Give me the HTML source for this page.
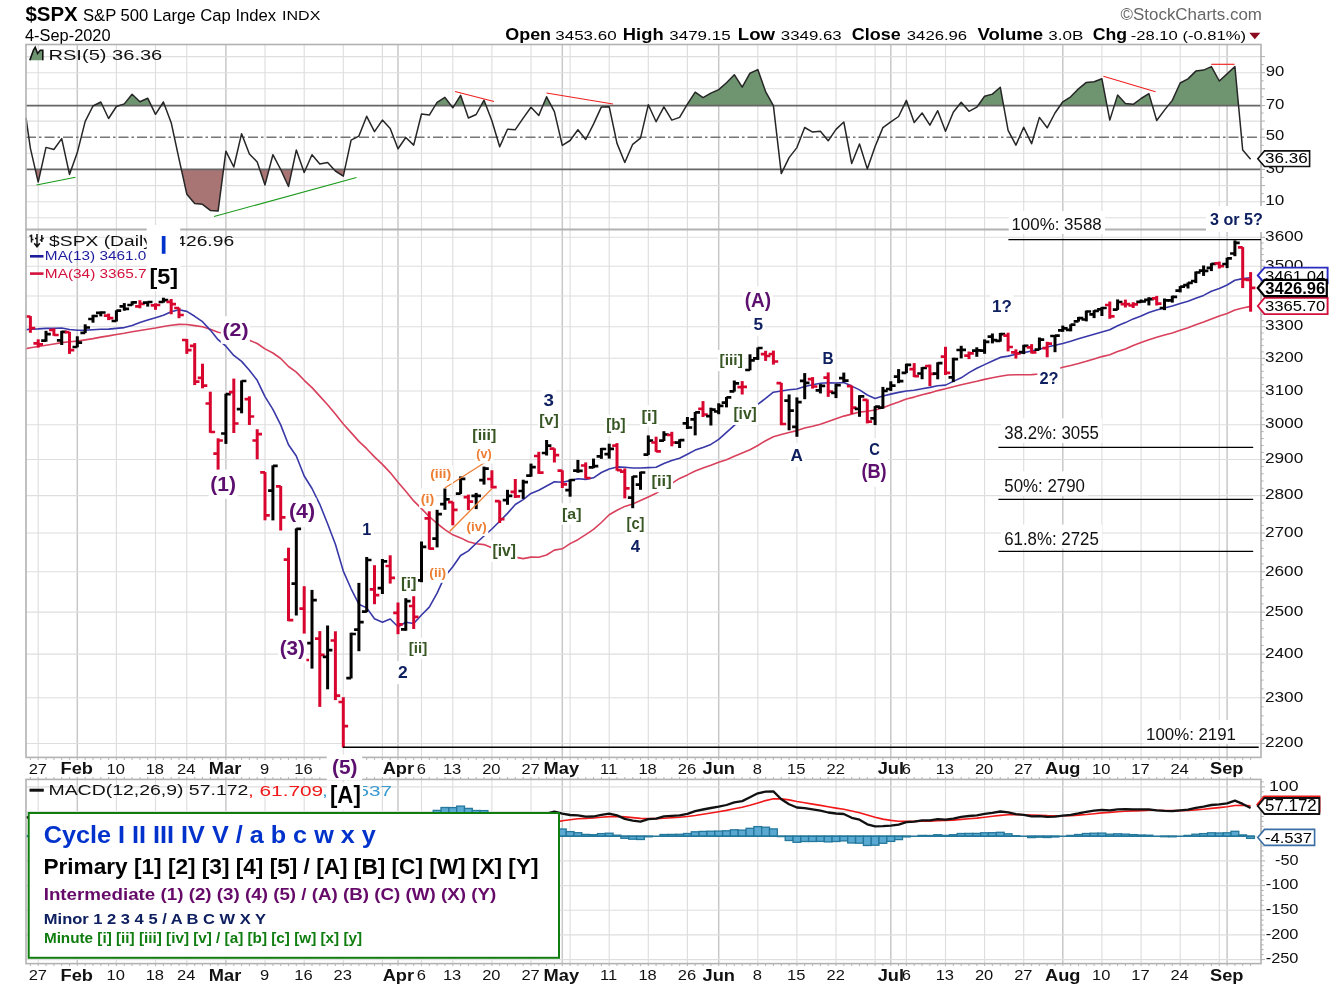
<!DOCTYPE html>
<html><head><meta charset="utf-8"><title>$SPX</title><style>html,body{margin:0;padding:0;background:#fff}svg{display:block;will-change:transform;opacity:0.999}</style></head><body>
<svg width="1329" height="990" viewBox="0 0 1329 990" font-family="Liberation Sans, sans-serif">
<rect width="1329" height="990" fill="#fff"/>
<defs><clipPath id="cR"><rect x="26.0" y="44.5" width="1235.0" height="185.0"/></clipPath><clipPath id="c70"><rect x="26.0" y="44.5" width="1235.0" height="61.099999999999994"/></clipPath><clipPath id="c30"><rect x="26.0" y="169.45" width="1235.0" height="60.05000000000001"/></clipPath><clipPath id="cP"><rect x="26.0" y="229.5" width="1235.0" height="527.9"/></clipPath><clipPath id="cM"><rect x="26.0" y="779.4" width="1235.0" height="184.20000000000005"/></clipPath></defs>
<text x="25.39" y="21.04" font-size="20.74" font-weight="bold" fill="#000" textLength="52.36" lengthAdjust="spacingAndGlyphs">$SPX</text>
<text x="82.95" y="20.67" font-size="16.79" fill="#000" textLength="193.24" lengthAdjust="spacingAndGlyphs">S&amp;P 500 Large Cap Index</text>
<text x="282.06" y="20.00" font-size="13.48" fill="#000" textLength="38.33" lengthAdjust="spacingAndGlyphs">INDX</text>
<text x="24.97" y="40.72" font-size="15.60" fill="#000" textLength="85.62" lengthAdjust="spacingAndGlyphs">4-Sep-2020</text>
<text x="1120.55" y="19.74" font-size="15.65" fill="#666" textLength="141.36" lengthAdjust="spacingAndGlyphs">©StockCharts.com</text>
<text x="505.28" y="39.80" font-size="15.70" font-weight="bold" fill="#000" textLength="45.80" lengthAdjust="spacingAndGlyphs">Open</text>
<text x="555.32" y="39.80" font-size="13.50" fill="#000" textLength="61.27" lengthAdjust="spacingAndGlyphs">3453.60</text>
<text x="622.81" y="39.80" font-size="15.70" font-weight="bold" fill="#000" textLength="40.83" lengthAdjust="spacingAndGlyphs">High</text>
<text x="669.32" y="39.80" font-size="13.50" fill="#000" textLength="61.36" lengthAdjust="spacingAndGlyphs">3479.15</text>
<text x="737.79" y="39.80" font-size="15.70" font-weight="bold" fill="#000" textLength="37.20" lengthAdjust="spacingAndGlyphs">Low</text>
<text x="780.83" y="39.80" font-size="13.50" fill="#000" textLength="60.84" lengthAdjust="spacingAndGlyphs">3349.63</text>
<text x="851.78" y="39.80" font-size="15.70" font-weight="bold" fill="#000" textLength="48.90" lengthAdjust="spacingAndGlyphs">Close</text>
<text x="906.83" y="39.80" font-size="13.50" fill="#000" textLength="60.33" lengthAdjust="spacingAndGlyphs">3426.96</text>
<text x="977.41" y="39.80" font-size="15.70" font-weight="bold" fill="#000" textLength="65.79" lengthAdjust="spacingAndGlyphs">Volume</text>
<text x="1048.32" y="39.80" font-size="13.50" fill="#000" textLength="35.07" lengthAdjust="spacingAndGlyphs">3.0B</text>
<text x="1092.79" y="39.80" font-size="15.70" font-weight="bold" fill="#000" textLength="34.34" lengthAdjust="spacingAndGlyphs">Chg</text>
<text x="1130.75" y="39.80" font-size="13.60" fill="#000" textLength="115.29" lengthAdjust="spacingAndGlyphs">-28.10 (-0.81%)</text>
<polygon points="1249.3,32.8 1260.4,32.8 1254.8,39.2" fill="#8b0a1e"/>
<line x1="38.2" y1="44.5" x2="38.2" y2="229.5" stroke="#dedede" stroke-width="1.15"/>
<line x1="116.4" y1="44.5" x2="116.4" y2="229.5" stroke="#dedede" stroke-width="1.15"/>
<line x1="155.5" y1="44.5" x2="155.5" y2="229.5" stroke="#dedede" stroke-width="1.15"/>
<line x1="186.8" y1="44.5" x2="186.8" y2="229.5" stroke="#dedede" stroke-width="1.15"/>
<line x1="265.0" y1="44.5" x2="265.0" y2="229.5" stroke="#dedede" stroke-width="1.15"/>
<line x1="304.2" y1="44.5" x2="304.2" y2="229.5" stroke="#dedede" stroke-width="1.15"/>
<line x1="343.3" y1="44.5" x2="343.3" y2="229.5" stroke="#dedede" stroke-width="1.15"/>
<line x1="382.4" y1="44.5" x2="382.4" y2="229.5" stroke="#dedede" stroke-width="1.15"/>
<line x1="421.5" y1="44.5" x2="421.5" y2="229.5" stroke="#dedede" stroke-width="1.15"/>
<line x1="452.8" y1="44.5" x2="452.8" y2="229.5" stroke="#dedede" stroke-width="1.15"/>
<line x1="491.9" y1="44.5" x2="491.9" y2="229.5" stroke="#dedede" stroke-width="1.15"/>
<line x1="531.0" y1="44.5" x2="531.0" y2="229.5" stroke="#dedede" stroke-width="1.15"/>
<line x1="570.1" y1="44.5" x2="570.1" y2="229.5" stroke="#dedede" stroke-width="1.15"/>
<line x1="609.2" y1="44.5" x2="609.2" y2="229.5" stroke="#dedede" stroke-width="1.15"/>
<line x1="648.3" y1="44.5" x2="648.3" y2="229.5" stroke="#dedede" stroke-width="1.15"/>
<line x1="687.4" y1="44.5" x2="687.4" y2="229.5" stroke="#dedede" stroke-width="1.15"/>
<line x1="757.8" y1="44.5" x2="757.8" y2="229.5" stroke="#dedede" stroke-width="1.15"/>
<line x1="796.9" y1="44.5" x2="796.9" y2="229.5" stroke="#dedede" stroke-width="1.15"/>
<line x1="836.0" y1="44.5" x2="836.0" y2="229.5" stroke="#dedede" stroke-width="1.15"/>
<line x1="875.1" y1="44.5" x2="875.1" y2="229.5" stroke="#dedede" stroke-width="1.15"/>
<line x1="906.4" y1="44.5" x2="906.4" y2="229.5" stroke="#dedede" stroke-width="1.15"/>
<line x1="945.5" y1="44.5" x2="945.5" y2="229.5" stroke="#dedede" stroke-width="1.15"/>
<line x1="984.6" y1="44.5" x2="984.6" y2="229.5" stroke="#dedede" stroke-width="1.15"/>
<line x1="1023.7" y1="44.5" x2="1023.7" y2="229.5" stroke="#dedede" stroke-width="1.15"/>
<line x1="1101.9" y1="44.5" x2="1101.9" y2="229.5" stroke="#dedede" stroke-width="1.15"/>
<line x1="1141.1" y1="44.5" x2="1141.1" y2="229.5" stroke="#dedede" stroke-width="1.15"/>
<line x1="1180.2" y1="44.5" x2="1180.2" y2="229.5" stroke="#dedede" stroke-width="1.15"/>
<line x1="1219.3" y1="44.5" x2="1219.3" y2="229.5" stroke="#dedede" stroke-width="1.15"/>
<line x1="77.3" y1="44.5" x2="77.3" y2="229.5" stroke="#c8c8c8" stroke-width="1.5"/>
<line x1="225.9" y1="44.5" x2="225.9" y2="229.5" stroke="#c8c8c8" stroke-width="1.5"/>
<line x1="398.0" y1="44.5" x2="398.0" y2="229.5" stroke="#c8c8c8" stroke-width="1.5"/>
<line x1="562.3" y1="44.5" x2="562.3" y2="229.5" stroke="#c8c8c8" stroke-width="1.5"/>
<line x1="718.7" y1="44.5" x2="718.7" y2="229.5" stroke="#c8c8c8" stroke-width="1.5"/>
<line x1="890.8" y1="44.5" x2="890.8" y2="229.5" stroke="#c8c8c8" stroke-width="1.5"/>
<line x1="1062.8" y1="44.5" x2="1062.8" y2="229.5" stroke="#c8c8c8" stroke-width="1.5"/>
<line x1="1227.1" y1="44.5" x2="1227.1" y2="229.5" stroke="#c8c8c8" stroke-width="1.5"/>
<line x1="26.0" y1="217.8" x2="1261.0" y2="217.8" stroke="#dedede" stroke-width="1.1"/>
<line x1="26.0" y1="201.7" x2="1261.0" y2="201.7" stroke="#dedede" stroke-width="1.1"/>
<line x1="26.0" y1="185.6" x2="1261.0" y2="185.6" stroke="#dedede" stroke-width="1.1"/>
<line x1="26.0" y1="153.3" x2="1261.0" y2="153.3" stroke="#dedede" stroke-width="1.1"/>
<line x1="26.0" y1="121.1" x2="1261.0" y2="121.1" stroke="#dedede" stroke-width="1.1"/>
<line x1="26.0" y1="88.8" x2="1261.0" y2="88.8" stroke="#dedede" stroke-width="1.1"/>
<line x1="26.0" y1="72.7" x2="1261.0" y2="72.7" stroke="#dedede" stroke-width="1.1"/>
<line x1="26.0" y1="56.6" x2="1261.0" y2="56.6" stroke="#dedede" stroke-width="1.1"/>
<polygon points="26.0,105.6 26.0,117.8 30.4,148.3 38.2,182.1 46.0,147.4 53.9,149.5 61.7,138.6 69.5,174.4 77.3,152.6 85.2,121.4 93.0,106.0 100.8,102.0 108.6,118.5 116.4,106.5 124.3,103.9 132.1,94.3 139.9,101.7 147.7,98.2 155.5,114.3 163.4,102.0 171.2,122.7 179.0,158.8 186.8,194.2 194.7,203.5 202.5,204.3 210.3,210.4 218.1,211.1 225.9,151.2 233.8,167.0 241.6,133.7 249.4,153.9 257.2,162.0 265.0,184.9 272.9,154.7 280.7,169.5 288.5,186.5 296.3,150.1 304.2,172.5 312.0,154.7 319.8,164.1 327.6,162.4 335.4,171.0 343.3,176.2 351.1,140.1 358.9,136.1 366.7,116.3 374.5,131.7 382.4,120.1 390.2,128.6 398.0,148.8 405.8,137.5 413.7,145.1 421.5,114.0 429.3,115.1 437.1,102.3 444.9,97.4 452.8,107.8 460.6,95.3 468.4,118.0 476.2,114.5 484.0,100.2 491.9,120.7 499.7,146.8 507.5,129.2 515.3,129.7 523.2,118.1 531.0,107.3 538.8,115.4 546.6,96.8 554.4,111.7 562.3,145.4 570.1,140.5 577.9,129.7 585.7,139.5 593.5,124.1 601.4,106.9 609.2,106.7 617.0,143.4 624.8,162.5 632.7,144.3 640.5,138.2 648.3,104.8 656.1,121.7 663.9,106.9 671.8,120.1 679.6,117.4 687.4,104.1 695.2,92.2 703.0,97.6 710.9,93.1 718.7,89.6 726.5,82.7 734.3,74.7 742.2,87.2 750.0,73.2 757.8,69.6 765.6,91.6 773.4,105.7 781.3,173.6 789.1,157.6 796.9,147.6 804.7,127.5 812.6,132.1 820.4,131.3 828.2,140.8 836.0,129.4 843.8,122.0 851.7,163.5 859.5,144.0 867.3,168.9 875.1,146.5 882.9,127.6 890.8,121.9 898.6,116.5 906.4,100.4 914.2,122.5 922.1,113.0 929.9,125.1 937.7,110.7 945.5,131.3 953.3,112.3 961.2,102.3 969.0,111.3 976.8,107.2 984.6,96.2 992.4,94.1 1000.3,87.3 1008.1,130.3 1015.9,145.1 1023.7,127.3 1031.6,143.7 1039.4,117.4 1047.2,127.8 1055.0,113.0 1062.8,101.8 1070.7,96.8 1078.5,88.8 1086.3,82.4 1094.1,81.7 1101.9,78.8 1109.8,120.1 1117.6,95.1 1125.4,103.5 1133.2,104.3 1141.1,98.5 1148.9,93.6 1156.7,120.5 1164.5,110.1 1172.3,100.4 1180.2,83.0 1188.0,78.9 1195.8,71.1 1203.6,70.1 1211.4,66.6 1219.3,81.0 1227.1,73.9 1234.9,66.5 1242.7,150.1 1250.6,159.2 1250.6,105.6" fill="#6e9470" clip-path="url(#c70)"/>
<polygon points="26.0,169.4 26.0,117.8 30.4,148.3 38.2,182.1 46.0,147.4 53.9,149.5 61.7,138.6 69.5,174.4 77.3,152.6 85.2,121.4 93.0,106.0 100.8,102.0 108.6,118.5 116.4,106.5 124.3,103.9 132.1,94.3 139.9,101.7 147.7,98.2 155.5,114.3 163.4,102.0 171.2,122.7 179.0,158.8 186.8,194.2 194.7,203.5 202.5,204.3 210.3,210.4 218.1,211.1 225.9,151.2 233.8,167.0 241.6,133.7 249.4,153.9 257.2,162.0 265.0,184.9 272.9,154.7 280.7,169.5 288.5,186.5 296.3,150.1 304.2,172.5 312.0,154.7 319.8,164.1 327.6,162.4 335.4,171.0 343.3,176.2 351.1,140.1 358.9,136.1 366.7,116.3 374.5,131.7 382.4,120.1 390.2,128.6 398.0,148.8 405.8,137.5 413.7,145.1 421.5,114.0 429.3,115.1 437.1,102.3 444.9,97.4 452.8,107.8 460.6,95.3 468.4,118.0 476.2,114.5 484.0,100.2 491.9,120.7 499.7,146.8 507.5,129.2 515.3,129.7 523.2,118.1 531.0,107.3 538.8,115.4 546.6,96.8 554.4,111.7 562.3,145.4 570.1,140.5 577.9,129.7 585.7,139.5 593.5,124.1 601.4,106.9 609.2,106.7 617.0,143.4 624.8,162.5 632.7,144.3 640.5,138.2 648.3,104.8 656.1,121.7 663.9,106.9 671.8,120.1 679.6,117.4 687.4,104.1 695.2,92.2 703.0,97.6 710.9,93.1 718.7,89.6 726.5,82.7 734.3,74.7 742.2,87.2 750.0,73.2 757.8,69.6 765.6,91.6 773.4,105.7 781.3,173.6 789.1,157.6 796.9,147.6 804.7,127.5 812.6,132.1 820.4,131.3 828.2,140.8 836.0,129.4 843.8,122.0 851.7,163.5 859.5,144.0 867.3,168.9 875.1,146.5 882.9,127.6 890.8,121.9 898.6,116.5 906.4,100.4 914.2,122.5 922.1,113.0 929.9,125.1 937.7,110.7 945.5,131.3 953.3,112.3 961.2,102.3 969.0,111.3 976.8,107.2 984.6,96.2 992.4,94.1 1000.3,87.3 1008.1,130.3 1015.9,145.1 1023.7,127.3 1031.6,143.7 1039.4,117.4 1047.2,127.8 1055.0,113.0 1062.8,101.8 1070.7,96.8 1078.5,88.8 1086.3,82.4 1094.1,81.7 1101.9,78.8 1109.8,120.1 1117.6,95.1 1125.4,103.5 1133.2,104.3 1141.1,98.5 1148.9,93.6 1156.7,120.5 1164.5,110.1 1172.3,100.4 1180.2,83.0 1188.0,78.9 1195.8,71.1 1203.6,70.1 1211.4,66.6 1219.3,81.0 1227.1,73.9 1234.9,66.5 1242.7,150.1 1250.6,159.2 1250.6,169.4" fill="#a87474" clip-path="url(#c30)"/>
<line x1="26.0" y1="105.6" x2="1261.0" y2="105.6" stroke="#666" stroke-width="1.6"/>
<line x1="26.0" y1="169.4" x2="1261.0" y2="169.4" stroke="#666" stroke-width="1.6"/>
<line x1="26.0" y1="137.2" x2="1261.0" y2="137.2" stroke="#777" stroke-width="1.4" stroke-dasharray="10 3 2.5 3"/>
<polyline points="26.0,117.8 30.4,148.3 38.2,182.1 46.0,147.4 53.9,149.5 61.7,138.6 69.5,174.4 77.3,152.6 85.2,121.4 93.0,106.0 100.8,102.0 108.6,118.5 116.4,106.5 124.3,103.9 132.1,94.3 139.9,101.7 147.7,98.2 155.5,114.3 163.4,102.0 171.2,122.7 179.0,158.8 186.8,194.2 194.7,203.5 202.5,204.3 210.3,210.4 218.1,211.1 225.9,151.2 233.8,167.0 241.6,133.7 249.4,153.9 257.2,162.0 265.0,184.9 272.9,154.7 280.7,169.5 288.5,186.5 296.3,150.1 304.2,172.5 312.0,154.7 319.8,164.1 327.6,162.4 335.4,171.0 343.3,176.2 351.1,140.1 358.9,136.1 366.7,116.3 374.5,131.7 382.4,120.1 390.2,128.6 398.0,148.8 405.8,137.5 413.7,145.1 421.5,114.0 429.3,115.1 437.1,102.3 444.9,97.4 452.8,107.8 460.6,95.3 468.4,118.0 476.2,114.5 484.0,100.2 491.9,120.7 499.7,146.8 507.5,129.2 515.3,129.7 523.2,118.1 531.0,107.3 538.8,115.4 546.6,96.8 554.4,111.7 562.3,145.4 570.1,140.5 577.9,129.7 585.7,139.5 593.5,124.1 601.4,106.9 609.2,106.7 617.0,143.4 624.8,162.5 632.7,144.3 640.5,138.2 648.3,104.8 656.1,121.7 663.9,106.9 671.8,120.1 679.6,117.4 687.4,104.1 695.2,92.2 703.0,97.6 710.9,93.1 718.7,89.6 726.5,82.7 734.3,74.7 742.2,87.2 750.0,73.2 757.8,69.6 765.6,91.6 773.4,105.7 781.3,173.6 789.1,157.6 796.9,147.6 804.7,127.5 812.6,132.1 820.4,131.3 828.2,140.8 836.0,129.4 843.8,122.0 851.7,163.5 859.5,144.0 867.3,168.9 875.1,146.5 882.9,127.6 890.8,121.9 898.6,116.5 906.4,100.4 914.2,122.5 922.1,113.0 929.9,125.1 937.7,110.7 945.5,131.3 953.3,112.3 961.2,102.3 969.0,111.3 976.8,107.2 984.6,96.2 992.4,94.1 1000.3,87.3 1008.1,130.3 1015.9,145.1 1023.7,127.3 1031.6,143.7 1039.4,117.4 1047.2,127.8 1055.0,113.0 1062.8,101.8 1070.7,96.8 1078.5,88.8 1086.3,82.4 1094.1,81.7 1101.9,78.8 1109.8,120.1 1117.6,95.1 1125.4,103.5 1133.2,104.3 1141.1,98.5 1148.9,93.6 1156.7,120.5 1164.5,110.1 1172.3,100.4 1180.2,83.0 1188.0,78.9 1195.8,71.1 1203.6,70.1 1211.4,66.6 1219.3,81.0 1227.1,73.9 1234.9,66.5 1242.7,150.1 1250.6,159.2" fill="none" stroke="#262626" stroke-width="1.5" stroke-linejoin="round"/>
<line x1="36.5" y1="185" x2="75.5" y2="177.3" stroke="#1a9a1a" stroke-width="1.15"/>
<line x1="214" y1="216.5" x2="356.5" y2="177.5" stroke="#1a9a1a" stroke-width="1.15"/>
<line x1="455" y1="91.5" x2="494" y2="101.5" stroke="#f02020" stroke-width="1.15"/>
<line x1="546.5" y1="93" x2="613" y2="104" stroke="#f02020" stroke-width="1.15"/>
<line x1="1103.4" y1="76.2" x2="1155.5" y2="91.7" stroke="#f02020" stroke-width="1.15"/>
<line x1="1211.3" y1="64.3" x2="1234.5" y2="64.3" stroke="#f02020" stroke-width="1.15"/>
<path d="M29.8,60.2 L33.5,50 L35.2,47.3 L37.6,53.5 L40.3,50.3 L42.8,50.3 L42.8,60.2 Z" fill="#6e9470"/>
<path d="M29.8,60.2 L33.5,50 L35.2,47.3 L37.6,53.5 L40.3,50.3 L42.8,50.3 L42.8,60.2" fill="none" stroke="#111" stroke-width="1.6"/>
<text x="48.49" y="59.56" font-size="14.01" fill="#111" textLength="113.80" lengthAdjust="spacingAndGlyphs">RSI(5) 36.36</text>
<line x1="38.2" y1="229.5" x2="38.2" y2="757.4" stroke="#dedede" stroke-width="1.15"/>
<line x1="116.4" y1="229.5" x2="116.4" y2="757.4" stroke="#dedede" stroke-width="1.15"/>
<line x1="155.5" y1="229.5" x2="155.5" y2="757.4" stroke="#dedede" stroke-width="1.15"/>
<line x1="186.8" y1="229.5" x2="186.8" y2="757.4" stroke="#dedede" stroke-width="1.15"/>
<line x1="265.0" y1="229.5" x2="265.0" y2="757.4" stroke="#dedede" stroke-width="1.15"/>
<line x1="304.2" y1="229.5" x2="304.2" y2="757.4" stroke="#dedede" stroke-width="1.15"/>
<line x1="343.3" y1="229.5" x2="343.3" y2="757.4" stroke="#dedede" stroke-width="1.15"/>
<line x1="382.4" y1="229.5" x2="382.4" y2="757.4" stroke="#dedede" stroke-width="1.15"/>
<line x1="421.5" y1="229.5" x2="421.5" y2="757.4" stroke="#dedede" stroke-width="1.15"/>
<line x1="452.8" y1="229.5" x2="452.8" y2="757.4" stroke="#dedede" stroke-width="1.15"/>
<line x1="491.9" y1="229.5" x2="491.9" y2="757.4" stroke="#dedede" stroke-width="1.15"/>
<line x1="531.0" y1="229.5" x2="531.0" y2="757.4" stroke="#dedede" stroke-width="1.15"/>
<line x1="570.1" y1="229.5" x2="570.1" y2="757.4" stroke="#dedede" stroke-width="1.15"/>
<line x1="609.2" y1="229.5" x2="609.2" y2="757.4" stroke="#dedede" stroke-width="1.15"/>
<line x1="648.3" y1="229.5" x2="648.3" y2="757.4" stroke="#dedede" stroke-width="1.15"/>
<line x1="687.4" y1="229.5" x2="687.4" y2="757.4" stroke="#dedede" stroke-width="1.15"/>
<line x1="757.8" y1="229.5" x2="757.8" y2="757.4" stroke="#dedede" stroke-width="1.15"/>
<line x1="796.9" y1="229.5" x2="796.9" y2="757.4" stroke="#dedede" stroke-width="1.15"/>
<line x1="836.0" y1="229.5" x2="836.0" y2="757.4" stroke="#dedede" stroke-width="1.15"/>
<line x1="875.1" y1="229.5" x2="875.1" y2="757.4" stroke="#dedede" stroke-width="1.15"/>
<line x1="906.4" y1="229.5" x2="906.4" y2="757.4" stroke="#dedede" stroke-width="1.15"/>
<line x1="945.5" y1="229.5" x2="945.5" y2="757.4" stroke="#dedede" stroke-width="1.15"/>
<line x1="984.6" y1="229.5" x2="984.6" y2="757.4" stroke="#dedede" stroke-width="1.15"/>
<line x1="1023.7" y1="229.5" x2="1023.7" y2="757.4" stroke="#dedede" stroke-width="1.15"/>
<line x1="1101.9" y1="229.5" x2="1101.9" y2="757.4" stroke="#dedede" stroke-width="1.15"/>
<line x1="1141.1" y1="229.5" x2="1141.1" y2="757.4" stroke="#dedede" stroke-width="1.15"/>
<line x1="1180.2" y1="229.5" x2="1180.2" y2="757.4" stroke="#dedede" stroke-width="1.15"/>
<line x1="1219.3" y1="229.5" x2="1219.3" y2="757.4" stroke="#dedede" stroke-width="1.15"/>
<line x1="77.3" y1="229.5" x2="77.3" y2="757.4" stroke="#c8c8c8" stroke-width="1.5"/>
<line x1="225.9" y1="229.5" x2="225.9" y2="757.4" stroke="#c8c8c8" stroke-width="1.5"/>
<line x1="398.0" y1="229.5" x2="398.0" y2="757.4" stroke="#c8c8c8" stroke-width="1.5"/>
<line x1="562.3" y1="229.5" x2="562.3" y2="757.4" stroke="#c8c8c8" stroke-width="1.5"/>
<line x1="718.7" y1="229.5" x2="718.7" y2="757.4" stroke="#c8c8c8" stroke-width="1.5"/>
<line x1="890.8" y1="229.5" x2="890.8" y2="757.4" stroke="#c8c8c8" stroke-width="1.5"/>
<line x1="1062.8" y1="229.5" x2="1062.8" y2="757.4" stroke="#c8c8c8" stroke-width="1.5"/>
<line x1="1227.1" y1="229.5" x2="1227.1" y2="757.4" stroke="#c8c8c8" stroke-width="1.5"/>
<line x1="26.0" y1="743.5" x2="1261.0" y2="743.5" stroke="#dedede" stroke-width="1.1"/>
<line x1="26.0" y1="697.8" x2="1261.0" y2="697.8" stroke="#dedede" stroke-width="1.1"/>
<line x1="26.0" y1="654.1" x2="1261.0" y2="654.1" stroke="#dedede" stroke-width="1.1"/>
<line x1="26.0" y1="612.1" x2="1261.0" y2="612.1" stroke="#dedede" stroke-width="1.1"/>
<line x1="26.0" y1="571.8" x2="1261.0" y2="571.8" stroke="#dedede" stroke-width="1.1"/>
<line x1="26.0" y1="533.0" x2="1261.0" y2="533.0" stroke="#dedede" stroke-width="1.1"/>
<line x1="26.0" y1="495.6" x2="1261.0" y2="495.6" stroke="#dedede" stroke-width="1.1"/>
<line x1="26.0" y1="459.5" x2="1261.0" y2="459.5" stroke="#dedede" stroke-width="1.1"/>
<line x1="26.0" y1="424.7" x2="1261.0" y2="424.7" stroke="#dedede" stroke-width="1.1"/>
<line x1="26.0" y1="391.0" x2="1261.0" y2="391.0" stroke="#dedede" stroke-width="1.1"/>
<line x1="26.0" y1="358.3" x2="1261.0" y2="358.3" stroke="#dedede" stroke-width="1.1"/>
<line x1="26.0" y1="326.7" x2="1261.0" y2="326.7" stroke="#dedede" stroke-width="1.1"/>
<line x1="26.0" y1="296.0" x2="1261.0" y2="296.0" stroke="#dedede" stroke-width="1.1"/>
<line x1="26.0" y1="266.2" x2="1261.0" y2="266.2" stroke="#dedede" stroke-width="1.1"/>
<line x1="26.0" y1="237.3" x2="1261.0" y2="237.3" stroke="#dedede" stroke-width="1.1"/>
<polyline points="22.6,349.4 30.4,347.7 38.2,346.5 46.0,345.3 53.9,344.0 61.7,342.6 69.5,341.8 77.3,341.1 85.2,339.9 93.0,338.6 100.8,337.1 108.6,335.9 116.4,334.5 124.3,333.3 132.1,331.8 139.9,330.5 147.7,329.2 155.5,328.0 163.4,326.5 171.2,325.2 179.0,324.4 186.8,324.5 194.7,325.6 202.5,326.7 210.3,329.2 218.1,332.2 225.9,333.8 233.8,336.4 241.6,337.8 249.4,340.3 257.2,343.5 265.0,348.9 272.9,353.0 280.7,358.5 288.5,366.5 296.3,372.1 304.2,380.3 312.0,387.6 319.8,396.1 327.6,404.7 335.4,413.9 343.3,424.0 351.1,432.6 358.9,441.4 366.7,448.7 374.5,456.9 382.4,464.4 390.2,472.6 398.0,482.2 405.8,491.3 413.7,500.9 421.5,508.6 429.3,516.6 437.1,523.5 444.9,529.6 452.8,534.8 460.6,537.9 468.4,541.7 476.2,543.7 484.0,544.6 491.9,547.7 499.7,550.7 507.5,554.5 515.3,557.1 523.2,558.6 531.0,557.1 538.8,557.3 546.6,555.0 554.4,550.1 562.3,548.8 570.1,543.6 577.9,539.7 585.7,534.7 593.5,529.4 601.4,522.5 609.2,514.8 617.0,510.2 624.8,506.4 632.7,504.0 640.5,500.5 648.3,496.9 656.1,493.3 663.9,487.9 671.8,483.4 679.6,478.4 687.4,474.9 695.2,471.0 703.0,468.0 710.9,465.3 718.7,462.3 726.5,459.8 734.3,456.3 742.2,453.0 750.0,449.7 757.8,445.5 765.6,440.7 773.4,436.7 781.3,434.6 789.1,432.5 796.9,430.6 804.7,428.0 812.6,426.2 820.4,424.2 828.2,421.5 836.0,418.7 843.8,416.1 851.7,414.1 859.5,412.1 867.3,411.3 875.1,410.0 882.9,407.8 890.8,404.8 898.6,402.1 906.4,399.0 914.2,397.1 922.1,394.7 929.9,392.9 937.7,390.6 945.5,388.7 953.3,386.7 961.2,384.8 969.0,383.0 976.8,381.3 984.6,379.4 992.4,377.7 1000.3,376.2 1008.1,375.0 1015.9,374.8 1023.7,374.7 1031.6,374.6 1039.4,374.0 1047.2,371.6 1055.0,369.4 1062.8,367.3 1070.7,365.5 1078.5,363.5 1086.3,361.3 1094.1,358.9 1101.9,356.6 1109.8,354.7 1117.6,351.6 1125.4,348.9 1133.2,345.5 1141.1,342.4 1148.9,339.7 1156.7,337.3 1164.5,335.0 1172.3,332.9 1180.2,330.3 1188.0,327.8 1195.8,324.8 1203.6,322.1 1211.4,318.9 1219.3,316.1 1227.1,313.4 1234.9,310.1 1242.7,308.0 1250.6,306.4" fill="none" stroke="#d8405c" stroke-width="1.6" stroke-linejoin="round" clip-path="url(#cP)"/>
<polyline points="22.6,330.3 30.4,329.1 38.2,328.9 46.0,328.4 53.9,328.4 61.7,328.0 69.5,329.5 77.3,330.3 85.2,330.1 93.0,329.7 100.8,329.3 108.6,329.1 116.4,328.4 124.3,327.6 132.1,325.6 139.9,322.5 147.7,320.0 155.5,317.7 163.4,315.3 171.2,311.8 179.0,309.7 186.8,311.4 194.7,316.3 202.5,321.7 210.3,330.1 218.1,339.7 225.9,346.2 233.8,355.4 241.6,361.4 249.4,370.3 257.2,380.3 265.0,396.6 272.9,409.3 280.7,424.9 288.5,444.7 296.3,456.0 304.2,476.0 312.0,488.5 319.8,504.3 327.6,523.8 335.4,544.3 343.3,571.1 351.1,588.8 358.9,604.2 366.7,607.9 374.5,618.7 382.4,622.3 390.2,619.0 398.0,626.7 405.8,622.2 413.7,623.5 421.5,615.0 429.3,607.1 437.1,593.2 444.9,576.2 452.8,566.7 460.6,555.5 468.4,550.9 476.2,543.3 484.0,536.0 491.9,529.0 499.7,521.2 507.5,513.4 515.3,504.5 523.2,499.6 531.0,493.4 538.8,490.2 546.6,486.0 554.4,481.8 562.3,482.3 570.1,480.6 577.9,478.7 585.7,479.4 593.5,477.8 601.4,472.5 609.2,468.9 617.0,466.9 624.8,467.3 632.7,468.0 640.5,468.0 648.3,467.6 656.1,467.3 663.9,463.5 671.8,460.6 679.6,458.2 687.4,454.3 695.2,450.1 703.0,447.4 710.9,444.4 718.7,439.4 726.5,432.4 734.3,425.3 742.2,418.7 750.0,412.5 757.8,404.4 765.6,398.4 773.4,392.2 781.3,391.0 789.1,389.7 796.9,389.0 804.7,386.5 812.6,384.8 820.4,383.3 828.2,382.8 836.0,383.0 843.8,382.5 851.7,386.1 859.5,389.9 867.3,395.0 875.1,398.5 882.9,396.0 890.8,394.1 898.6,392.4 906.4,391.0 914.2,390.2 922.1,388.8 929.9,387.4 937.7,385.7 945.5,385.1 953.3,381.4 961.2,377.8 969.0,372.6 976.8,368.3 984.6,364.6 992.4,361.0 1000.3,357.4 1008.1,356.1 1015.9,354.3 1023.7,352.6 1031.6,351.0 1039.4,349.2 1047.2,347.0 1055.0,345.2 1062.8,343.5 1070.7,341.3 1078.5,338.8 1086.3,336.4 1094.1,334.2 1101.9,332.1 1109.8,329.8 1117.6,325.8 1125.4,322.6 1133.2,318.9 1141.1,316.0 1148.9,312.6 1156.7,310.1 1164.5,308.0 1172.3,305.9 1180.2,303.4 1188.0,301.2 1195.8,298.3 1203.6,295.4 1211.4,291.3 1219.3,288.6 1227.1,285.0 1234.9,280.3 1242.7,278.6 1250.6,277.7" fill="none" stroke="#3838a8" stroke-width="1.6" stroke-linejoin="round" clip-path="url(#cP)"/>
<path d="M30.4,316.1V332.8" stroke="#d8062f" stroke-width="3" fill="none"/><path d="M25.6,316.5H30.4M30.4,328.1H35.2" stroke="#d8062f" stroke-width="2.7" fill="none"/>
<path d="M38.2,339.3V347.6" stroke="#d8062f" stroke-width="3" fill="none"/><path d="M33.4,343.3H38.2M38.2,344.4H43.0" stroke="#d8062f" stroke-width="2.7" fill="none"/>
<path d="M46.0,330.8V341.7" stroke="#000" stroke-width="3" fill="none"/><path d="M41.2,340.7H46.0M46.0,334.1H50.8" stroke="#000" stroke-width="2.7" fill="none"/>
<path d="M53.9,328.4V335.8" stroke="#d8062f" stroke-width="3" fill="none"/><path d="M49.1,330.0H53.9M53.9,335.0H58.7" stroke="#d8062f" stroke-width="2.7" fill="none"/>
<path d="M61.7,330.8V345.0" stroke="#000" stroke-width="3" fill="none"/><path d="M56.9,340.4H61.7M61.7,331.8H66.5" stroke="#000" stroke-width="2.7" fill="none"/>
<path d="M69.5,331.9V353.9" stroke="#d8062f" stroke-width="3" fill="none"/><path d="M64.7,332.2H69.5M69.5,350.2H74.3" stroke="#d8062f" stroke-width="2.7" fill="none"/>
<path d="M77.3,336.3V347.3" stroke="#000" stroke-width="3" fill="none"/><path d="M72.5,347.0H77.3M77.3,342.7H82.1" stroke="#000" stroke-width="2.7" fill="none"/>
<path d="M85.2,324.3V333.1" stroke="#000" stroke-width="3" fill="none"/><path d="M80.4,332.8H85.2M85.2,327.5H90.0" stroke="#000" stroke-width="2.7" fill="none"/>
<path d="M93.0,314.8V322.7" stroke="#000" stroke-width="3" fill="none"/><path d="M88.2,319.0H93.0M93.0,316.0H97.8" stroke="#000" stroke-width="2.7" fill="none"/>
<path d="M100.8,311.6V316.4" stroke="#000" stroke-width="3" fill="none"/><path d="M96.0,312.8H100.8M100.8,312.5H105.6" stroke="#000" stroke-width="2.7" fill="none"/>
<path d="M108.6,313.6V320.1" stroke="#d8062f" stroke-width="3" fill="none"/><path d="M103.8,315.7H108.6M108.6,318.1H113.4" stroke="#d8062f" stroke-width="2.7" fill="none"/>
<path d="M116.4,310.3V321.5" stroke="#000" stroke-width="3" fill="none"/><path d="M111.6,321.0H116.4M116.4,310.6H121.2" stroke="#000" stroke-width="2.7" fill="none"/>
<path d="M124.3,303.1V310.7" stroke="#000" stroke-width="3" fill="none"/><path d="M119.5,306.4H124.3M124.3,308.9H129.1" stroke="#000" stroke-width="2.7" fill="none"/>
<path d="M132.1,301.3V305.5" stroke="#000" stroke-width="3" fill="none"/><path d="M127.3,305.0H132.1M132.1,302.3H136.9" stroke="#000" stroke-width="2.7" fill="none"/>
<path d="M139.9,300.2V308.3" stroke="#d8062f" stroke-width="3" fill="none"/><path d="M135.1,306.4H139.9M139.9,303.9H144.7" stroke="#d8062f" stroke-width="2.7" fill="none"/>
<path d="M147.7,301.6V306.6" stroke="#000" stroke-width="3" fill="none"/><path d="M142.9,302.7H147.7M147.7,302.0H152.5" stroke="#000" stroke-width="2.7" fill="none"/>
<path d="M155.5,303.3V309.8" stroke="#d8062f" stroke-width="3" fill="none"/><path d="M150.7,305.4H155.5M155.5,305.0H160.3" stroke="#d8062f" stroke-width="2.7" fill="none"/>
<path d="M163.4,297.7V302.7" stroke="#000" stroke-width="3" fill="none"/><path d="M158.6,302.0H163.4M163.4,300.2H168.2" stroke="#000" stroke-width="2.7" fill="none"/>
<path d="M171.2,299.0V314.3" stroke="#d8062f" stroke-width="3" fill="none"/><path d="M166.4,301.9H171.2M171.2,304.1H176.0" stroke="#d8062f" stroke-width="2.7" fill="none"/>
<path d="M179.0,307.7V318.2" stroke="#d8062f" stroke-width="3" fill="none"/><path d="M174.2,308.0H179.0M179.0,315.0H183.8" stroke="#d8062f" stroke-width="2.7" fill="none"/>
<path d="M186.8,339.0V353.9" stroke="#d8062f" stroke-width="3" fill="none"/><path d="M182.0,340.0H186.8M186.8,350.1H191.6" stroke="#d8062f" stroke-width="2.7" fill="none"/>
<path d="M194.7,343.1V385.1" stroke="#d8062f" stroke-width="3" fill="none"/><path d="M189.9,345.9H194.7M194.7,381.7H199.5" stroke="#d8062f" stroke-width="2.7" fill="none"/>
<path d="M202.5,363.7V388.3" stroke="#d8062f" stroke-width="3" fill="none"/><path d="M197.7,377.8H202.5M202.5,385.6H207.3" stroke="#d8062f" stroke-width="2.7" fill="none"/>
<path d="M210.3,391.7V432.8" stroke="#d8062f" stroke-width="3" fill="none"/><path d="M205.5,403.5H210.3M210.3,432.0H215.1" stroke="#d8062f" stroke-width="2.7" fill="none"/>
<path d="M218.1,438.3V475.6" stroke="#d8062f" stroke-width="3" fill="none"/><path d="M213.3,453.6H218.1M218.1,440.5H222.9" stroke="#d8062f" stroke-width="2.7" fill="none"/>
<path d="M225.9,393.7V443.9" stroke="#000" stroke-width="3" fill="none"/><path d="M221.1,433.5H225.9M225.9,394.2H230.7" stroke="#000" stroke-width="2.7" fill="none"/>
<path d="M233.8,378.6V433.0" stroke="#d8062f" stroke-width="3" fill="none"/><path d="M229.0,392.2H233.8M233.8,423.5H238.6" stroke="#d8062f" stroke-width="2.7" fill="none"/>
<path d="M241.6,380.5V413.3" stroke="#000" stroke-width="3" fill="none"/><path d="M236.8,409.1H241.6M241.6,381.0H246.4" stroke="#000" stroke-width="2.7" fill="none"/>
<path d="M249.4,396.3V425.0" stroke="#d8062f" stroke-width="3" fill="none"/><path d="M244.6,399.1H249.4M249.4,416.5H254.2" stroke="#d8062f" stroke-width="2.7" fill="none"/>
<path d="M257.2,429.2V459.3" stroke="#d8062f" stroke-width="3" fill="none"/><path d="M252.4,440.5H257.2M257.2,434.2H262.0" stroke="#d8062f" stroke-width="2.7" fill="none"/>
<path d="M265.0,472.1V520.3" stroke="#d8062f" stroke-width="3" fill="none"/><path d="M260.2,472.4H265.0M265.0,515.4H269.8" stroke="#d8062f" stroke-width="2.7" fill="none"/>
<path d="M272.9,465.4V520.4" stroke="#000" stroke-width="3" fill="none"/><path d="M268.1,490.7H272.9M272.9,465.9H277.7" stroke="#000" stroke-width="2.7" fill="none"/>
<path d="M280.7,486.0V530.5" stroke="#d8062f" stroke-width="3" fill="none"/><path d="M275.9,486.3H280.7M280.7,517.4H285.5" stroke="#d8062f" stroke-width="2.7" fill="none"/>
<path d="M288.5,547.7V621.1" stroke="#d8062f" stroke-width="3" fill="none"/><path d="M283.7,559.7H288.5M288.5,620.1H293.3" stroke="#d8062f" stroke-width="2.7" fill="none"/>
<path d="M296.3,528.4V615.5" stroke="#000" stroke-width="3" fill="none"/><path d="M291.5,583.7H296.3M296.3,528.8H301.1" stroke="#000" stroke-width="2.7" fill="none"/>
<path d="M304.2,586.2V662.6" stroke="#d8062f" stroke-width="3" fill="none"/><path d="M299.4,608.6H304.2M304.2,660.0H309.0" stroke="#d8062f" stroke-width="2.7" fill="none"/>
<path d="M312.0,589.9V668.6" stroke="#000" stroke-width="3" fill="none"/><path d="M307.2,643.1H312.0M312.0,600.2H316.8" stroke="#000" stroke-width="2.7" fill="none"/>
<path d="M319.8,631.1V706.9" stroke="#d8062f" stroke-width="3" fill="none"/><path d="M315.0,638.6H319.8M319.8,654.9H324.6" stroke="#d8062f" stroke-width="2.7" fill="none"/>
<path d="M327.6,625.5V689.3" stroke="#000" stroke-width="3" fill="none"/><path d="M322.8,656.9H327.6M327.6,650.1H332.4" stroke="#000" stroke-width="2.7" fill="none"/>
<path d="M335.4,631.3V700.1" stroke="#d8062f" stroke-width="3" fill="none"/><path d="M330.6,640.5H335.4M335.4,695.6H340.2" stroke="#d8062f" stroke-width="2.7" fill="none"/>
<path d="M343.3,697.2V747.6" stroke="#d8062f" stroke-width="3" fill="none"/><path d="M338.5,702.0H343.3M343.3,726.2H348.1" stroke="#d8062f" stroke-width="2.7" fill="none"/>
<path d="M351.1,632.7V678.4" stroke="#000" stroke-width="3" fill="none"/><path d="M346.3,678.1H351.1M351.1,634.0H355.9" stroke="#000" stroke-width="2.7" fill="none"/>
<path d="M358.9,582.9V651.2" stroke="#000" stroke-width="3" fill="none"/><path d="M354.1,629.6H358.9M358.9,622.2H363.7" stroke="#000" stroke-width="2.7" fill="none"/>
<path d="M366.7,557.0V612.1" stroke="#000" stroke-width="3" fill="none"/><path d="M361.9,611.6H366.7M366.7,560.0H371.5" stroke="#000" stroke-width="2.7" fill="none"/>
<path d="M374.5,565.2V604.2" stroke="#d8062f" stroke-width="3" fill="none"/><path d="M369.7,589.4H374.5M374.5,595.2H379.3" stroke="#d8062f" stroke-width="2.7" fill="none"/>
<path d="M382.4,559.0V594.0" stroke="#000" stroke-width="3" fill="none"/><path d="M377.6,588.1H382.4M382.4,561.3H387.2" stroke="#000" stroke-width="2.7" fill="none"/>
<path d="M390.2,555.3V583.6" stroke="#d8062f" stroke-width="3" fill="none"/><path d="M385.4,566.0H390.2M390.2,577.9H395.0" stroke="#d8062f" stroke-width="2.7" fill="none"/>
<path d="M398.0,602.5V634.2" stroke="#d8062f" stroke-width="3" fill="none"/><path d="M393.2,612.9H398.0M398.0,624.3H402.8" stroke="#d8062f" stroke-width="2.7" fill="none"/>
<path d="M405.8,598.2V630.7" stroke="#000" stroke-width="3" fill="none"/><path d="M401.0,629.3H405.8M405.8,601.1H410.6" stroke="#000" stroke-width="2.7" fill="none"/>
<path d="M413.7,596.2V629.0" stroke="#d8062f" stroke-width="3" fill="none"/><path d="M408.9,606.0H413.7M413.7,616.8H418.5" stroke="#d8062f" stroke-width="2.7" fill="none"/>
<path d="M421.5,541.5V582.2" stroke="#000" stroke-width="3" fill="none"/><path d="M416.7,580.4H421.5M421.5,546.9H426.3" stroke="#000" stroke-width="2.7" fill="none"/>
<path d="M429.3,511.3V549.5" stroke="#d8062f" stroke-width="3" fill="none"/><path d="M424.5,518.4H429.3M429.3,548.6H434.1" stroke="#d8062f" stroke-width="2.7" fill="none"/>
<path d="M437.1,509.8V547.4" stroke="#000" stroke-width="3" fill="none"/><path d="M432.3,538.7H437.1M437.1,514.1H441.9" stroke="#000" stroke-width="2.7" fill="none"/>
<path d="M444.9,488.5V509.8" stroke="#000" stroke-width="3" fill="none"/><path d="M440.1,504.1H444.9M444.9,499.4H449.7" stroke="#000" stroke-width="2.7" fill="none"/>
<path d="M452.8,501.8V525.3" stroke="#d8062f" stroke-width="3" fill="none"/><path d="M448.0,502.1H452.8M452.8,509.8H457.6" stroke="#d8062f" stroke-width="2.7" fill="none"/>
<path d="M460.6,476.4V494.0" stroke="#000" stroke-width="3" fill="none"/><path d="M455.8,493.7H460.6M460.6,478.8H465.4" stroke="#000" stroke-width="2.7" fill="none"/>
<path d="M468.4,494.6V510.1" stroke="#d8062f" stroke-width="3" fill="none"/><path d="M463.6,497.2H468.4M468.4,501.7H473.2" stroke="#d8062f" stroke-width="2.7" fill="none"/>
<path d="M476.2,492.9V509.1" stroke="#000" stroke-width="3" fill="none"/><path d="M471.4,495.9H476.2M476.2,495.8H481.0" stroke="#000" stroke-width="2.7" fill="none"/>
<path d="M484.0,466.6V484.6" stroke="#000" stroke-width="3" fill="none"/><path d="M479.2,480.1H484.0M484.0,468.6H488.8" stroke="#000" stroke-width="2.7" fill="none"/>
<path d="M491.9,470.3V488.4" stroke="#d8062f" stroke-width="3" fill="none"/><path d="M487.1,479.0H491.9M491.9,487.1H496.7" stroke="#d8062f" stroke-width="2.7" fill="none"/>
<path d="M499.7,500.6V523.0" stroke="#d8062f" stroke-width="3" fill="none"/><path d="M494.9,501.2H499.7M499.7,519.2H504.5" stroke="#d8062f" stroke-width="2.7" fill="none"/>
<path d="M507.5,489.8V504.8" stroke="#000" stroke-width="3" fill="none"/><path d="M502.7,500.1H507.5M507.5,495.9H512.3" stroke="#000" stroke-width="2.7" fill="none"/>
<path d="M515.3,479.0V498.0" stroke="#d8062f" stroke-width="3" fill="none"/><path d="M510.5,491.8H515.3M515.3,496.4H520.1" stroke="#d8062f" stroke-width="2.7" fill="none"/>
<path d="M523.2,479.7V498.9" stroke="#000" stroke-width="3" fill="none"/><path d="M518.4,491.0H523.2M523.2,482.2H528.0" stroke="#000" stroke-width="2.7" fill="none"/>
<path d="M531.0,463.6V476.7" stroke="#000" stroke-width="3" fill="none"/><path d="M526.2,475.7H531.0M531.0,467.2H535.8" stroke="#000" stroke-width="2.7" fill="none"/>
<path d="M538.8,451.8V473.9" stroke="#d8062f" stroke-width="3" fill="none"/><path d="M534.0,456.0H538.8M538.8,472.6H543.6" stroke="#d8062f" stroke-width="2.7" fill="none"/>
<path d="M546.6,440.0V455.5" stroke="#000" stroke-width="3" fill="none"/><path d="M541.8,453.0H546.6M546.6,445.6H551.4" stroke="#000" stroke-width="2.7" fill="none"/>
<path d="M554.4,448.3V462.5" stroke="#d8062f" stroke-width="3" fill="none"/><path d="M549.6,448.6H554.4M554.4,455.1H559.2" stroke="#d8062f" stroke-width="2.7" fill="none"/>
<path d="M562.3,470.3V488.0" stroke="#d8062f" stroke-width="3" fill="none"/><path d="M557.5,470.6H562.3M562.3,484.4H567.1" stroke="#d8062f" stroke-width="2.7" fill="none"/>
<path d="M570.1,479.2V496.7" stroke="#000" stroke-width="3" fill="none"/><path d="M565.3,490.1H570.1M570.1,480.0H574.9" stroke="#000" stroke-width="2.7" fill="none"/>
<path d="M577.9,459.9V472.8" stroke="#000" stroke-width="3" fill="none"/><path d="M573.1,470.6H577.9M577.9,470.8H582.7" stroke="#000" stroke-width="2.7" fill="none"/>
<path d="M585.7,462.4V478.6" stroke="#d8062f" stroke-width="3" fill="none"/><path d="M580.9,465.5H585.7M585.7,478.0H590.5" stroke="#d8062f" stroke-width="2.7" fill="none"/>
<path d="M593.5,458.6V468.2" stroke="#000" stroke-width="3" fill="none"/><path d="M588.7,467.3H593.5M593.5,466.2H598.3" stroke="#000" stroke-width="2.7" fill="none"/>
<path d="M601.4,447.9V458.8" stroke="#000" stroke-width="3" fill="none"/><path d="M596.6,456.4H601.4M601.4,449.0H606.2" stroke="#000" stroke-width="2.7" fill="none"/>
<path d="M609.2,443.7V458.6" stroke="#000" stroke-width="3" fill="none"/><path d="M604.4,454.1H609.2M609.2,448.9H614.0" stroke="#000" stroke-width="2.7" fill="none"/>
<path d="M617.0,443.1V470.7" stroke="#d8062f" stroke-width="3" fill="none"/><path d="M612.2,445.6H617.0M617.0,470.2H621.8" stroke="#d8062f" stroke-width="2.7" fill="none"/>
<path d="M624.8,468.4V498.4" stroke="#d8062f" stroke-width="3" fill="none"/><path d="M620.0,471.7H624.8M624.8,488.3H629.6" stroke="#d8062f" stroke-width="2.7" fill="none"/>
<path d="M632.7,476.1V508.2" stroke="#000" stroke-width="3" fill="none"/><path d="M627.9,497.6H632.7M632.7,476.5H637.5" stroke="#000" stroke-width="2.7" fill="none"/>
<path d="M640.5,471.7V489.8" stroke="#000" stroke-width="3" fill="none"/><path d="M635.7,484.7H640.5M640.5,472.5H645.3" stroke="#000" stroke-width="2.7" fill="none"/>
<path d="M648.3,435.4V454.9" stroke="#000" stroke-width="3" fill="none"/><path d="M643.5,454.6H648.3M648.3,440.6H653.1" stroke="#000" stroke-width="2.7" fill="none"/>
<path d="M656.1,436.7V451.9" stroke="#d8062f" stroke-width="3" fill="none"/><path d="M651.3,442.5H656.1M656.1,451.4H660.9" stroke="#d8062f" stroke-width="2.7" fill="none"/>
<path d="M663.9,431.2V441.0" stroke="#000" stroke-width="3" fill="none"/><path d="M659.1,440.7H663.9M663.9,434.5H668.7" stroke="#000" stroke-width="2.7" fill="none"/>
<path d="M671.8,431.8V446.3" stroke="#d8062f" stroke-width="3" fill="none"/><path d="M667.0,435.0H671.8M671.8,442.5H676.6" stroke="#d8062f" stroke-width="2.7" fill="none"/>
<path d="M679.6,439.3V448.0" stroke="#000" stroke-width="3" fill="none"/><path d="M674.8,442.6H679.6M679.6,440.1H684.4" stroke="#000" stroke-width="2.7" fill="none"/>
<path d="M687.4,417.0V429.0" stroke="#000" stroke-width="3" fill="none"/><path d="M682.6,423.3H687.4M687.4,427.5H692.2" stroke="#000" stroke-width="2.7" fill="none"/>
<path d="M695.2,412.0V435.4" stroke="#000" stroke-width="3" fill="none"/><path d="M690.4,419.3H695.2M695.2,412.4H700.0" stroke="#000" stroke-width="2.7" fill="none"/>
<path d="M703.0,401.1V417.0" stroke="#d8062f" stroke-width="3" fill="none"/><path d="M698.2,408.8H703.0M703.0,414.5H707.8" stroke="#d8062f" stroke-width="2.7" fill="none"/>
<path d="M710.9,407.7V425.5" stroke="#000" stroke-width="3" fill="none"/><path d="M706.1,416.1H710.9M710.9,409.6H715.7" stroke="#000" stroke-width="2.7" fill="none"/>
<path d="M718.7,403.3V414.2" stroke="#000" stroke-width="3" fill="none"/><path d="M713.9,411.5H718.7M718.7,405.8H723.5" stroke="#000" stroke-width="2.7" fill="none"/>
<path d="M726.5,397.0V407.4" stroke="#000" stroke-width="3" fill="none"/><path d="M721.7,402.7H726.5M726.5,397.4H731.3" stroke="#000" stroke-width="2.7" fill="none"/>
<path d="M734.3,380.5V391.6" stroke="#000" stroke-width="3" fill="none"/><path d="M729.5,391.3H734.3M734.3,383.4H739.1" stroke="#000" stroke-width="2.7" fill="none"/>
<path d="M742.2,381.1V394.5" stroke="#d8062f" stroke-width="3" fill="none"/><path d="M737.4,387.2H742.2M742.2,386.9H747.0" stroke="#d8062f" stroke-width="2.7" fill="none"/>
<path d="M750.0,354.3V370.3" stroke="#000" stroke-width="3" fill="none"/><path d="M745.2,370.0H750.0M750.0,360.3H754.8" stroke="#000" stroke-width="2.7" fill="none"/>
<path d="M757.8,347.5V359.9" stroke="#000" stroke-width="3" fill="none"/><path d="M753.0,358.4H757.8M757.8,348.0H762.6" stroke="#000" stroke-width="2.7" fill="none"/>
<path d="M765.6,350.8V360.9" stroke="#d8062f" stroke-width="3" fill="none"/><path d="M760.8,354.1H765.6M765.6,356.0H770.4" stroke="#d8062f" stroke-width="2.7" fill="none"/>
<path d="M773.4,350.6V364.6" stroke="#d8062f" stroke-width="3" fill="none"/><path d="M768.6,354.0H773.4M773.4,361.5H778.2" stroke="#d8062f" stroke-width="2.7" fill="none"/>
<path d="M781.3,382.9V425.2" stroke="#d8062f" stroke-width="3" fill="none"/><path d="M776.5,383.2H781.3M781.3,424.0H786.1" stroke="#d8062f" stroke-width="2.7" fill="none"/>
<path d="M789.1,394.5V430.3" stroke="#000" stroke-width="3" fill="none"/><path d="M784.3,400.6H789.1M789.1,410.6H793.9" stroke="#000" stroke-width="2.7" fill="none"/>
<path d="M796.9,397.4V436.8" stroke="#000" stroke-width="3" fill="none"/><path d="M792.1,426.8H796.9M796.9,402.1H801.7" stroke="#000" stroke-width="2.7" fill="none"/>
<path d="M804.7,373.1V399.2" stroke="#000" stroke-width="3" fill="none"/><path d="M799.9,380.8H804.7M804.7,382.8H809.5" stroke="#000" stroke-width="2.7" fill="none"/>
<path d="M812.6,377.1V388.6" stroke="#d8062f" stroke-width="3" fill="none"/><path d="M807.8,379.1H812.6M812.6,386.5H817.4" stroke="#d8062f" stroke-width="2.7" fill="none"/>
<path d="M820.4,384.1V393.4" stroke="#000" stroke-width="3" fill="none"/><path d="M815.6,390.4H820.4M820.4,385.9H825.2" stroke="#000" stroke-width="2.7" fill="none"/>
<path d="M828.2,372.4V396.9" stroke="#d8062f" stroke-width="3" fill="none"/><path d="M823.4,377.7H828.2M828.2,391.7H833.0" stroke="#d8062f" stroke-width="2.7" fill="none"/>
<path d="M836.0,383.8V398.1" stroke="#000" stroke-width="3" fill="none"/><path d="M831.2,392.8H836.0M836.0,385.1H840.8" stroke="#000" stroke-width="2.7" fill="none"/>
<path d="M843.8,372.6V382.3" stroke="#000" stroke-width="3" fill="none"/><path d="M839.0,378.2H843.8M843.8,380.7H848.6" stroke="#000" stroke-width="2.7" fill="none"/>
<path d="M851.7,385.7V414.0" stroke="#d8062f" stroke-width="3" fill="none"/><path d="M846.9,386.2H851.7M851.7,407.6H856.5" stroke="#d8062f" stroke-width="2.7" fill="none"/>
<path d="M859.5,395.2V416.8" stroke="#000" stroke-width="3" fill="none"/><path d="M854.7,408.8H859.5M859.5,396.4H864.3" stroke="#000" stroke-width="2.7" fill="none"/>
<path d="M867.3,399.4V423.4" stroke="#d8062f" stroke-width="3" fill="none"/><path d="M862.5,399.9H867.3M867.3,421.6H872.1" stroke="#d8062f" stroke-width="2.7" fill="none"/>
<path d="M875.1,406.1V425.1" stroke="#000" stroke-width="3" fill="none"/><path d="M870.3,418.3H875.1M875.1,406.6H879.9" stroke="#000" stroke-width="2.7" fill="none"/>
<path d="M882.9,386.9V408.7" stroke="#000" stroke-width="3" fill="none"/><path d="M878.1,407.6H882.9M882.9,390.9H887.7" stroke="#000" stroke-width="2.7" fill="none"/>
<path d="M890.8,381.3V390.9" stroke="#000" stroke-width="3" fill="none"/><path d="M886.0,389.0H890.8M890.8,385.7H895.6" stroke="#000" stroke-width="2.7" fill="none"/>
<path d="M898.6,369.1V383.2" stroke="#000" stroke-width="3" fill="none"/><path d="M893.8,376.6H898.6M898.6,381.1H903.4" stroke="#000" stroke-width="2.7" fill="none"/>
<path d="M906.4,363.7V373.1" stroke="#000" stroke-width="3" fill="none"/><path d="M901.6,372.8H906.4M906.4,364.9H911.2" stroke="#000" stroke-width="2.7" fill="none"/>
<path d="M914.2,363.1V377.1" stroke="#d8062f" stroke-width="3" fill="none"/><path d="M909.4,369.2H914.2M914.2,376.1H919.0" stroke="#d8062f" stroke-width="2.7" fill="none"/>
<path d="M922.1,367.1V379.2" stroke="#000" stroke-width="3" fill="none"/><path d="M917.3,373.5H922.1M922.1,368.0H926.9" stroke="#000" stroke-width="2.7" fill="none"/>
<path d="M929.9,364.6V386.1" stroke="#d8062f" stroke-width="3" fill="none"/><path d="M925.1,366.0H929.9M929.9,373.9H934.7" stroke="#d8062f" stroke-width="2.7" fill="none"/>
<path d="M937.7,362.3V379.3" stroke="#000" stroke-width="3" fill="none"/><path d="M932.9,373.7H937.7M937.7,363.2H942.5" stroke="#000" stroke-width="2.7" fill="none"/>
<path d="M945.5,346.8V375.0" stroke="#d8062f" stroke-width="3" fill="none"/><path d="M940.7,356.7H945.5M945.5,372.8H950.3" stroke="#d8062f" stroke-width="2.7" fill="none"/>
<path d="M953.3,357.7V382.1" stroke="#000" stroke-width="3" fill="none"/><path d="M948.5,377.4H953.3M953.3,359.1H958.1" stroke="#000" stroke-width="2.7" fill="none"/>
<path d="M961.2,345.8V358.4" stroke="#000" stroke-width="3" fill="none"/><path d="M956.4,350.0H961.2M961.2,349.8H966.0" stroke="#000" stroke-width="2.7" fill="none"/>
<path d="M969.0,351.5V359.1" stroke="#d8062f" stroke-width="3" fill="none"/><path d="M964.2,355.7H969.0M969.0,353.4H973.8" stroke="#d8062f" stroke-width="2.7" fill="none"/>
<path d="M976.8,347.3V356.8" stroke="#000" stroke-width="3" fill="none"/><path d="M972.0,350.6H976.8M976.8,350.4H981.6" stroke="#000" stroke-width="2.7" fill="none"/>
<path d="M984.6,339.4V353.8" stroke="#000" stroke-width="3" fill="none"/><path d="M979.8,350.6H984.6M984.6,341.8H989.4" stroke="#000" stroke-width="2.7" fill="none"/>
<path d="M992.4,333.5V343.4" stroke="#000" stroke-width="3" fill="none"/><path d="M987.6,336.6H992.4M992.4,340.1H997.2" stroke="#000" stroke-width="2.7" fill="none"/>
<path d="M1000.3,332.9V341.7" stroke="#000" stroke-width="3" fill="none"/><path d="M995.5,340.9H1000.3M1000.3,334.2H1005.1" stroke="#000" stroke-width="2.7" fill="none"/>
<path d="M1008.1,332.7V351.4" stroke="#d8062f" stroke-width="3" fill="none"/><path d="M1003.3,335.6H1008.1M1008.1,347.0H1012.9" stroke="#d8062f" stroke-width="2.7" fill="none"/>
<path d="M1015.9,349.3V358.6" stroke="#d8062f" stroke-width="3" fill="none"/><path d="M1011.1,352.4H1015.9M1015.9,353.3H1020.7" stroke="#d8062f" stroke-width="2.7" fill="none"/>
<path d="M1023.7,344.8V354.1" stroke="#000" stroke-width="3" fill="none"/><path d="M1018.9,352.0H1023.7M1023.7,345.8H1028.5" stroke="#000" stroke-width="2.7" fill="none"/>
<path d="M1031.6,344.1V353.5" stroke="#d8062f" stroke-width="3" fill="none"/><path d="M1026.8,347.4H1031.6M1031.6,352.4H1036.4" stroke="#d8062f" stroke-width="2.7" fill="none"/>
<path d="M1039.4,337.5V349.9" stroke="#000" stroke-width="3" fill="none"/><path d="M1034.6,349.6H1039.4M1039.4,339.7H1044.2" stroke="#000" stroke-width="2.7" fill="none"/>
<path d="M1047.2,341.8V357.3" stroke="#d8062f" stroke-width="3" fill="none"/><path d="M1042.4,348.2H1047.2M1047.2,343.6H1052.0" stroke="#d8062f" stroke-width="2.7" fill="none"/>
<path d="M1055.0,335.1V352.2" stroke="#000" stroke-width="3" fill="none"/><path d="M1050.2,336.0H1055.0M1055.0,335.7H1059.8" stroke="#000" stroke-width="2.7" fill="none"/>
<path d="M1062.8,325.6V331.8" stroke="#000" stroke-width="3" fill="none"/><path d="M1058.0,330.4H1062.8M1062.8,328.4H1067.6" stroke="#000" stroke-width="2.7" fill="none"/>
<path d="M1070.7,324.3V331.3" stroke="#000" stroke-width="3" fill="none"/><path d="M1065.9,329.9H1070.7M1070.7,324.7H1075.5" stroke="#000" stroke-width="2.7" fill="none"/>
<path d="M1078.5,316.9V321.6" stroke="#000" stroke-width="3" fill="none"/><path d="M1073.7,321.3H1078.5M1078.5,318.1H1083.3" stroke="#000" stroke-width="2.7" fill="none"/>
<path d="M1086.3,310.6V321.4" stroke="#000" stroke-width="3" fill="none"/><path d="M1081.5,319.5H1086.3M1086.3,311.5H1091.1" stroke="#000" stroke-width="2.7" fill="none"/>
<path d="M1094.1,310.2V318.1" stroke="#000" stroke-width="3" fill="none"/><path d="M1089.3,314.3H1094.1M1094.1,310.9H1098.9" stroke="#000" stroke-width="2.7" fill="none"/>
<path d="M1101.9,306.9V316.0" stroke="#000" stroke-width="3" fill="none"/><path d="M1097.1,309.4H1101.9M1101.9,308.0H1106.7" stroke="#000" stroke-width="2.7" fill="none"/>
<path d="M1109.8,301.5V318.8" stroke="#d8062f" stroke-width="3" fill="none"/><path d="M1105.0,305.0H1109.8M1109.8,316.3H1114.6" stroke="#d8062f" stroke-width="2.7" fill="none"/>
<path d="M1117.6,299.4V309.9" stroke="#000" stroke-width="3" fill="none"/><path d="M1112.8,309.6H1117.6M1117.6,302.0H1122.4" stroke="#000" stroke-width="2.7" fill="none"/>
<path d="M1125.4,299.6V307.5" stroke="#d8062f" stroke-width="3" fill="none"/><path d="M1120.6,304.2H1125.4M1125.4,304.1H1130.2" stroke="#d8062f" stroke-width="2.7" fill="none"/>
<path d="M1133.2,302.2V308.0" stroke="#d8062f" stroke-width="3" fill="none"/><path d="M1128.4,305.5H1133.2M1133.2,304.3H1138.0" stroke="#d8062f" stroke-width="2.7" fill="none"/>
<path d="M1141.1,299.5V302.6" stroke="#000" stroke-width="3" fill="none"/><path d="M1136.3,301.8H1141.1M1141.1,301.5H1145.9" stroke="#000" stroke-width="2.7" fill="none"/>
<path d="M1148.9,297.2V305.4" stroke="#000" stroke-width="3" fill="none"/><path d="M1144.1,299.9H1148.9M1148.9,299.1H1153.7" stroke="#000" stroke-width="2.7" fill="none"/>
<path d="M1156.7,295.9V305.5" stroke="#d8062f" stroke-width="3" fill="none"/><path d="M1151.9,298.3H1156.7M1156.7,303.7H1161.5" stroke="#d8062f" stroke-width="2.7" fill="none"/>
<path d="M1164.5,298.5V310.1" stroke="#000" stroke-width="3" fill="none"/><path d="M1159.7,308.0H1164.5M1164.5,300.4H1169.3" stroke="#000" stroke-width="2.7" fill="none"/>
<path d="M1172.3,295.7V302.6" stroke="#000" stroke-width="3" fill="none"/><path d="M1167.5,300.3H1172.3M1172.3,296.9H1177.1" stroke="#000" stroke-width="2.7" fill="none"/>
<path d="M1180.2,286.1V292.4" stroke="#000" stroke-width="3" fill="none"/><path d="M1175.4,290.6H1180.2M1180.2,286.6H1185.0" stroke="#000" stroke-width="2.7" fill="none"/>
<path d="M1188.0,282.4V288.5" stroke="#000" stroke-width="3" fill="none"/><path d="M1183.2,285.2H1188.0M1188.0,282.9H1192.8" stroke="#000" stroke-width="2.7" fill="none"/>
<path d="M1195.8,271.5V283.1" stroke="#000" stroke-width="3" fill="none"/><path d="M1191.0,281.0H1195.8M1195.8,272.5H1200.6" stroke="#000" stroke-width="2.7" fill="none"/>
<path d="M1203.6,265.5V275.9" stroke="#000" stroke-width="3" fill="none"/><path d="M1198.8,270.6H1203.6M1203.6,270.8H1208.4" stroke="#000" stroke-width="2.7" fill="none"/>
<path d="M1211.4,263.2V271.1" stroke="#000" stroke-width="3" fill="none"/><path d="M1206.6,267.8H1211.4M1211.4,263.9H1216.2" stroke="#000" stroke-width="2.7" fill="none"/>
<path d="M1219.3,261.6V268.5" stroke="#d8062f" stroke-width="3" fill="none"/><path d="M1214.5,263.4H1219.3M1219.3,266.1H1224.1" stroke="#d8062f" stroke-width="2.7" fill="none"/>
<path d="M1227.1,257.7V268.1" stroke="#000" stroke-width="3" fill="none"/><path d="M1222.3,264.0H1227.1M1227.1,258.4H1231.9" stroke="#000" stroke-width="2.7" fill="none"/>
<path d="M1234.9,240.4V256.2" stroke="#000" stroke-width="3" fill="none"/><path d="M1230.1,253.5H1234.9M1234.9,242.8H1239.7" stroke="#000" stroke-width="2.7" fill="none"/>
<path d="M1242.7,247.1V288.1" stroke="#d8062f" stroke-width="3" fill="none"/><path d="M1237.9,247.4H1242.7M1242.7,279.5H1247.5" stroke="#d8062f" stroke-width="2.7" fill="none"/>
<path d="M1250.6,272.1V311.7" stroke="#d8062f" stroke-width="3" fill="none"/><path d="M1245.8,279.9H1250.6M1250.6,287.9H1255.4" stroke="#d8062f" stroke-width="2.7" fill="none"/>
<line x1="38.2" y1="779.4" x2="38.2" y2="963.6" stroke="#dedede" stroke-width="1.15"/>
<line x1="116.4" y1="779.4" x2="116.4" y2="963.6" stroke="#dedede" stroke-width="1.15"/>
<line x1="155.5" y1="779.4" x2="155.5" y2="963.6" stroke="#dedede" stroke-width="1.15"/>
<line x1="186.8" y1="779.4" x2="186.8" y2="963.6" stroke="#dedede" stroke-width="1.15"/>
<line x1="265.0" y1="779.4" x2="265.0" y2="963.6" stroke="#dedede" stroke-width="1.15"/>
<line x1="304.2" y1="779.4" x2="304.2" y2="963.6" stroke="#dedede" stroke-width="1.15"/>
<line x1="343.3" y1="779.4" x2="343.3" y2="963.6" stroke="#dedede" stroke-width="1.15"/>
<line x1="382.4" y1="779.4" x2="382.4" y2="963.6" stroke="#dedede" stroke-width="1.15"/>
<line x1="421.5" y1="779.4" x2="421.5" y2="963.6" stroke="#dedede" stroke-width="1.15"/>
<line x1="452.8" y1="779.4" x2="452.8" y2="963.6" stroke="#dedede" stroke-width="1.15"/>
<line x1="491.9" y1="779.4" x2="491.9" y2="963.6" stroke="#dedede" stroke-width="1.15"/>
<line x1="531.0" y1="779.4" x2="531.0" y2="963.6" stroke="#dedede" stroke-width="1.15"/>
<line x1="570.1" y1="779.4" x2="570.1" y2="963.6" stroke="#dedede" stroke-width="1.15"/>
<line x1="609.2" y1="779.4" x2="609.2" y2="963.6" stroke="#dedede" stroke-width="1.15"/>
<line x1="648.3" y1="779.4" x2="648.3" y2="963.6" stroke="#dedede" stroke-width="1.15"/>
<line x1="687.4" y1="779.4" x2="687.4" y2="963.6" stroke="#dedede" stroke-width="1.15"/>
<line x1="757.8" y1="779.4" x2="757.8" y2="963.6" stroke="#dedede" stroke-width="1.15"/>
<line x1="796.9" y1="779.4" x2="796.9" y2="963.6" stroke="#dedede" stroke-width="1.15"/>
<line x1="836.0" y1="779.4" x2="836.0" y2="963.6" stroke="#dedede" stroke-width="1.15"/>
<line x1="875.1" y1="779.4" x2="875.1" y2="963.6" stroke="#dedede" stroke-width="1.15"/>
<line x1="906.4" y1="779.4" x2="906.4" y2="963.6" stroke="#dedede" stroke-width="1.15"/>
<line x1="945.5" y1="779.4" x2="945.5" y2="963.6" stroke="#dedede" stroke-width="1.15"/>
<line x1="984.6" y1="779.4" x2="984.6" y2="963.6" stroke="#dedede" stroke-width="1.15"/>
<line x1="1023.7" y1="779.4" x2="1023.7" y2="963.6" stroke="#dedede" stroke-width="1.15"/>
<line x1="1101.9" y1="779.4" x2="1101.9" y2="963.6" stroke="#dedede" stroke-width="1.15"/>
<line x1="1141.1" y1="779.4" x2="1141.1" y2="963.6" stroke="#dedede" stroke-width="1.15"/>
<line x1="1180.2" y1="779.4" x2="1180.2" y2="963.6" stroke="#dedede" stroke-width="1.15"/>
<line x1="1219.3" y1="779.4" x2="1219.3" y2="963.6" stroke="#dedede" stroke-width="1.15"/>
<line x1="77.3" y1="779.4" x2="77.3" y2="963.6" stroke="#c8c8c8" stroke-width="1.5"/>
<line x1="225.9" y1="779.4" x2="225.9" y2="963.6" stroke="#c8c8c8" stroke-width="1.5"/>
<line x1="398.0" y1="779.4" x2="398.0" y2="963.6" stroke="#c8c8c8" stroke-width="1.5"/>
<line x1="562.3" y1="779.4" x2="562.3" y2="963.6" stroke="#c8c8c8" stroke-width="1.5"/>
<line x1="718.7" y1="779.4" x2="718.7" y2="963.6" stroke="#c8c8c8" stroke-width="1.5"/>
<line x1="890.8" y1="779.4" x2="890.8" y2="963.6" stroke="#c8c8c8" stroke-width="1.5"/>
<line x1="1062.8" y1="779.4" x2="1062.8" y2="963.6" stroke="#c8c8c8" stroke-width="1.5"/>
<line x1="1227.1" y1="779.4" x2="1227.1" y2="963.6" stroke="#c8c8c8" stroke-width="1.5"/>
<line x1="26.0" y1="959.6" x2="1261.0" y2="959.6" stroke="#dedede" stroke-width="1.1"/>
<line x1="26.0" y1="934.9" x2="1261.0" y2="934.9" stroke="#dedede" stroke-width="1.1"/>
<line x1="26.0" y1="910.2" x2="1261.0" y2="910.2" stroke="#dedede" stroke-width="1.1"/>
<line x1="26.0" y1="885.6" x2="1261.0" y2="885.6" stroke="#dedede" stroke-width="1.1"/>
<line x1="26.0" y1="860.9" x2="1261.0" y2="860.9" stroke="#dedede" stroke-width="1.1"/>
<line x1="26.0" y1="836.2" x2="1261.0" y2="836.2" stroke="#dedede" stroke-width="1.1"/>
<line x1="26.0" y1="811.5" x2="1261.0" y2="811.5" stroke="#dedede" stroke-width="1.1"/>
<line x1="26.0" y1="786.9" x2="1261.0" y2="786.9" stroke="#dedede" stroke-width="1.1"/>
<rect x="18.7" y="835.2" width="7.8" height="1.0" fill="#5aa9d2" stroke="#24789c" stroke-width="1.3" clip-path="url(#cM)"/>
<rect x="26.5" y="836.2" width="7.8" height="0.4" fill="#5aa9d2" stroke="#24789c" stroke-width="1.3" clip-path="url(#cM)"/>
<rect x="34.3" y="836.2" width="7.8" height="3.0" fill="#5aa9d2" stroke="#24789c" stroke-width="1.3" clip-path="url(#cM)"/>
<rect x="42.1" y="836.2" width="7.8" height="3.7" fill="#5aa9d2" stroke="#24789c" stroke-width="1.3" clip-path="url(#cM)"/>
<rect x="50.0" y="836.2" width="7.8" height="4.1" fill="#5aa9d2" stroke="#24789c" stroke-width="1.3" clip-path="url(#cM)"/>
<rect x="57.8" y="836.2" width="7.8" height="4.0" fill="#5aa9d2" stroke="#24789c" stroke-width="1.3" clip-path="url(#cM)"/>
<rect x="65.6" y="836.2" width="7.8" height="5.7" fill="#5aa9d2" stroke="#24789c" stroke-width="1.3" clip-path="url(#cM)"/>
<rect x="73.4" y="836.2" width="7.8" height="5.8" fill="#5aa9d2" stroke="#24789c" stroke-width="1.3" clip-path="url(#cM)"/>
<rect x="81.2" y="836.2" width="7.8" height="4.2" fill="#5aa9d2" stroke="#24789c" stroke-width="1.3" clip-path="url(#cM)"/>
<rect x="89.1" y="836.2" width="7.8" height="1.9" fill="#5aa9d2" stroke="#24789c" stroke-width="1.3" clip-path="url(#cM)"/>
<rect x="104.7" y="835.8" width="7.8" height="0.4" fill="#5aa9d2" stroke="#24789c" stroke-width="1.3" clip-path="url(#cM)"/>
<rect x="112.5" y="834.9" width="7.8" height="1.3" fill="#5aa9d2" stroke="#24789c" stroke-width="1.3" clip-path="url(#cM)"/>
<rect x="120.3" y="834.3" width="7.8" height="1.9" fill="#5aa9d2" stroke="#24789c" stroke-width="1.3" clip-path="url(#cM)"/>
<rect x="128.2" y="833.4" width="7.8" height="2.8" fill="#5aa9d2" stroke="#24789c" stroke-width="1.3" clip-path="url(#cM)"/>
<rect x="136.0" y="833.3" width="7.8" height="2.9" fill="#5aa9d2" stroke="#24789c" stroke-width="1.3" clip-path="url(#cM)"/>
<rect x="143.8" y="833.3" width="7.8" height="2.9" fill="#5aa9d2" stroke="#24789c" stroke-width="1.3" clip-path="url(#cM)"/>
<rect x="151.6" y="833.9" width="7.8" height="2.3" fill="#5aa9d2" stroke="#24789c" stroke-width="1.3" clip-path="url(#cM)"/>
<rect x="159.5" y="834.0" width="7.8" height="2.2" fill="#5aa9d2" stroke="#24789c" stroke-width="1.3" clip-path="url(#cM)"/>
<rect x="167.3" y="834.8" width="7.8" height="1.4" fill="#5aa9d2" stroke="#24789c" stroke-width="1.3" clip-path="url(#cM)"/>
<rect x="175.1" y="836.2" width="7.8" height="0.3" fill="#5aa9d2" stroke="#24789c" stroke-width="1.3" clip-path="url(#cM)"/>
<rect x="182.9" y="836.2" width="7.8" height="5.1" fill="#5aa9d2" stroke="#24789c" stroke-width="1.3" clip-path="url(#cM)"/>
<rect x="190.7" y="836.2" width="7.8" height="11.0" fill="#5aa9d2" stroke="#24789c" stroke-width="1.3" clip-path="url(#cM)"/>
<rect x="198.6" y="836.2" width="7.8" height="14.6" fill="#5aa9d2" stroke="#24789c" stroke-width="1.3" clip-path="url(#cM)"/>
<rect x="206.4" y="836.2" width="7.8" height="20.5" fill="#5aa9d2" stroke="#24789c" stroke-width="1.3" clip-path="url(#cM)"/>
<rect x="214.2" y="836.2" width="7.8" height="23.9" fill="#5aa9d2" stroke="#24789c" stroke-width="1.3" clip-path="url(#cM)"/>
<rect x="222.0" y="836.2" width="7.8" height="20.5" fill="#5aa9d2" stroke="#24789c" stroke-width="1.3" clip-path="url(#cM)"/>
<rect x="229.9" y="836.2" width="7.8" height="19.9" fill="#5aa9d2" stroke="#24789c" stroke-width="1.3" clip-path="url(#cM)"/>
<rect x="237.7" y="836.2" width="7.8" height="14.4" fill="#5aa9d2" stroke="#24789c" stroke-width="1.3" clip-path="url(#cM)"/>
<rect x="245.5" y="836.2" width="7.8" height="13.4" fill="#5aa9d2" stroke="#24789c" stroke-width="1.3" clip-path="url(#cM)"/>
<rect x="253.3" y="836.2" width="7.8" height="13.5" fill="#5aa9d2" stroke="#24789c" stroke-width="1.3" clip-path="url(#cM)"/>
<rect x="261.1" y="836.2" width="7.8" height="19.7" fill="#5aa9d2" stroke="#24789c" stroke-width="1.3" clip-path="url(#cM)"/>
<rect x="269.0" y="836.2" width="7.8" height="18.0" fill="#5aa9d2" stroke="#24789c" stroke-width="1.3" clip-path="url(#cM)"/>
<rect x="276.8" y="836.2" width="7.8" height="20.2" fill="#5aa9d2" stroke="#24789c" stroke-width="1.3" clip-path="url(#cM)"/>
<rect x="284.6" y="836.2" width="7.8" height="28.3" fill="#5aa9d2" stroke="#24789c" stroke-width="1.3" clip-path="url(#cM)"/>
<rect x="292.4" y="836.2" width="7.8" height="24.3" fill="#5aa9d2" stroke="#24789c" stroke-width="1.3" clip-path="url(#cM)"/>
<rect x="300.2" y="836.2" width="7.8" height="30.2" fill="#5aa9d2" stroke="#24789c" stroke-width="1.3" clip-path="url(#cM)"/>
<rect x="308.1" y="836.2" width="7.8" height="27.3" fill="#5aa9d2" stroke="#24789c" stroke-width="1.3" clip-path="url(#cM)"/>
<rect x="315.9" y="836.2" width="7.8" height="27.6" fill="#5aa9d2" stroke="#24789c" stroke-width="1.3" clip-path="url(#cM)"/>
<rect x="323.7" y="836.2" width="7.8" height="25.3" fill="#5aa9d2" stroke="#24789c" stroke-width="1.3" clip-path="url(#cM)"/>
<rect x="331.5" y="836.2" width="7.8" height="25.1" fill="#5aa9d2" stroke="#24789c" stroke-width="1.3" clip-path="url(#cM)"/>
<rect x="339.4" y="836.2" width="7.8" height="25.0" fill="#5aa9d2" stroke="#24789c" stroke-width="1.3" clip-path="url(#cM)"/>
<rect x="347.2" y="836.2" width="7.8" height="16.2" fill="#5aa9d2" stroke="#24789c" stroke-width="1.3" clip-path="url(#cM)"/>
<rect x="355.0" y="836.2" width="7.8" height="8.0" fill="#5aa9d2" stroke="#24789c" stroke-width="1.3" clip-path="url(#cM)"/>
<rect x="362.8" y="832.9" width="7.8" height="3.3" fill="#5aa9d2" stroke="#24789c" stroke-width="1.3" clip-path="url(#cM)"/>
<rect x="370.6" y="828.0" width="7.8" height="8.2" fill="#5aa9d2" stroke="#24789c" stroke-width="1.3" clip-path="url(#cM)"/>
<rect x="378.5" y="821.7" width="7.8" height="14.5" fill="#5aa9d2" stroke="#24789c" stroke-width="1.3" clip-path="url(#cM)"/>
<rect x="386.3" y="819.0" width="7.8" height="17.2" fill="#5aa9d2" stroke="#24789c" stroke-width="1.3" clip-path="url(#cM)"/>
<rect x="394.1" y="821.1" width="7.8" height="15.1" fill="#5aa9d2" stroke="#24789c" stroke-width="1.3" clip-path="url(#cM)"/>
<rect x="401.9" y="820.6" width="7.8" height="15.6" fill="#5aa9d2" stroke="#24789c" stroke-width="1.3" clip-path="url(#cM)"/>
<rect x="409.7" y="821.6" width="7.8" height="14.6" fill="#5aa9d2" stroke="#24789c" stroke-width="1.3" clip-path="url(#cM)"/>
<rect x="417.6" y="816.8" width="7.8" height="19.4" fill="#5aa9d2" stroke="#24789c" stroke-width="1.3" clip-path="url(#cM)"/>
<rect x="425.4" y="814.3" width="7.8" height="21.9" fill="#5aa9d2" stroke="#24789c" stroke-width="1.3" clip-path="url(#cM)"/>
<rect x="433.2" y="810.4" width="7.8" height="25.8" fill="#5aa9d2" stroke="#24789c" stroke-width="1.3" clip-path="url(#cM)"/>
<rect x="441.0" y="807.5" width="7.8" height="28.7" fill="#5aa9d2" stroke="#24789c" stroke-width="1.3" clip-path="url(#cM)"/>
<rect x="448.9" y="807.6" width="7.8" height="28.6" fill="#5aa9d2" stroke="#24789c" stroke-width="1.3" clip-path="url(#cM)"/>
<rect x="456.7" y="806.1" width="7.8" height="30.1" fill="#5aa9d2" stroke="#24789c" stroke-width="1.3" clip-path="url(#cM)"/>
<rect x="464.5" y="808.4" width="7.8" height="27.8" fill="#5aa9d2" stroke="#24789c" stroke-width="1.3" clip-path="url(#cM)"/>
<rect x="472.3" y="810.5" width="7.8" height="25.7" fill="#5aa9d2" stroke="#24789c" stroke-width="1.3" clip-path="url(#cM)"/>
<rect x="480.1" y="810.6" width="7.8" height="25.6" fill="#5aa9d2" stroke="#24789c" stroke-width="1.3" clip-path="url(#cM)"/>
<rect x="488.0" y="813.4" width="7.8" height="22.8" fill="#5aa9d2" stroke="#24789c" stroke-width="1.3" clip-path="url(#cM)"/>
<rect x="495.8" y="819.0" width="7.8" height="17.2" fill="#5aa9d2" stroke="#24789c" stroke-width="1.3" clip-path="url(#cM)"/>
<rect x="503.6" y="821.4" width="7.8" height="14.8" fill="#5aa9d2" stroke="#24789c" stroke-width="1.3" clip-path="url(#cM)"/>
<rect x="511.4" y="823.7" width="7.8" height="12.5" fill="#5aa9d2" stroke="#24789c" stroke-width="1.3" clip-path="url(#cM)"/>
<rect x="519.2" y="824.5" width="7.8" height="11.7" fill="#5aa9d2" stroke="#24789c" stroke-width="1.3" clip-path="url(#cM)"/>
<rect x="527.1" y="824.4" width="7.8" height="11.8" fill="#5aa9d2" stroke="#24789c" stroke-width="1.3" clip-path="url(#cM)"/>
<rect x="534.9" y="825.4" width="7.8" height="10.8" fill="#5aa9d2" stroke="#24789c" stroke-width="1.3" clip-path="url(#cM)"/>
<rect x="542.7" y="824.3" width="7.8" height="11.9" fill="#5aa9d2" stroke="#24789c" stroke-width="1.3" clip-path="url(#cM)"/>
<rect x="550.5" y="825.2" width="7.8" height="11.0" fill="#5aa9d2" stroke="#24789c" stroke-width="1.3" clip-path="url(#cM)"/>
<rect x="558.4" y="829.0" width="7.8" height="7.2" fill="#5aa9d2" stroke="#24789c" stroke-width="1.3" clip-path="url(#cM)"/>
<rect x="566.2" y="831.6" width="7.8" height="4.6" fill="#5aa9d2" stroke="#24789c" stroke-width="1.3" clip-path="url(#cM)"/>
<rect x="574.0" y="832.7" width="7.8" height="3.5" fill="#5aa9d2" stroke="#24789c" stroke-width="1.3" clip-path="url(#cM)"/>
<rect x="581.8" y="834.4" width="7.8" height="1.8" fill="#5aa9d2" stroke="#24789c" stroke-width="1.3" clip-path="url(#cM)"/>
<rect x="589.6" y="834.7" width="7.8" height="1.5" fill="#5aa9d2" stroke="#24789c" stroke-width="1.3" clip-path="url(#cM)"/>
<rect x="597.5" y="833.6" width="7.8" height="2.6" fill="#5aa9d2" stroke="#24789c" stroke-width="1.3" clip-path="url(#cM)"/>
<rect x="605.3" y="833.2" width="7.8" height="3.0" fill="#5aa9d2" stroke="#24789c" stroke-width="1.3" clip-path="url(#cM)"/>
<rect x="613.1" y="835.2" width="7.8" height="1.0" fill="#5aa9d2" stroke="#24789c" stroke-width="1.3" clip-path="url(#cM)"/>
<rect x="620.9" y="836.2" width="7.8" height="2.1" fill="#5aa9d2" stroke="#24789c" stroke-width="1.3" clip-path="url(#cM)"/>
<rect x="628.7" y="836.2" width="7.8" height="3.0" fill="#5aa9d2" stroke="#24789c" stroke-width="1.3" clip-path="url(#cM)"/>
<rect x="636.6" y="836.2" width="7.8" height="3.3" fill="#5aa9d2" stroke="#24789c" stroke-width="1.3" clip-path="url(#cM)"/>
<rect x="644.4" y="836.2" width="7.8" height="0.6" fill="#5aa9d2" stroke="#24789c" stroke-width="1.3" clip-path="url(#cM)"/>
<rect x="660.0" y="834.5" width="7.8" height="1.7" fill="#5aa9d2" stroke="#24789c" stroke-width="1.3" clip-path="url(#cM)"/>
<rect x="667.9" y="834.4" width="7.8" height="1.8" fill="#5aa9d2" stroke="#24789c" stroke-width="1.3" clip-path="url(#cM)"/>
<rect x="675.7" y="834.3" width="7.8" height="1.9" fill="#5aa9d2" stroke="#24789c" stroke-width="1.3" clip-path="url(#cM)"/>
<rect x="683.5" y="833.5" width="7.8" height="2.7" fill="#5aa9d2" stroke="#24789c" stroke-width="1.3" clip-path="url(#cM)"/>
<rect x="691.3" y="831.8" width="7.8" height="4.4" fill="#5aa9d2" stroke="#24789c" stroke-width="1.3" clip-path="url(#cM)"/>
<rect x="699.1" y="831.4" width="7.8" height="4.8" fill="#5aa9d2" stroke="#24789c" stroke-width="1.3" clip-path="url(#cM)"/>
<rect x="707.0" y="831.2" width="7.8" height="5.0" fill="#5aa9d2" stroke="#24789c" stroke-width="1.3" clip-path="url(#cM)"/>
<rect x="714.8" y="831.1" width="7.8" height="5.1" fill="#5aa9d2" stroke="#24789c" stroke-width="1.3" clip-path="url(#cM)"/>
<rect x="722.6" y="830.8" width="7.8" height="5.4" fill="#5aa9d2" stroke="#24789c" stroke-width="1.3" clip-path="url(#cM)"/>
<rect x="730.4" y="829.8" width="7.8" height="6.4" fill="#5aa9d2" stroke="#24789c" stroke-width="1.3" clip-path="url(#cM)"/>
<rect x="738.2" y="830.1" width="7.8" height="6.1" fill="#5aa9d2" stroke="#24789c" stroke-width="1.3" clip-path="url(#cM)"/>
<rect x="746.1" y="828.3" width="7.8" height="7.9" fill="#5aa9d2" stroke="#24789c" stroke-width="1.3" clip-path="url(#cM)"/>
<rect x="753.9" y="826.6" width="7.8" height="9.6" fill="#5aa9d2" stroke="#24789c" stroke-width="1.3" clip-path="url(#cM)"/>
<rect x="761.7" y="827.2" width="7.8" height="9.0" fill="#5aa9d2" stroke="#24789c" stroke-width="1.3" clip-path="url(#cM)"/>
<rect x="769.5" y="828.9" width="7.8" height="7.3" fill="#5aa9d2" stroke="#24789c" stroke-width="1.3" clip-path="url(#cM)"/>
<rect x="777.4" y="836.2" width="7.8" height="0.4" fill="#5aa9d2" stroke="#24789c" stroke-width="1.3" clip-path="url(#cM)"/>
<rect x="785.2" y="836.2" width="7.8" height="4.3" fill="#5aa9d2" stroke="#24789c" stroke-width="1.3" clip-path="url(#cM)"/>
<rect x="793.0" y="836.2" width="7.8" height="6.1" fill="#5aa9d2" stroke="#24789c" stroke-width="1.3" clip-path="url(#cM)"/>
<rect x="800.8" y="836.2" width="7.8" height="5.3" fill="#5aa9d2" stroke="#24789c" stroke-width="1.3" clip-path="url(#cM)"/>
<rect x="808.6" y="836.2" width="7.8" height="5.3" fill="#5aa9d2" stroke="#24789c" stroke-width="1.3" clip-path="url(#cM)"/>
<rect x="816.5" y="836.2" width="7.8" height="5.2" fill="#5aa9d2" stroke="#24789c" stroke-width="1.3" clip-path="url(#cM)"/>
<rect x="824.3" y="836.2" width="7.8" height="5.7" fill="#5aa9d2" stroke="#24789c" stroke-width="1.3" clip-path="url(#cM)"/>
<rect x="832.1" y="836.2" width="7.8" height="5.3" fill="#5aa9d2" stroke="#24789c" stroke-width="1.3" clip-path="url(#cM)"/>
<rect x="839.9" y="836.2" width="7.8" height="4.7" fill="#5aa9d2" stroke="#24789c" stroke-width="1.3" clip-path="url(#cM)"/>
<rect x="847.7" y="836.2" width="7.8" height="6.8" fill="#5aa9d2" stroke="#24789c" stroke-width="1.3" clip-path="url(#cM)"/>
<rect x="855.6" y="836.2" width="7.8" height="7.0" fill="#5aa9d2" stroke="#24789c" stroke-width="1.3" clip-path="url(#cM)"/>
<rect x="863.4" y="836.2" width="7.8" height="9.3" fill="#5aa9d2" stroke="#24789c" stroke-width="1.3" clip-path="url(#cM)"/>
<rect x="871.2" y="836.2" width="7.8" height="9.0" fill="#5aa9d2" stroke="#24789c" stroke-width="1.3" clip-path="url(#cM)"/>
<rect x="879.0" y="836.2" width="7.8" height="7.1" fill="#5aa9d2" stroke="#24789c" stroke-width="1.3" clip-path="url(#cM)"/>
<rect x="886.9" y="836.2" width="7.8" height="5.2" fill="#5aa9d2" stroke="#24789c" stroke-width="1.3" clip-path="url(#cM)"/>
<rect x="894.7" y="836.2" width="7.8" height="3.4" fill="#5aa9d2" stroke="#24789c" stroke-width="1.3" clip-path="url(#cM)"/>
<rect x="902.5" y="836.2" width="7.8" height="0.7" fill="#5aa9d2" stroke="#24789c" stroke-width="1.3" clip-path="url(#cM)"/>
<rect x="918.1" y="835.4" width="7.8" height="0.8" fill="#5aa9d2" stroke="#24789c" stroke-width="1.3" clip-path="url(#cM)"/>
<rect x="926.0" y="835.5" width="7.8" height="0.7" fill="#5aa9d2" stroke="#24789c" stroke-width="1.3" clip-path="url(#cM)"/>
<rect x="933.8" y="834.7" width="7.8" height="1.5" fill="#5aa9d2" stroke="#24789c" stroke-width="1.3" clip-path="url(#cM)"/>
<rect x="941.6" y="835.4" width="7.8" height="0.8" fill="#5aa9d2" stroke="#24789c" stroke-width="1.3" clip-path="url(#cM)"/>
<rect x="949.4" y="834.7" width="7.8" height="1.5" fill="#5aa9d2" stroke="#24789c" stroke-width="1.3" clip-path="url(#cM)"/>
<rect x="957.2" y="833.5" width="7.8" height="2.7" fill="#5aa9d2" stroke="#24789c" stroke-width="1.3" clip-path="url(#cM)"/>
<rect x="965.1" y="833.4" width="7.8" height="2.8" fill="#5aa9d2" stroke="#24789c" stroke-width="1.3" clip-path="url(#cM)"/>
<rect x="972.9" y="833.4" width="7.8" height="2.8" fill="#5aa9d2" stroke="#24789c" stroke-width="1.3" clip-path="url(#cM)"/>
<rect x="980.7" y="832.8" width="7.8" height="3.4" fill="#5aa9d2" stroke="#24789c" stroke-width="1.3" clip-path="url(#cM)"/>
<rect x="988.5" y="832.7" width="7.8" height="3.5" fill="#5aa9d2" stroke="#24789c" stroke-width="1.3" clip-path="url(#cM)"/>
<rect x="996.4" y="832.3" width="7.8" height="3.9" fill="#5aa9d2" stroke="#24789c" stroke-width="1.3" clip-path="url(#cM)"/>
<rect x="1004.2" y="833.8" width="7.8" height="2.4" fill="#5aa9d2" stroke="#24789c" stroke-width="1.3" clip-path="url(#cM)"/>
<rect x="1012.0" y="835.7" width="7.8" height="0.5" fill="#5aa9d2" stroke="#24789c" stroke-width="1.3" clip-path="url(#cM)"/>
<rect x="1027.6" y="836.2" width="7.8" height="1.4" fill="#5aa9d2" stroke="#24789c" stroke-width="1.3" clip-path="url(#cM)"/>
<rect x="1035.5" y="836.2" width="7.8" height="1.0" fill="#5aa9d2" stroke="#24789c" stroke-width="1.3" clip-path="url(#cM)"/>
<rect x="1043.3" y="836.2" width="7.8" height="1.3" fill="#5aa9d2" stroke="#24789c" stroke-width="1.3" clip-path="url(#cM)"/>
<rect x="1051.1" y="836.2" width="7.8" height="0.8" fill="#5aa9d2" stroke="#24789c" stroke-width="1.3" clip-path="url(#cM)"/>
<rect x="1066.8" y="835.4" width="7.8" height="0.8" fill="#5aa9d2" stroke="#24789c" stroke-width="1.3" clip-path="url(#cM)"/>
<rect x="1074.6" y="834.5" width="7.8" height="1.7" fill="#5aa9d2" stroke="#24789c" stroke-width="1.3" clip-path="url(#cM)"/>
<rect x="1082.4" y="833.5" width="7.8" height="2.7" fill="#5aa9d2" stroke="#24789c" stroke-width="1.3" clip-path="url(#cM)"/>
<rect x="1090.2" y="833.2" width="7.8" height="3.0" fill="#5aa9d2" stroke="#24789c" stroke-width="1.3" clip-path="url(#cM)"/>
<rect x="1098.0" y="833.1" width="7.8" height="3.1" fill="#5aa9d2" stroke="#24789c" stroke-width="1.3" clip-path="url(#cM)"/>
<rect x="1105.9" y="834.2" width="7.8" height="2.0" fill="#5aa9d2" stroke="#24789c" stroke-width="1.3" clip-path="url(#cM)"/>
<rect x="1113.7" y="833.8" width="7.8" height="2.4" fill="#5aa9d2" stroke="#24789c" stroke-width="1.3" clip-path="url(#cM)"/>
<rect x="1121.5" y="834.1" width="7.8" height="2.1" fill="#5aa9d2" stroke="#24789c" stroke-width="1.3" clip-path="url(#cM)"/>
<rect x="1129.3" y="834.6" width="7.8" height="1.6" fill="#5aa9d2" stroke="#24789c" stroke-width="1.3" clip-path="url(#cM)"/>
<rect x="1137.1" y="835.0" width="7.8" height="1.2" fill="#5aa9d2" stroke="#24789c" stroke-width="1.3" clip-path="url(#cM)"/>
<rect x="1145.0" y="835.2" width="7.8" height="1.0" fill="#5aa9d2" stroke="#24789c" stroke-width="1.3" clip-path="url(#cM)"/>
<rect x="1160.6" y="836.2" width="7.8" height="0.5" fill="#5aa9d2" stroke="#24789c" stroke-width="1.3" clip-path="url(#cM)"/>
<rect x="1168.4" y="836.2" width="7.8" height="0.6" fill="#5aa9d2" stroke="#24789c" stroke-width="1.3" clip-path="url(#cM)"/>
<rect x="1184.1" y="835.4" width="7.8" height="0.8" fill="#5aa9d2" stroke="#24789c" stroke-width="1.3" clip-path="url(#cM)"/>
<rect x="1191.9" y="834.2" width="7.8" height="2.0" fill="#5aa9d2" stroke="#24789c" stroke-width="1.3" clip-path="url(#cM)"/>
<rect x="1199.7" y="833.6" width="7.8" height="2.6" fill="#5aa9d2" stroke="#24789c" stroke-width="1.3" clip-path="url(#cM)"/>
<rect x="1207.5" y="832.8" width="7.8" height="3.4" fill="#5aa9d2" stroke="#24789c" stroke-width="1.3" clip-path="url(#cM)"/>
<rect x="1215.4" y="833.0" width="7.8" height="3.2" fill="#5aa9d2" stroke="#24789c" stroke-width="1.3" clip-path="url(#cM)"/>
<rect x="1223.2" y="832.8" width="7.8" height="3.4" fill="#5aa9d2" stroke="#24789c" stroke-width="1.3" clip-path="url(#cM)"/>
<rect x="1231.0" y="831.3" width="7.8" height="4.9" fill="#5aa9d2" stroke="#24789c" stroke-width="1.3" clip-path="url(#cM)"/>
<rect x="1238.8" y="834.9" width="7.8" height="1.3" fill="#5aa9d2" stroke="#24789c" stroke-width="1.3" clip-path="url(#cM)"/>
<rect x="1246.6" y="836.2" width="7.8" height="2.2" fill="#5aa9d2" stroke="#24789c" stroke-width="1.3" clip-path="url(#cM)"/>
<line x1="26.0" y1="836.2" x2="1254.5" y2="836.2" stroke="#24789c" stroke-width="1.6"/>
<polyline points="22.6,817.5 30.4,817.6 38.2,818.4 46.0,819.3 53.9,820.3 61.7,821.3 69.5,822.7 77.3,824.2 85.2,825.2 93.0,825.7 100.8,825.7 108.6,825.6 116.4,825.3 124.3,824.8 132.1,824.1 139.9,823.3 147.7,822.6 155.5,822.1 163.4,821.5 171.2,821.1 179.0,821.2 186.8,822.5 194.7,825.3 202.5,828.9 210.3,834.0 218.1,840.0 225.9,845.2 233.8,850.1 241.6,853.7 249.4,857.1 257.2,860.4 265.0,865.4 272.9,869.9 280.7,874.9 288.5,882.0 296.3,888.1 304.2,895.6 312.0,902.4 319.8,909.3 327.6,915.7 335.4,921.9 343.3,928.2 351.1,932.2 358.9,934.2 366.7,933.4 374.5,931.4 382.4,927.7 390.2,923.4 398.0,919.7 405.8,915.7 413.7,912.1 421.5,907.2 429.3,901.8 437.1,895.3 444.9,888.1 452.8,881.0 460.6,873.5 468.4,866.5 476.2,860.1 484.0,853.7 491.9,848.0 499.7,843.7 507.5,840.0 515.3,836.9 523.2,834.0 531.0,831.0 538.8,828.3 546.6,825.4 554.4,822.6 562.3,820.8 570.1,819.7 577.9,818.8 585.7,818.4 593.5,818.0 601.4,817.3 609.2,816.6 617.0,816.4 624.8,816.9 632.7,817.6 640.5,818.4 648.3,818.6 656.1,818.6 663.9,818.2 671.8,817.7 679.6,817.2 687.4,816.5 695.2,815.5 703.0,814.3 710.9,813.0 718.7,811.7 726.5,810.4 734.3,808.8 742.2,807.2 750.0,805.3 757.8,802.9 765.6,800.6 773.4,798.8 781.3,798.9 789.1,799.9 796.9,801.5 804.7,802.8 812.6,804.1 820.4,805.4 828.2,806.8 836.0,808.1 843.8,809.3 851.7,811.0 859.5,812.8 867.3,815.1 875.1,817.3 882.9,819.1 890.8,820.4 898.6,821.2 906.4,821.4 914.2,821.4 922.1,821.2 929.9,821.1 937.7,820.7 945.5,820.5 953.3,820.1 961.2,819.4 969.0,818.7 976.8,818.1 984.6,817.2 992.4,816.3 1000.3,815.4 1008.1,814.8 1015.9,814.6 1023.7,814.7 1031.6,815.0 1039.4,815.2 1047.2,815.6 1055.0,815.8 1062.8,815.8 1070.7,815.6 1078.5,815.1 1086.3,814.5 1094.1,813.7 1101.9,812.9 1109.8,812.4 1117.6,811.8 1125.4,811.3 1133.2,810.9 1141.1,810.6 1148.9,810.3 1156.7,810.3 1164.5,810.5 1172.3,810.6 1180.2,810.6 1188.0,810.4 1195.8,809.9 1203.6,809.2 1211.4,808.4 1219.3,807.6 1227.1,806.7 1234.9,805.5 1242.7,805.2 1250.6,805.7" fill="none" stroke="#f01818" stroke-width="1.6" stroke-linejoin="round" clip-path="url(#cM)"/>
<polyline points="22.6,816.5 30.4,818.0 38.2,821.4 46.0,822.9 53.9,824.4 61.7,825.3 69.5,828.4 77.3,830.0 85.2,829.4 93.0,827.5 100.8,825.8 108.6,825.2 116.4,823.9 124.3,822.8 132.1,821.3 139.9,820.5 147.7,819.7 155.5,819.8 163.4,819.3 171.2,819.7 179.0,821.6 186.8,827.6 194.7,836.3 202.5,843.5 210.3,854.6 218.1,864.0 225.9,865.6 233.8,870.1 241.6,868.1 249.4,870.4 257.2,873.9 265.0,885.1 272.9,887.9 280.7,895.1 288.5,910.3 296.3,912.3 304.2,925.8 312.0,929.7 319.8,936.9 327.6,940.9 335.4,947.0 343.3,953.2 351.1,948.4 358.9,942.3 366.7,930.2 374.5,923.1 382.4,913.2 390.2,906.3 398.0,904.5 405.8,900.1 413.7,897.5 421.5,887.8 429.3,879.8 437.1,869.5 444.9,859.5 452.8,852.4 460.6,843.4 468.4,838.8 476.2,834.4 484.0,828.1 491.9,825.3 499.7,826.6 507.5,825.2 515.3,824.4 523.2,822.3 531.0,819.2 538.8,817.6 546.6,813.5 554.4,811.6 562.3,813.6 570.1,815.0 577.9,815.3 585.7,816.6 593.5,816.5 601.4,814.8 609.2,813.6 617.0,815.4 624.8,818.9 632.7,820.6 640.5,821.7 648.3,819.2 656.1,818.6 663.9,816.4 671.8,815.9 679.6,815.4 687.4,813.8 695.2,811.1 703.0,809.5 710.9,808.0 718.7,806.7 726.5,805.0 734.3,802.3 742.2,801.1 750.0,797.3 757.8,793.3 765.6,791.6 773.4,791.4 781.3,799.2 789.1,804.2 796.9,807.5 804.7,808.1 812.6,809.4 820.4,810.6 828.2,812.5 836.0,813.5 843.8,814.0 851.7,817.8 859.5,819.7 867.3,824.3 875.1,826.3 882.9,826.2 890.8,825.6 898.6,824.6 906.4,822.1 914.2,821.6 922.1,820.4 929.9,820.4 937.7,819.2 945.5,819.7 953.3,818.6 961.2,816.8 969.0,816.0 976.8,815.3 984.6,813.9 992.4,812.8 1000.3,811.5 1008.1,812.4 1015.9,814.1 1023.7,814.8 1031.6,816.3 1039.4,816.2 1047.2,816.9 1055.0,816.6 1062.8,815.7 1070.7,814.8 1078.5,813.4 1086.3,811.8 1094.1,810.7 1101.9,809.8 1109.8,810.4 1117.6,809.4 1125.4,809.1 1133.2,809.3 1141.1,809.3 1148.9,809.4 1156.7,810.3 1164.5,810.9 1172.3,811.2 1180.2,810.4 1188.0,809.6 1195.8,807.8 1203.6,806.6 1211.4,805.0 1219.3,804.4 1227.1,803.3 1234.9,800.6 1242.7,803.9 1250.6,808.0" fill="none" stroke="#111" stroke-width="2.3" stroke-linejoin="round" clip-path="url(#cM)"/>
<rect x="26.0" y="44.5" width="1235.0" height="185.0" fill="none" stroke="#b2b2b2" stroke-width="1.6"/>
<rect x="26.0" y="229.5" width="1235.0" height="527.9" fill="none" stroke="#b2b2b2" stroke-width="1.6"/>
<rect x="26.0" y="779.4" width="1235.0" height="184.20000000000005" fill="none" stroke="#b2b2b2" stroke-width="1.6"/>
<text x="1265.75" y="75.95" font-size="14.93" fill="#111" textLength="18.58" lengthAdjust="spacingAndGlyphs">90</text>
<text x="1265.66" y="108.85" font-size="14.93" fill="#111" textLength="18.67" lengthAdjust="spacingAndGlyphs">70</text>
<text x="1265.84" y="140.45" font-size="14.93" fill="#111" textLength="18.49" lengthAdjust="spacingAndGlyphs">50</text>
<text x="1265.84" y="172.70" font-size="14.93" fill="#111" textLength="18.49" lengthAdjust="spacingAndGlyphs">30</text>
<text x="1265.21" y="204.95" font-size="14.93" fill="#111" textLength="19.13" lengthAdjust="spacingAndGlyphs">10</text>
<text x="1264.94" y="747.27" font-size="14.93" fill="#111" textLength="38.26" lengthAdjust="spacingAndGlyphs">2200</text>
<text x="1264.94" y="701.57" font-size="14.93" fill="#111" textLength="38.26" lengthAdjust="spacingAndGlyphs">2300</text>
<text x="1264.94" y="657.82" font-size="14.93" fill="#111" textLength="38.26" lengthAdjust="spacingAndGlyphs">2400</text>
<text x="1264.94" y="615.86" font-size="14.93" fill="#111" textLength="38.26" lengthAdjust="spacingAndGlyphs">2500</text>
<text x="1264.94" y="575.54" font-size="14.93" fill="#111" textLength="38.26" lengthAdjust="spacingAndGlyphs">2600</text>
<text x="1264.94" y="536.74" font-size="14.93" fill="#111" textLength="38.26" lengthAdjust="spacingAndGlyphs">2700</text>
<text x="1264.94" y="499.36" font-size="14.93" fill="#111" textLength="38.26" lengthAdjust="spacingAndGlyphs">2800</text>
<text x="1264.94" y="463.29" font-size="14.93" fill="#111" textLength="38.26" lengthAdjust="spacingAndGlyphs">2900</text>
<text x="1265.12" y="428.44" font-size="14.93" fill="#111" textLength="38.08" lengthAdjust="spacingAndGlyphs">3000</text>
<text x="1265.12" y="394.73" font-size="14.93" fill="#111" textLength="38.08" lengthAdjust="spacingAndGlyphs">3100</text>
<text x="1265.12" y="362.09" font-size="14.93" fill="#111" textLength="38.08" lengthAdjust="spacingAndGlyphs">3200</text>
<text x="1265.12" y="330.46" font-size="14.93" fill="#111" textLength="38.08" lengthAdjust="spacingAndGlyphs">3300</text>
<text x="1265.12" y="299.77" font-size="14.93" fill="#111" textLength="38.08" lengthAdjust="spacingAndGlyphs">3400</text>
<text x="1265.12" y="269.97" font-size="14.93" fill="#111" textLength="38.08" lengthAdjust="spacingAndGlyphs">3500</text>
<text x="1265.12" y="241.02" font-size="14.93" fill="#111" textLength="38.08" lengthAdjust="spacingAndGlyphs">3600</text>
<text x="1269.02" y="790.60" font-size="14.93" fill="#111" textLength="29.56" lengthAdjust="spacingAndGlyphs">100</text>
<text x="1274.97" y="864.63" font-size="14.93" fill="#111" textLength="23.51" lengthAdjust="spacingAndGlyphs">-50</text>
<text x="1265.71" y="889.30" font-size="14.93" fill="#111" textLength="32.79" lengthAdjust="spacingAndGlyphs">-100</text>
<text x="1265.71" y="913.98" font-size="14.93" fill="#111" textLength="32.79" lengthAdjust="spacingAndGlyphs">-150</text>
<text x="1265.71" y="938.65" font-size="14.93" fill="#111" textLength="32.79" lengthAdjust="spacingAndGlyphs">-200</text>
<text x="1265.71" y="963.33" font-size="14.93" fill="#111" textLength="32.79" lengthAdjust="spacingAndGlyphs">-250</text>
<line x1="1261.0" y1="743.5" x2="1265.0" y2="743.5" stroke="#b0b0b0" stroke-width="1"/>
<line x1="1261.0" y1="734.2" x2="1263.6" y2="734.2" stroke="#b0b0b0" stroke-width="1"/>
<line x1="1261.0" y1="725.0" x2="1263.6" y2="725.0" stroke="#b0b0b0" stroke-width="1"/>
<line x1="1261.0" y1="715.9" x2="1263.6" y2="715.9" stroke="#b0b0b0" stroke-width="1"/>
<line x1="1261.0" y1="706.8" x2="1263.6" y2="706.8" stroke="#b0b0b0" stroke-width="1"/>
<line x1="1261.0" y1="697.8" x2="1265.0" y2="697.8" stroke="#b0b0b0" stroke-width="1"/>
<line x1="1261.0" y1="688.9" x2="1263.6" y2="688.9" stroke="#b0b0b0" stroke-width="1"/>
<line x1="1261.0" y1="680.1" x2="1263.6" y2="680.1" stroke="#b0b0b0" stroke-width="1"/>
<line x1="1261.0" y1="671.3" x2="1263.6" y2="671.3" stroke="#b0b0b0" stroke-width="1"/>
<line x1="1261.0" y1="662.7" x2="1263.6" y2="662.7" stroke="#b0b0b0" stroke-width="1"/>
<line x1="1261.0" y1="654.1" x2="1265.0" y2="654.1" stroke="#b0b0b0" stroke-width="1"/>
<line x1="1261.0" y1="645.5" x2="1263.6" y2="645.5" stroke="#b0b0b0" stroke-width="1"/>
<line x1="1261.0" y1="637.1" x2="1263.6" y2="637.1" stroke="#b0b0b0" stroke-width="1"/>
<line x1="1261.0" y1="628.7" x2="1263.6" y2="628.7" stroke="#b0b0b0" stroke-width="1"/>
<line x1="1261.0" y1="620.4" x2="1263.6" y2="620.4" stroke="#b0b0b0" stroke-width="1"/>
<line x1="1261.0" y1="612.1" x2="1265.0" y2="612.1" stroke="#b0b0b0" stroke-width="1"/>
<line x1="1261.0" y1="603.9" x2="1263.6" y2="603.9" stroke="#b0b0b0" stroke-width="1"/>
<line x1="1261.0" y1="595.8" x2="1263.6" y2="595.8" stroke="#b0b0b0" stroke-width="1"/>
<line x1="1261.0" y1="587.7" x2="1263.6" y2="587.7" stroke="#b0b0b0" stroke-width="1"/>
<line x1="1261.0" y1="579.7" x2="1263.6" y2="579.7" stroke="#b0b0b0" stroke-width="1"/>
<line x1="1261.0" y1="571.8" x2="1265.0" y2="571.8" stroke="#b0b0b0" stroke-width="1"/>
<line x1="1261.0" y1="563.9" x2="1263.6" y2="563.9" stroke="#b0b0b0" stroke-width="1"/>
<line x1="1261.0" y1="556.1" x2="1263.6" y2="556.1" stroke="#b0b0b0" stroke-width="1"/>
<line x1="1261.0" y1="548.3" x2="1263.6" y2="548.3" stroke="#b0b0b0" stroke-width="1"/>
<line x1="1261.0" y1="540.6" x2="1263.6" y2="540.6" stroke="#b0b0b0" stroke-width="1"/>
<line x1="1261.0" y1="533.0" x2="1265.0" y2="533.0" stroke="#b0b0b0" stroke-width="1"/>
<line x1="1261.0" y1="525.4" x2="1263.6" y2="525.4" stroke="#b0b0b0" stroke-width="1"/>
<line x1="1261.0" y1="517.9" x2="1263.6" y2="517.9" stroke="#b0b0b0" stroke-width="1"/>
<line x1="1261.0" y1="510.4" x2="1263.6" y2="510.4" stroke="#b0b0b0" stroke-width="1"/>
<line x1="1261.0" y1="503.0" x2="1263.6" y2="503.0" stroke="#b0b0b0" stroke-width="1"/>
<line x1="1261.0" y1="495.6" x2="1265.0" y2="495.6" stroke="#b0b0b0" stroke-width="1"/>
<line x1="1261.0" y1="488.3" x2="1263.6" y2="488.3" stroke="#b0b0b0" stroke-width="1"/>
<line x1="1261.0" y1="481.0" x2="1263.6" y2="481.0" stroke="#b0b0b0" stroke-width="1"/>
<line x1="1261.0" y1="473.8" x2="1263.6" y2="473.8" stroke="#b0b0b0" stroke-width="1"/>
<line x1="1261.0" y1="466.6" x2="1263.6" y2="466.6" stroke="#b0b0b0" stroke-width="1"/>
<line x1="1261.0" y1="459.5" x2="1265.0" y2="459.5" stroke="#b0b0b0" stroke-width="1"/>
<line x1="1261.0" y1="452.5" x2="1263.6" y2="452.5" stroke="#b0b0b0" stroke-width="1"/>
<line x1="1261.0" y1="445.5" x2="1263.6" y2="445.5" stroke="#b0b0b0" stroke-width="1"/>
<line x1="1261.0" y1="438.5" x2="1263.6" y2="438.5" stroke="#b0b0b0" stroke-width="1"/>
<line x1="1261.0" y1="431.6" x2="1263.6" y2="431.6" stroke="#b0b0b0" stroke-width="1"/>
<line x1="1261.0" y1="424.7" x2="1265.0" y2="424.7" stroke="#b0b0b0" stroke-width="1"/>
<line x1="1261.0" y1="417.9" x2="1263.6" y2="417.9" stroke="#b0b0b0" stroke-width="1"/>
<line x1="1261.0" y1="411.1" x2="1263.6" y2="411.1" stroke="#b0b0b0" stroke-width="1"/>
<line x1="1261.0" y1="404.3" x2="1263.6" y2="404.3" stroke="#b0b0b0" stroke-width="1"/>
<line x1="1261.0" y1="397.6" x2="1263.6" y2="397.6" stroke="#b0b0b0" stroke-width="1"/>
<line x1="1261.0" y1="391.0" x2="1265.0" y2="391.0" stroke="#b0b0b0" stroke-width="1"/>
<line x1="1261.0" y1="384.4" x2="1263.6" y2="384.4" stroke="#b0b0b0" stroke-width="1"/>
<line x1="1261.0" y1="377.8" x2="1263.6" y2="377.8" stroke="#b0b0b0" stroke-width="1"/>
<line x1="1261.0" y1="371.3" x2="1263.6" y2="371.3" stroke="#b0b0b0" stroke-width="1"/>
<line x1="1261.0" y1="364.8" x2="1263.6" y2="364.8" stroke="#b0b0b0" stroke-width="1"/>
<line x1="1261.0" y1="358.3" x2="1265.0" y2="358.3" stroke="#b0b0b0" stroke-width="1"/>
<line x1="1261.0" y1="351.9" x2="1263.6" y2="351.9" stroke="#b0b0b0" stroke-width="1"/>
<line x1="1261.0" y1="345.6" x2="1263.6" y2="345.6" stroke="#b0b0b0" stroke-width="1"/>
<line x1="1261.0" y1="339.2" x2="1263.6" y2="339.2" stroke="#b0b0b0" stroke-width="1"/>
<line x1="1261.0" y1="333.0" x2="1263.6" y2="333.0" stroke="#b0b0b0" stroke-width="1"/>
<line x1="1261.0" y1="326.7" x2="1265.0" y2="326.7" stroke="#b0b0b0" stroke-width="1"/>
<line x1="1261.0" y1="320.5" x2="1263.6" y2="320.5" stroke="#b0b0b0" stroke-width="1"/>
<line x1="1261.0" y1="314.3" x2="1263.6" y2="314.3" stroke="#b0b0b0" stroke-width="1"/>
<line x1="1261.0" y1="308.2" x2="1263.6" y2="308.2" stroke="#b0b0b0" stroke-width="1"/>
<line x1="1261.0" y1="302.1" x2="1263.6" y2="302.1" stroke="#b0b0b0" stroke-width="1"/>
<line x1="1261.0" y1="296.0" x2="1265.0" y2="296.0" stroke="#b0b0b0" stroke-width="1"/>
<line x1="1261.0" y1="290.0" x2="1263.6" y2="290.0" stroke="#b0b0b0" stroke-width="1"/>
<line x1="1261.0" y1="284.0" x2="1263.6" y2="284.0" stroke="#b0b0b0" stroke-width="1"/>
<line x1="1261.0" y1="278.0" x2="1263.6" y2="278.0" stroke="#b0b0b0" stroke-width="1"/>
<line x1="1261.0" y1="272.1" x2="1263.6" y2="272.1" stroke="#b0b0b0" stroke-width="1"/>
<line x1="1261.0" y1="266.2" x2="1265.0" y2="266.2" stroke="#b0b0b0" stroke-width="1"/>
<line x1="1261.0" y1="260.4" x2="1263.6" y2="260.4" stroke="#b0b0b0" stroke-width="1"/>
<line x1="1261.0" y1="254.5" x2="1263.6" y2="254.5" stroke="#b0b0b0" stroke-width="1"/>
<line x1="1261.0" y1="248.8" x2="1263.6" y2="248.8" stroke="#b0b0b0" stroke-width="1"/>
<line x1="1261.0" y1="243.0" x2="1263.6" y2="243.0" stroke="#b0b0b0" stroke-width="1"/>
<line x1="1261.0" y1="237.3" x2="1265.0" y2="237.3" stroke="#b0b0b0" stroke-width="1"/>
<line x1="1261.0" y1="217.8" x2="1265.0" y2="217.8" stroke="#b0b0b0" stroke-width="1"/>
<line x1="1261.0" y1="209.8" x2="1263.6" y2="209.8" stroke="#b0b0b0" stroke-width="1"/>
<line x1="1261.0" y1="201.7" x2="1265.0" y2="201.7" stroke="#b0b0b0" stroke-width="1"/>
<line x1="1261.0" y1="193.6" x2="1263.6" y2="193.6" stroke="#b0b0b0" stroke-width="1"/>
<line x1="1261.0" y1="185.6" x2="1265.0" y2="185.6" stroke="#b0b0b0" stroke-width="1"/>
<line x1="1261.0" y1="177.5" x2="1263.6" y2="177.5" stroke="#b0b0b0" stroke-width="1"/>
<line x1="1261.0" y1="169.4" x2="1265.0" y2="169.4" stroke="#b0b0b0" stroke-width="1"/>
<line x1="1261.0" y1="161.4" x2="1263.6" y2="161.4" stroke="#b0b0b0" stroke-width="1"/>
<line x1="1261.0" y1="153.3" x2="1265.0" y2="153.3" stroke="#b0b0b0" stroke-width="1"/>
<line x1="1261.0" y1="145.3" x2="1263.6" y2="145.3" stroke="#b0b0b0" stroke-width="1"/>
<line x1="1261.0" y1="137.2" x2="1265.0" y2="137.2" stroke="#b0b0b0" stroke-width="1"/>
<line x1="1261.0" y1="129.1" x2="1263.6" y2="129.1" stroke="#b0b0b0" stroke-width="1"/>
<line x1="1261.0" y1="121.1" x2="1265.0" y2="121.1" stroke="#b0b0b0" stroke-width="1"/>
<line x1="1261.0" y1="113.0" x2="1263.6" y2="113.0" stroke="#b0b0b0" stroke-width="1"/>
<line x1="1261.0" y1="105.6" x2="1265.0" y2="105.6" stroke="#b0b0b0" stroke-width="1"/>
<line x1="1261.0" y1="96.9" x2="1263.6" y2="96.9" stroke="#b0b0b0" stroke-width="1"/>
<line x1="1261.0" y1="88.8" x2="1265.0" y2="88.8" stroke="#b0b0b0" stroke-width="1"/>
<line x1="1261.0" y1="80.8" x2="1263.6" y2="80.8" stroke="#b0b0b0" stroke-width="1"/>
<line x1="1261.0" y1="72.7" x2="1265.0" y2="72.7" stroke="#b0b0b0" stroke-width="1"/>
<line x1="1261.0" y1="64.6" x2="1263.6" y2="64.6" stroke="#b0b0b0" stroke-width="1"/>
<line x1="1261.0" y1="56.6" x2="1265.0" y2="56.6" stroke="#b0b0b0" stroke-width="1"/>
<line x1="1261.0" y1="959.6" x2="1265.0" y2="959.6" stroke="#b0b0b0" stroke-width="1"/>
<line x1="1261.0" y1="954.6" x2="1263.6" y2="954.6" stroke="#b0b0b0" stroke-width="1"/>
<line x1="1261.0" y1="949.7" x2="1263.6" y2="949.7" stroke="#b0b0b0" stroke-width="1"/>
<line x1="1261.0" y1="944.8" x2="1263.6" y2="944.8" stroke="#b0b0b0" stroke-width="1"/>
<line x1="1261.0" y1="939.8" x2="1263.6" y2="939.8" stroke="#b0b0b0" stroke-width="1"/>
<line x1="1261.0" y1="934.9" x2="1265.0" y2="934.9" stroke="#b0b0b0" stroke-width="1"/>
<line x1="1261.0" y1="930.0" x2="1263.6" y2="930.0" stroke="#b0b0b0" stroke-width="1"/>
<line x1="1261.0" y1="925.0" x2="1263.6" y2="925.0" stroke="#b0b0b0" stroke-width="1"/>
<line x1="1261.0" y1="920.1" x2="1263.6" y2="920.1" stroke="#b0b0b0" stroke-width="1"/>
<line x1="1261.0" y1="915.2" x2="1263.6" y2="915.2" stroke="#b0b0b0" stroke-width="1"/>
<line x1="1261.0" y1="910.2" x2="1265.0" y2="910.2" stroke="#b0b0b0" stroke-width="1"/>
<line x1="1261.0" y1="905.3" x2="1263.6" y2="905.3" stroke="#b0b0b0" stroke-width="1"/>
<line x1="1261.0" y1="900.4" x2="1263.6" y2="900.4" stroke="#b0b0b0" stroke-width="1"/>
<line x1="1261.0" y1="895.4" x2="1263.6" y2="895.4" stroke="#b0b0b0" stroke-width="1"/>
<line x1="1261.0" y1="890.5" x2="1263.6" y2="890.5" stroke="#b0b0b0" stroke-width="1"/>
<line x1="1261.0" y1="885.6" x2="1265.0" y2="885.6" stroke="#b0b0b0" stroke-width="1"/>
<line x1="1261.0" y1="880.6" x2="1263.6" y2="880.6" stroke="#b0b0b0" stroke-width="1"/>
<line x1="1261.0" y1="875.7" x2="1263.6" y2="875.7" stroke="#b0b0b0" stroke-width="1"/>
<line x1="1261.0" y1="870.7" x2="1263.6" y2="870.7" stroke="#b0b0b0" stroke-width="1"/>
<line x1="1261.0" y1="865.8" x2="1263.6" y2="865.8" stroke="#b0b0b0" stroke-width="1"/>
<line x1="1261.0" y1="860.9" x2="1265.0" y2="860.9" stroke="#b0b0b0" stroke-width="1"/>
<line x1="1261.0" y1="855.9" x2="1263.6" y2="855.9" stroke="#b0b0b0" stroke-width="1"/>
<line x1="1261.0" y1="851.0" x2="1263.6" y2="851.0" stroke="#b0b0b0" stroke-width="1"/>
<line x1="1261.0" y1="846.1" x2="1263.6" y2="846.1" stroke="#b0b0b0" stroke-width="1"/>
<line x1="1261.0" y1="841.1" x2="1263.6" y2="841.1" stroke="#b0b0b0" stroke-width="1"/>
<line x1="1261.0" y1="836.2" x2="1265.0" y2="836.2" stroke="#b0b0b0" stroke-width="1"/>
<line x1="1261.0" y1="831.3" x2="1263.6" y2="831.3" stroke="#b0b0b0" stroke-width="1"/>
<line x1="1261.0" y1="826.3" x2="1263.6" y2="826.3" stroke="#b0b0b0" stroke-width="1"/>
<line x1="1261.0" y1="821.4" x2="1263.6" y2="821.4" stroke="#b0b0b0" stroke-width="1"/>
<line x1="1261.0" y1="816.5" x2="1263.6" y2="816.5" stroke="#b0b0b0" stroke-width="1"/>
<line x1="1261.0" y1="811.5" x2="1265.0" y2="811.5" stroke="#b0b0b0" stroke-width="1"/>
<line x1="1261.0" y1="806.6" x2="1263.6" y2="806.6" stroke="#b0b0b0" stroke-width="1"/>
<line x1="1261.0" y1="801.7" x2="1263.6" y2="801.7" stroke="#b0b0b0" stroke-width="1"/>
<line x1="1261.0" y1="796.7" x2="1263.6" y2="796.7" stroke="#b0b0b0" stroke-width="1"/>
<line x1="1261.0" y1="791.8" x2="1263.6" y2="791.8" stroke="#b0b0b0" stroke-width="1"/>
<line x1="1261.0" y1="786.9" x2="1265.0" y2="786.9" stroke="#b0b0b0" stroke-width="1"/>
<line x1="1261.0" y1="781.9" x2="1263.6" y2="781.9" stroke="#b0b0b0" stroke-width="1"/>
<text x="28.66" y="773.90" font-size="15" fill="#111" textLength="18.35" lengthAdjust="spacingAndGlyphs">27</text>
<text x="60.51" y="774.00" font-size="16" font-weight="bold" fill="#111" textLength="32.43" lengthAdjust="spacingAndGlyphs">Feb</text>
<text x="106.55" y="773.90" font-size="15" fill="#111" textLength="18.35" lengthAdjust="spacingAndGlyphs">10</text>
<text x="145.70" y="773.90" font-size="15" fill="#111" textLength="18.35" lengthAdjust="spacingAndGlyphs">18</text>
<text x="177.11" y="773.90" font-size="15" fill="#111" textLength="18.35" lengthAdjust="spacingAndGlyphs">24</text>
<text x="208.85" y="774.00" font-size="16" font-weight="bold" fill="#111" textLength="32.44" lengthAdjust="spacingAndGlyphs">Mar</text>
<text x="260.07" y="773.90" font-size="15" fill="#111" textLength="9.18" lengthAdjust="spacingAndGlyphs">9</text>
<text x="294.31" y="773.90" font-size="15" fill="#111" textLength="18.35" lengthAdjust="spacingAndGlyphs">16</text>
<text x="333.62" y="773.90" font-size="15" fill="#111" textLength="18.35" lengthAdjust="spacingAndGlyphs">23</text>
<text x="382.69" y="774.00" font-size="16" font-weight="bold" fill="#111" textLength="31.41" lengthAdjust="spacingAndGlyphs">Apr</text>
<text x="416.81" y="773.90" font-size="15" fill="#111" textLength="9.18" lengthAdjust="spacingAndGlyphs">6</text>
<text x="442.91" y="773.90" font-size="15" fill="#111" textLength="18.35" lengthAdjust="spacingAndGlyphs">13</text>
<text x="482.19" y="773.90" font-size="15" fill="#111" textLength="18.35" lengthAdjust="spacingAndGlyphs">20</text>
<text x="521.42" y="773.90" font-size="15" fill="#111" textLength="18.35" lengthAdjust="spacingAndGlyphs">27</text>
<text x="543.58" y="774.00" font-size="16" font-weight="bold" fill="#111" textLength="35.48" lengthAdjust="spacingAndGlyphs">May</text>
<text x="600.00" y="773.90" font-size="15" fill="#111" textLength="17.13" lengthAdjust="spacingAndGlyphs">11</text>
<text x="638.45" y="773.90" font-size="15" fill="#111" textLength="18.35" lengthAdjust="spacingAndGlyphs">18</text>
<text x="677.77" y="773.90" font-size="15" fill="#111" textLength="18.35" lengthAdjust="spacingAndGlyphs">26</text>
<text x="702.51" y="774.00" font-size="16" font-weight="bold" fill="#111" textLength="32.43" lengthAdjust="spacingAndGlyphs">Jun</text>
<text x="752.78" y="773.90" font-size="15" fill="#111" textLength="9.18" lengthAdjust="spacingAndGlyphs">8</text>
<text x="787.06" y="773.90" font-size="15" fill="#111" textLength="18.35" lengthAdjust="spacingAndGlyphs">15</text>
<text x="826.46" y="773.90" font-size="15" fill="#111" textLength="18.35" lengthAdjust="spacingAndGlyphs">22</text>
<text x="877.69" y="774.00" font-size="16" font-weight="bold" fill="#111" textLength="26.35" lengthAdjust="spacingAndGlyphs">Jul</text>
<text x="901.85" y="773.90" font-size="15" fill="#111" textLength="9.18" lengthAdjust="spacingAndGlyphs">6</text>
<text x="935.67" y="773.90" font-size="15" fill="#111" textLength="18.35" lengthAdjust="spacingAndGlyphs">13</text>
<text x="974.94" y="773.90" font-size="15" fill="#111" textLength="18.35" lengthAdjust="spacingAndGlyphs">20</text>
<text x="1014.17" y="773.90" font-size="15" fill="#111" textLength="18.35" lengthAdjust="spacingAndGlyphs">27</text>
<text x="1045.06" y="774.00" font-size="16" font-weight="bold" fill="#111" textLength="35.46" lengthAdjust="spacingAndGlyphs">Aug</text>
<text x="1092.06" y="773.90" font-size="15" fill="#111" textLength="18.35" lengthAdjust="spacingAndGlyphs">10</text>
<text x="1131.29" y="773.90" font-size="15" fill="#111" textLength="18.35" lengthAdjust="spacingAndGlyphs">17</text>
<text x="1170.44" y="773.90" font-size="15" fill="#111" textLength="18.35" lengthAdjust="spacingAndGlyphs">24</text>
<text x="1210.05" y="774.00" font-size="16" font-weight="bold" fill="#111" textLength="33.45" lengthAdjust="spacingAndGlyphs">Sep</text>
<text x="28.66" y="980.40" font-size="15" fill="#111" textLength="18.35" lengthAdjust="spacingAndGlyphs">27</text>
<text x="60.51" y="980.50" font-size="16" font-weight="bold" fill="#111" textLength="32.43" lengthAdjust="spacingAndGlyphs">Feb</text>
<text x="106.55" y="980.40" font-size="15" fill="#111" textLength="18.35" lengthAdjust="spacingAndGlyphs">10</text>
<text x="145.70" y="980.40" font-size="15" fill="#111" textLength="18.35" lengthAdjust="spacingAndGlyphs">18</text>
<text x="177.11" y="980.40" font-size="15" fill="#111" textLength="18.35" lengthAdjust="spacingAndGlyphs">24</text>
<text x="208.85" y="980.50" font-size="16" font-weight="bold" fill="#111" textLength="32.44" lengthAdjust="spacingAndGlyphs">Mar</text>
<text x="260.07" y="980.40" font-size="15" fill="#111" textLength="9.18" lengthAdjust="spacingAndGlyphs">9</text>
<text x="294.31" y="980.40" font-size="15" fill="#111" textLength="18.35" lengthAdjust="spacingAndGlyphs">16</text>
<text x="333.62" y="980.40" font-size="15" fill="#111" textLength="18.35" lengthAdjust="spacingAndGlyphs">23</text>
<text x="382.69" y="980.50" font-size="16" font-weight="bold" fill="#111" textLength="31.41" lengthAdjust="spacingAndGlyphs">Apr</text>
<text x="416.81" y="980.40" font-size="15" fill="#111" textLength="9.18" lengthAdjust="spacingAndGlyphs">6</text>
<text x="442.91" y="980.40" font-size="15" fill="#111" textLength="18.35" lengthAdjust="spacingAndGlyphs">13</text>
<text x="482.19" y="980.40" font-size="15" fill="#111" textLength="18.35" lengthAdjust="spacingAndGlyphs">20</text>
<text x="521.42" y="980.40" font-size="15" fill="#111" textLength="18.35" lengthAdjust="spacingAndGlyphs">27</text>
<text x="543.58" y="980.50" font-size="16" font-weight="bold" fill="#111" textLength="35.48" lengthAdjust="spacingAndGlyphs">May</text>
<text x="600.00" y="980.40" font-size="15" fill="#111" textLength="17.13" lengthAdjust="spacingAndGlyphs">11</text>
<text x="638.45" y="980.40" font-size="15" fill="#111" textLength="18.35" lengthAdjust="spacingAndGlyphs">18</text>
<text x="677.77" y="980.40" font-size="15" fill="#111" textLength="18.35" lengthAdjust="spacingAndGlyphs">26</text>
<text x="702.51" y="980.50" font-size="16" font-weight="bold" fill="#111" textLength="32.43" lengthAdjust="spacingAndGlyphs">Jun</text>
<text x="752.78" y="980.40" font-size="15" fill="#111" textLength="9.18" lengthAdjust="spacingAndGlyphs">8</text>
<text x="787.06" y="980.40" font-size="15" fill="#111" textLength="18.35" lengthAdjust="spacingAndGlyphs">15</text>
<text x="826.46" y="980.40" font-size="15" fill="#111" textLength="18.35" lengthAdjust="spacingAndGlyphs">22</text>
<text x="877.69" y="980.50" font-size="16" font-weight="bold" fill="#111" textLength="26.35" lengthAdjust="spacingAndGlyphs">Jul</text>
<text x="901.85" y="980.40" font-size="15" fill="#111" textLength="9.18" lengthAdjust="spacingAndGlyphs">6</text>
<text x="935.67" y="980.40" font-size="15" fill="#111" textLength="18.35" lengthAdjust="spacingAndGlyphs">13</text>
<text x="974.94" y="980.40" font-size="15" fill="#111" textLength="18.35" lengthAdjust="spacingAndGlyphs">20</text>
<text x="1014.17" y="980.40" font-size="15" fill="#111" textLength="18.35" lengthAdjust="spacingAndGlyphs">27</text>
<text x="1045.06" y="980.50" font-size="16" font-weight="bold" fill="#111" textLength="35.46" lengthAdjust="spacingAndGlyphs">Aug</text>
<text x="1092.06" y="980.40" font-size="15" fill="#111" textLength="18.35" lengthAdjust="spacingAndGlyphs">10</text>
<text x="1131.29" y="980.40" font-size="15" fill="#111" textLength="18.35" lengthAdjust="spacingAndGlyphs">17</text>
<text x="1170.44" y="980.40" font-size="15" fill="#111" textLength="18.35" lengthAdjust="spacingAndGlyphs">24</text>
<text x="1210.05" y="980.50" font-size="16" font-weight="bold" fill="#111" textLength="33.45" lengthAdjust="spacingAndGlyphs">Sep</text>
<line x1="30.4" y1="757.4" x2="30.4" y2="759.9" stroke="#b8b8b8" stroke-width="1.1"/>
<line x1="30.4" y1="963.6" x2="30.4" y2="966.1" stroke="#b8b8b8" stroke-width="1.1"/>
<line x1="30.4" y1="776.9" x2="30.4" y2="779.4" stroke="#b8b8b8" stroke-width="1.1"/>
<line x1="38.2" y1="757.4" x2="38.2" y2="759.9" stroke="#b8b8b8" stroke-width="1.1"/>
<line x1="38.2" y1="963.6" x2="38.2" y2="966.1" stroke="#b8b8b8" stroke-width="1.1"/>
<line x1="38.2" y1="776.9" x2="38.2" y2="779.4" stroke="#b8b8b8" stroke-width="1.1"/>
<line x1="46.0" y1="757.4" x2="46.0" y2="759.9" stroke="#b8b8b8" stroke-width="1.1"/>
<line x1="46.0" y1="963.6" x2="46.0" y2="966.1" stroke="#b8b8b8" stroke-width="1.1"/>
<line x1="46.0" y1="776.9" x2="46.0" y2="779.4" stroke="#b8b8b8" stroke-width="1.1"/>
<line x1="53.9" y1="757.4" x2="53.9" y2="759.9" stroke="#b8b8b8" stroke-width="1.1"/>
<line x1="53.9" y1="963.6" x2="53.9" y2="966.1" stroke="#b8b8b8" stroke-width="1.1"/>
<line x1="53.9" y1="776.9" x2="53.9" y2="779.4" stroke="#b8b8b8" stroke-width="1.1"/>
<line x1="61.7" y1="757.4" x2="61.7" y2="759.9" stroke="#b8b8b8" stroke-width="1.1"/>
<line x1="61.7" y1="963.6" x2="61.7" y2="966.1" stroke="#b8b8b8" stroke-width="1.1"/>
<line x1="61.7" y1="776.9" x2="61.7" y2="779.4" stroke="#b8b8b8" stroke-width="1.1"/>
<line x1="69.5" y1="757.4" x2="69.5" y2="759.9" stroke="#b8b8b8" stroke-width="1.1"/>
<line x1="69.5" y1="963.6" x2="69.5" y2="966.1" stroke="#b8b8b8" stroke-width="1.1"/>
<line x1="69.5" y1="776.9" x2="69.5" y2="779.4" stroke="#b8b8b8" stroke-width="1.1"/>
<line x1="77.3" y1="757.4" x2="77.3" y2="759.9" stroke="#b8b8b8" stroke-width="1.1"/>
<line x1="77.3" y1="963.6" x2="77.3" y2="966.1" stroke="#b8b8b8" stroke-width="1.1"/>
<line x1="77.3" y1="776.9" x2="77.3" y2="779.4" stroke="#b8b8b8" stroke-width="1.1"/>
<line x1="85.2" y1="757.4" x2="85.2" y2="759.9" stroke="#b8b8b8" stroke-width="1.1"/>
<line x1="85.2" y1="963.6" x2="85.2" y2="966.1" stroke="#b8b8b8" stroke-width="1.1"/>
<line x1="85.2" y1="776.9" x2="85.2" y2="779.4" stroke="#b8b8b8" stroke-width="1.1"/>
<line x1="93.0" y1="757.4" x2="93.0" y2="759.9" stroke="#b8b8b8" stroke-width="1.1"/>
<line x1="93.0" y1="963.6" x2="93.0" y2="966.1" stroke="#b8b8b8" stroke-width="1.1"/>
<line x1="93.0" y1="776.9" x2="93.0" y2="779.4" stroke="#b8b8b8" stroke-width="1.1"/>
<line x1="100.8" y1="757.4" x2="100.8" y2="759.9" stroke="#b8b8b8" stroke-width="1.1"/>
<line x1="100.8" y1="963.6" x2="100.8" y2="966.1" stroke="#b8b8b8" stroke-width="1.1"/>
<line x1="100.8" y1="776.9" x2="100.8" y2="779.4" stroke="#b8b8b8" stroke-width="1.1"/>
<line x1="108.6" y1="757.4" x2="108.6" y2="759.9" stroke="#b8b8b8" stroke-width="1.1"/>
<line x1="108.6" y1="963.6" x2="108.6" y2="966.1" stroke="#b8b8b8" stroke-width="1.1"/>
<line x1="108.6" y1="776.9" x2="108.6" y2="779.4" stroke="#b8b8b8" stroke-width="1.1"/>
<line x1="116.4" y1="757.4" x2="116.4" y2="759.9" stroke="#b8b8b8" stroke-width="1.1"/>
<line x1="116.4" y1="963.6" x2="116.4" y2="966.1" stroke="#b8b8b8" stroke-width="1.1"/>
<line x1="116.4" y1="776.9" x2="116.4" y2="779.4" stroke="#b8b8b8" stroke-width="1.1"/>
<line x1="124.3" y1="757.4" x2="124.3" y2="759.9" stroke="#b8b8b8" stroke-width="1.1"/>
<line x1="124.3" y1="963.6" x2="124.3" y2="966.1" stroke="#b8b8b8" stroke-width="1.1"/>
<line x1="124.3" y1="776.9" x2="124.3" y2="779.4" stroke="#b8b8b8" stroke-width="1.1"/>
<line x1="132.1" y1="757.4" x2="132.1" y2="759.9" stroke="#b8b8b8" stroke-width="1.1"/>
<line x1="132.1" y1="963.6" x2="132.1" y2="966.1" stroke="#b8b8b8" stroke-width="1.1"/>
<line x1="132.1" y1="776.9" x2="132.1" y2="779.4" stroke="#b8b8b8" stroke-width="1.1"/>
<line x1="139.9" y1="757.4" x2="139.9" y2="759.9" stroke="#b8b8b8" stroke-width="1.1"/>
<line x1="139.9" y1="963.6" x2="139.9" y2="966.1" stroke="#b8b8b8" stroke-width="1.1"/>
<line x1="139.9" y1="776.9" x2="139.9" y2="779.4" stroke="#b8b8b8" stroke-width="1.1"/>
<line x1="147.7" y1="757.4" x2="147.7" y2="759.9" stroke="#b8b8b8" stroke-width="1.1"/>
<line x1="147.7" y1="963.6" x2="147.7" y2="966.1" stroke="#b8b8b8" stroke-width="1.1"/>
<line x1="147.7" y1="776.9" x2="147.7" y2="779.4" stroke="#b8b8b8" stroke-width="1.1"/>
<line x1="155.5" y1="757.4" x2="155.5" y2="759.9" stroke="#b8b8b8" stroke-width="1.1"/>
<line x1="155.5" y1="963.6" x2="155.5" y2="966.1" stroke="#b8b8b8" stroke-width="1.1"/>
<line x1="155.5" y1="776.9" x2="155.5" y2="779.4" stroke="#b8b8b8" stroke-width="1.1"/>
<line x1="163.4" y1="757.4" x2="163.4" y2="759.9" stroke="#b8b8b8" stroke-width="1.1"/>
<line x1="163.4" y1="963.6" x2="163.4" y2="966.1" stroke="#b8b8b8" stroke-width="1.1"/>
<line x1="163.4" y1="776.9" x2="163.4" y2="779.4" stroke="#b8b8b8" stroke-width="1.1"/>
<line x1="171.2" y1="757.4" x2="171.2" y2="759.9" stroke="#b8b8b8" stroke-width="1.1"/>
<line x1="171.2" y1="963.6" x2="171.2" y2="966.1" stroke="#b8b8b8" stroke-width="1.1"/>
<line x1="171.2" y1="776.9" x2="171.2" y2="779.4" stroke="#b8b8b8" stroke-width="1.1"/>
<line x1="179.0" y1="757.4" x2="179.0" y2="759.9" stroke="#b8b8b8" stroke-width="1.1"/>
<line x1="179.0" y1="963.6" x2="179.0" y2="966.1" stroke="#b8b8b8" stroke-width="1.1"/>
<line x1="179.0" y1="776.9" x2="179.0" y2="779.4" stroke="#b8b8b8" stroke-width="1.1"/>
<line x1="186.8" y1="757.4" x2="186.8" y2="759.9" stroke="#b8b8b8" stroke-width="1.1"/>
<line x1="186.8" y1="963.6" x2="186.8" y2="966.1" stroke="#b8b8b8" stroke-width="1.1"/>
<line x1="186.8" y1="776.9" x2="186.8" y2="779.4" stroke="#b8b8b8" stroke-width="1.1"/>
<line x1="194.7" y1="757.4" x2="194.7" y2="759.9" stroke="#b8b8b8" stroke-width="1.1"/>
<line x1="194.7" y1="963.6" x2="194.7" y2="966.1" stroke="#b8b8b8" stroke-width="1.1"/>
<line x1="194.7" y1="776.9" x2="194.7" y2="779.4" stroke="#b8b8b8" stroke-width="1.1"/>
<line x1="202.5" y1="757.4" x2="202.5" y2="759.9" stroke="#b8b8b8" stroke-width="1.1"/>
<line x1="202.5" y1="963.6" x2="202.5" y2="966.1" stroke="#b8b8b8" stroke-width="1.1"/>
<line x1="202.5" y1="776.9" x2="202.5" y2="779.4" stroke="#b8b8b8" stroke-width="1.1"/>
<line x1="210.3" y1="757.4" x2="210.3" y2="759.9" stroke="#b8b8b8" stroke-width="1.1"/>
<line x1="210.3" y1="963.6" x2="210.3" y2="966.1" stroke="#b8b8b8" stroke-width="1.1"/>
<line x1="210.3" y1="776.9" x2="210.3" y2="779.4" stroke="#b8b8b8" stroke-width="1.1"/>
<line x1="218.1" y1="757.4" x2="218.1" y2="759.9" stroke="#b8b8b8" stroke-width="1.1"/>
<line x1="218.1" y1="963.6" x2="218.1" y2="966.1" stroke="#b8b8b8" stroke-width="1.1"/>
<line x1="218.1" y1="776.9" x2="218.1" y2="779.4" stroke="#b8b8b8" stroke-width="1.1"/>
<line x1="225.9" y1="757.4" x2="225.9" y2="759.9" stroke="#b8b8b8" stroke-width="1.1"/>
<line x1="225.9" y1="963.6" x2="225.9" y2="966.1" stroke="#b8b8b8" stroke-width="1.1"/>
<line x1="225.9" y1="776.9" x2="225.9" y2="779.4" stroke="#b8b8b8" stroke-width="1.1"/>
<line x1="233.8" y1="757.4" x2="233.8" y2="759.9" stroke="#b8b8b8" stroke-width="1.1"/>
<line x1="233.8" y1="963.6" x2="233.8" y2="966.1" stroke="#b8b8b8" stroke-width="1.1"/>
<line x1="233.8" y1="776.9" x2="233.8" y2="779.4" stroke="#b8b8b8" stroke-width="1.1"/>
<line x1="241.6" y1="757.4" x2="241.6" y2="759.9" stroke="#b8b8b8" stroke-width="1.1"/>
<line x1="241.6" y1="963.6" x2="241.6" y2="966.1" stroke="#b8b8b8" stroke-width="1.1"/>
<line x1="241.6" y1="776.9" x2="241.6" y2="779.4" stroke="#b8b8b8" stroke-width="1.1"/>
<line x1="249.4" y1="757.4" x2="249.4" y2="759.9" stroke="#b8b8b8" stroke-width="1.1"/>
<line x1="249.4" y1="963.6" x2="249.4" y2="966.1" stroke="#b8b8b8" stroke-width="1.1"/>
<line x1="249.4" y1="776.9" x2="249.4" y2="779.4" stroke="#b8b8b8" stroke-width="1.1"/>
<line x1="257.2" y1="757.4" x2="257.2" y2="759.9" stroke="#b8b8b8" stroke-width="1.1"/>
<line x1="257.2" y1="963.6" x2="257.2" y2="966.1" stroke="#b8b8b8" stroke-width="1.1"/>
<line x1="257.2" y1="776.9" x2="257.2" y2="779.4" stroke="#b8b8b8" stroke-width="1.1"/>
<line x1="265.0" y1="757.4" x2="265.0" y2="759.9" stroke="#b8b8b8" stroke-width="1.1"/>
<line x1="265.0" y1="963.6" x2="265.0" y2="966.1" stroke="#b8b8b8" stroke-width="1.1"/>
<line x1="265.0" y1="776.9" x2="265.0" y2="779.4" stroke="#b8b8b8" stroke-width="1.1"/>
<line x1="272.9" y1="757.4" x2="272.9" y2="759.9" stroke="#b8b8b8" stroke-width="1.1"/>
<line x1="272.9" y1="963.6" x2="272.9" y2="966.1" stroke="#b8b8b8" stroke-width="1.1"/>
<line x1="272.9" y1="776.9" x2="272.9" y2="779.4" stroke="#b8b8b8" stroke-width="1.1"/>
<line x1="280.7" y1="757.4" x2="280.7" y2="759.9" stroke="#b8b8b8" stroke-width="1.1"/>
<line x1="280.7" y1="963.6" x2="280.7" y2="966.1" stroke="#b8b8b8" stroke-width="1.1"/>
<line x1="280.7" y1="776.9" x2="280.7" y2="779.4" stroke="#b8b8b8" stroke-width="1.1"/>
<line x1="288.5" y1="757.4" x2="288.5" y2="759.9" stroke="#b8b8b8" stroke-width="1.1"/>
<line x1="288.5" y1="963.6" x2="288.5" y2="966.1" stroke="#b8b8b8" stroke-width="1.1"/>
<line x1="288.5" y1="776.9" x2="288.5" y2="779.4" stroke="#b8b8b8" stroke-width="1.1"/>
<line x1="296.3" y1="757.4" x2="296.3" y2="759.9" stroke="#b8b8b8" stroke-width="1.1"/>
<line x1="296.3" y1="963.6" x2="296.3" y2="966.1" stroke="#b8b8b8" stroke-width="1.1"/>
<line x1="296.3" y1="776.9" x2="296.3" y2="779.4" stroke="#b8b8b8" stroke-width="1.1"/>
<line x1="304.2" y1="757.4" x2="304.2" y2="759.9" stroke="#b8b8b8" stroke-width="1.1"/>
<line x1="304.2" y1="963.6" x2="304.2" y2="966.1" stroke="#b8b8b8" stroke-width="1.1"/>
<line x1="304.2" y1="776.9" x2="304.2" y2="779.4" stroke="#b8b8b8" stroke-width="1.1"/>
<line x1="312.0" y1="757.4" x2="312.0" y2="759.9" stroke="#b8b8b8" stroke-width="1.1"/>
<line x1="312.0" y1="963.6" x2="312.0" y2="966.1" stroke="#b8b8b8" stroke-width="1.1"/>
<line x1="312.0" y1="776.9" x2="312.0" y2="779.4" stroke="#b8b8b8" stroke-width="1.1"/>
<line x1="319.8" y1="757.4" x2="319.8" y2="759.9" stroke="#b8b8b8" stroke-width="1.1"/>
<line x1="319.8" y1="963.6" x2="319.8" y2="966.1" stroke="#b8b8b8" stroke-width="1.1"/>
<line x1="319.8" y1="776.9" x2="319.8" y2="779.4" stroke="#b8b8b8" stroke-width="1.1"/>
<line x1="327.6" y1="757.4" x2="327.6" y2="759.9" stroke="#b8b8b8" stroke-width="1.1"/>
<line x1="327.6" y1="963.6" x2="327.6" y2="966.1" stroke="#b8b8b8" stroke-width="1.1"/>
<line x1="327.6" y1="776.9" x2="327.6" y2="779.4" stroke="#b8b8b8" stroke-width="1.1"/>
<line x1="335.4" y1="757.4" x2="335.4" y2="759.9" stroke="#b8b8b8" stroke-width="1.1"/>
<line x1="335.4" y1="963.6" x2="335.4" y2="966.1" stroke="#b8b8b8" stroke-width="1.1"/>
<line x1="335.4" y1="776.9" x2="335.4" y2="779.4" stroke="#b8b8b8" stroke-width="1.1"/>
<line x1="343.3" y1="757.4" x2="343.3" y2="759.9" stroke="#b8b8b8" stroke-width="1.1"/>
<line x1="343.3" y1="963.6" x2="343.3" y2="966.1" stroke="#b8b8b8" stroke-width="1.1"/>
<line x1="343.3" y1="776.9" x2="343.3" y2="779.4" stroke="#b8b8b8" stroke-width="1.1"/>
<line x1="351.1" y1="757.4" x2="351.1" y2="759.9" stroke="#b8b8b8" stroke-width="1.1"/>
<line x1="351.1" y1="963.6" x2="351.1" y2="966.1" stroke="#b8b8b8" stroke-width="1.1"/>
<line x1="351.1" y1="776.9" x2="351.1" y2="779.4" stroke="#b8b8b8" stroke-width="1.1"/>
<line x1="358.9" y1="757.4" x2="358.9" y2="759.9" stroke="#b8b8b8" stroke-width="1.1"/>
<line x1="358.9" y1="963.6" x2="358.9" y2="966.1" stroke="#b8b8b8" stroke-width="1.1"/>
<line x1="358.9" y1="776.9" x2="358.9" y2="779.4" stroke="#b8b8b8" stroke-width="1.1"/>
<line x1="366.7" y1="757.4" x2="366.7" y2="759.9" stroke="#b8b8b8" stroke-width="1.1"/>
<line x1="366.7" y1="963.6" x2="366.7" y2="966.1" stroke="#b8b8b8" stroke-width="1.1"/>
<line x1="366.7" y1="776.9" x2="366.7" y2="779.4" stroke="#b8b8b8" stroke-width="1.1"/>
<line x1="374.5" y1="757.4" x2="374.5" y2="759.9" stroke="#b8b8b8" stroke-width="1.1"/>
<line x1="374.5" y1="963.6" x2="374.5" y2="966.1" stroke="#b8b8b8" stroke-width="1.1"/>
<line x1="374.5" y1="776.9" x2="374.5" y2="779.4" stroke="#b8b8b8" stroke-width="1.1"/>
<line x1="382.4" y1="757.4" x2="382.4" y2="759.9" stroke="#b8b8b8" stroke-width="1.1"/>
<line x1="382.4" y1="963.6" x2="382.4" y2="966.1" stroke="#b8b8b8" stroke-width="1.1"/>
<line x1="382.4" y1="776.9" x2="382.4" y2="779.4" stroke="#b8b8b8" stroke-width="1.1"/>
<line x1="390.2" y1="757.4" x2="390.2" y2="759.9" stroke="#b8b8b8" stroke-width="1.1"/>
<line x1="390.2" y1="963.6" x2="390.2" y2="966.1" stroke="#b8b8b8" stroke-width="1.1"/>
<line x1="390.2" y1="776.9" x2="390.2" y2="779.4" stroke="#b8b8b8" stroke-width="1.1"/>
<line x1="398.0" y1="757.4" x2="398.0" y2="759.9" stroke="#b8b8b8" stroke-width="1.1"/>
<line x1="398.0" y1="963.6" x2="398.0" y2="966.1" stroke="#b8b8b8" stroke-width="1.1"/>
<line x1="398.0" y1="776.9" x2="398.0" y2="779.4" stroke="#b8b8b8" stroke-width="1.1"/>
<line x1="405.8" y1="757.4" x2="405.8" y2="759.9" stroke="#b8b8b8" stroke-width="1.1"/>
<line x1="405.8" y1="963.6" x2="405.8" y2="966.1" stroke="#b8b8b8" stroke-width="1.1"/>
<line x1="405.8" y1="776.9" x2="405.8" y2="779.4" stroke="#b8b8b8" stroke-width="1.1"/>
<line x1="413.7" y1="757.4" x2="413.7" y2="759.9" stroke="#b8b8b8" stroke-width="1.1"/>
<line x1="413.7" y1="963.6" x2="413.7" y2="966.1" stroke="#b8b8b8" stroke-width="1.1"/>
<line x1="413.7" y1="776.9" x2="413.7" y2="779.4" stroke="#b8b8b8" stroke-width="1.1"/>
<line x1="421.5" y1="757.4" x2="421.5" y2="759.9" stroke="#b8b8b8" stroke-width="1.1"/>
<line x1="421.5" y1="963.6" x2="421.5" y2="966.1" stroke="#b8b8b8" stroke-width="1.1"/>
<line x1="421.5" y1="776.9" x2="421.5" y2="779.4" stroke="#b8b8b8" stroke-width="1.1"/>
<line x1="429.3" y1="757.4" x2="429.3" y2="759.9" stroke="#b8b8b8" stroke-width="1.1"/>
<line x1="429.3" y1="963.6" x2="429.3" y2="966.1" stroke="#b8b8b8" stroke-width="1.1"/>
<line x1="429.3" y1="776.9" x2="429.3" y2="779.4" stroke="#b8b8b8" stroke-width="1.1"/>
<line x1="437.1" y1="757.4" x2="437.1" y2="759.9" stroke="#b8b8b8" stroke-width="1.1"/>
<line x1="437.1" y1="963.6" x2="437.1" y2="966.1" stroke="#b8b8b8" stroke-width="1.1"/>
<line x1="437.1" y1="776.9" x2="437.1" y2="779.4" stroke="#b8b8b8" stroke-width="1.1"/>
<line x1="444.9" y1="757.4" x2="444.9" y2="759.9" stroke="#b8b8b8" stroke-width="1.1"/>
<line x1="444.9" y1="963.6" x2="444.9" y2="966.1" stroke="#b8b8b8" stroke-width="1.1"/>
<line x1="444.9" y1="776.9" x2="444.9" y2="779.4" stroke="#b8b8b8" stroke-width="1.1"/>
<line x1="452.8" y1="757.4" x2="452.8" y2="759.9" stroke="#b8b8b8" stroke-width="1.1"/>
<line x1="452.8" y1="963.6" x2="452.8" y2="966.1" stroke="#b8b8b8" stroke-width="1.1"/>
<line x1="452.8" y1="776.9" x2="452.8" y2="779.4" stroke="#b8b8b8" stroke-width="1.1"/>
<line x1="460.6" y1="757.4" x2="460.6" y2="759.9" stroke="#b8b8b8" stroke-width="1.1"/>
<line x1="460.6" y1="963.6" x2="460.6" y2="966.1" stroke="#b8b8b8" stroke-width="1.1"/>
<line x1="460.6" y1="776.9" x2="460.6" y2="779.4" stroke="#b8b8b8" stroke-width="1.1"/>
<line x1="468.4" y1="757.4" x2="468.4" y2="759.9" stroke="#b8b8b8" stroke-width="1.1"/>
<line x1="468.4" y1="963.6" x2="468.4" y2="966.1" stroke="#b8b8b8" stroke-width="1.1"/>
<line x1="468.4" y1="776.9" x2="468.4" y2="779.4" stroke="#b8b8b8" stroke-width="1.1"/>
<line x1="476.2" y1="757.4" x2="476.2" y2="759.9" stroke="#b8b8b8" stroke-width="1.1"/>
<line x1="476.2" y1="963.6" x2="476.2" y2="966.1" stroke="#b8b8b8" stroke-width="1.1"/>
<line x1="476.2" y1="776.9" x2="476.2" y2="779.4" stroke="#b8b8b8" stroke-width="1.1"/>
<line x1="484.0" y1="757.4" x2="484.0" y2="759.9" stroke="#b8b8b8" stroke-width="1.1"/>
<line x1="484.0" y1="963.6" x2="484.0" y2="966.1" stroke="#b8b8b8" stroke-width="1.1"/>
<line x1="484.0" y1="776.9" x2="484.0" y2="779.4" stroke="#b8b8b8" stroke-width="1.1"/>
<line x1="491.9" y1="757.4" x2="491.9" y2="759.9" stroke="#b8b8b8" stroke-width="1.1"/>
<line x1="491.9" y1="963.6" x2="491.9" y2="966.1" stroke="#b8b8b8" stroke-width="1.1"/>
<line x1="491.9" y1="776.9" x2="491.9" y2="779.4" stroke="#b8b8b8" stroke-width="1.1"/>
<line x1="499.7" y1="757.4" x2="499.7" y2="759.9" stroke="#b8b8b8" stroke-width="1.1"/>
<line x1="499.7" y1="963.6" x2="499.7" y2="966.1" stroke="#b8b8b8" stroke-width="1.1"/>
<line x1="499.7" y1="776.9" x2="499.7" y2="779.4" stroke="#b8b8b8" stroke-width="1.1"/>
<line x1="507.5" y1="757.4" x2="507.5" y2="759.9" stroke="#b8b8b8" stroke-width="1.1"/>
<line x1="507.5" y1="963.6" x2="507.5" y2="966.1" stroke="#b8b8b8" stroke-width="1.1"/>
<line x1="507.5" y1="776.9" x2="507.5" y2="779.4" stroke="#b8b8b8" stroke-width="1.1"/>
<line x1="515.3" y1="757.4" x2="515.3" y2="759.9" stroke="#b8b8b8" stroke-width="1.1"/>
<line x1="515.3" y1="963.6" x2="515.3" y2="966.1" stroke="#b8b8b8" stroke-width="1.1"/>
<line x1="515.3" y1="776.9" x2="515.3" y2="779.4" stroke="#b8b8b8" stroke-width="1.1"/>
<line x1="523.2" y1="757.4" x2="523.2" y2="759.9" stroke="#b8b8b8" stroke-width="1.1"/>
<line x1="523.2" y1="963.6" x2="523.2" y2="966.1" stroke="#b8b8b8" stroke-width="1.1"/>
<line x1="523.2" y1="776.9" x2="523.2" y2="779.4" stroke="#b8b8b8" stroke-width="1.1"/>
<line x1="531.0" y1="757.4" x2="531.0" y2="759.9" stroke="#b8b8b8" stroke-width="1.1"/>
<line x1="531.0" y1="963.6" x2="531.0" y2="966.1" stroke="#b8b8b8" stroke-width="1.1"/>
<line x1="531.0" y1="776.9" x2="531.0" y2="779.4" stroke="#b8b8b8" stroke-width="1.1"/>
<line x1="538.8" y1="757.4" x2="538.8" y2="759.9" stroke="#b8b8b8" stroke-width="1.1"/>
<line x1="538.8" y1="963.6" x2="538.8" y2="966.1" stroke="#b8b8b8" stroke-width="1.1"/>
<line x1="538.8" y1="776.9" x2="538.8" y2="779.4" stroke="#b8b8b8" stroke-width="1.1"/>
<line x1="546.6" y1="757.4" x2="546.6" y2="759.9" stroke="#b8b8b8" stroke-width="1.1"/>
<line x1="546.6" y1="963.6" x2="546.6" y2="966.1" stroke="#b8b8b8" stroke-width="1.1"/>
<line x1="546.6" y1="776.9" x2="546.6" y2="779.4" stroke="#b8b8b8" stroke-width="1.1"/>
<line x1="554.4" y1="757.4" x2="554.4" y2="759.9" stroke="#b8b8b8" stroke-width="1.1"/>
<line x1="554.4" y1="963.6" x2="554.4" y2="966.1" stroke="#b8b8b8" stroke-width="1.1"/>
<line x1="554.4" y1="776.9" x2="554.4" y2="779.4" stroke="#b8b8b8" stroke-width="1.1"/>
<line x1="562.3" y1="757.4" x2="562.3" y2="759.9" stroke="#b8b8b8" stroke-width="1.1"/>
<line x1="562.3" y1="963.6" x2="562.3" y2="966.1" stroke="#b8b8b8" stroke-width="1.1"/>
<line x1="562.3" y1="776.9" x2="562.3" y2="779.4" stroke="#b8b8b8" stroke-width="1.1"/>
<line x1="570.1" y1="757.4" x2="570.1" y2="759.9" stroke="#b8b8b8" stroke-width="1.1"/>
<line x1="570.1" y1="963.6" x2="570.1" y2="966.1" stroke="#b8b8b8" stroke-width="1.1"/>
<line x1="570.1" y1="776.9" x2="570.1" y2="779.4" stroke="#b8b8b8" stroke-width="1.1"/>
<line x1="577.9" y1="757.4" x2="577.9" y2="759.9" stroke="#b8b8b8" stroke-width="1.1"/>
<line x1="577.9" y1="963.6" x2="577.9" y2="966.1" stroke="#b8b8b8" stroke-width="1.1"/>
<line x1="577.9" y1="776.9" x2="577.9" y2="779.4" stroke="#b8b8b8" stroke-width="1.1"/>
<line x1="585.7" y1="757.4" x2="585.7" y2="759.9" stroke="#b8b8b8" stroke-width="1.1"/>
<line x1="585.7" y1="963.6" x2="585.7" y2="966.1" stroke="#b8b8b8" stroke-width="1.1"/>
<line x1="585.7" y1="776.9" x2="585.7" y2="779.4" stroke="#b8b8b8" stroke-width="1.1"/>
<line x1="593.5" y1="757.4" x2="593.5" y2="759.9" stroke="#b8b8b8" stroke-width="1.1"/>
<line x1="593.5" y1="963.6" x2="593.5" y2="966.1" stroke="#b8b8b8" stroke-width="1.1"/>
<line x1="593.5" y1="776.9" x2="593.5" y2="779.4" stroke="#b8b8b8" stroke-width="1.1"/>
<line x1="601.4" y1="757.4" x2="601.4" y2="759.9" stroke="#b8b8b8" stroke-width="1.1"/>
<line x1="601.4" y1="963.6" x2="601.4" y2="966.1" stroke="#b8b8b8" stroke-width="1.1"/>
<line x1="601.4" y1="776.9" x2="601.4" y2="779.4" stroke="#b8b8b8" stroke-width="1.1"/>
<line x1="609.2" y1="757.4" x2="609.2" y2="759.9" stroke="#b8b8b8" stroke-width="1.1"/>
<line x1="609.2" y1="963.6" x2="609.2" y2="966.1" stroke="#b8b8b8" stroke-width="1.1"/>
<line x1="609.2" y1="776.9" x2="609.2" y2="779.4" stroke="#b8b8b8" stroke-width="1.1"/>
<line x1="617.0" y1="757.4" x2="617.0" y2="759.9" stroke="#b8b8b8" stroke-width="1.1"/>
<line x1="617.0" y1="963.6" x2="617.0" y2="966.1" stroke="#b8b8b8" stroke-width="1.1"/>
<line x1="617.0" y1="776.9" x2="617.0" y2="779.4" stroke="#b8b8b8" stroke-width="1.1"/>
<line x1="624.8" y1="757.4" x2="624.8" y2="759.9" stroke="#b8b8b8" stroke-width="1.1"/>
<line x1="624.8" y1="963.6" x2="624.8" y2="966.1" stroke="#b8b8b8" stroke-width="1.1"/>
<line x1="624.8" y1="776.9" x2="624.8" y2="779.4" stroke="#b8b8b8" stroke-width="1.1"/>
<line x1="632.7" y1="757.4" x2="632.7" y2="759.9" stroke="#b8b8b8" stroke-width="1.1"/>
<line x1="632.7" y1="963.6" x2="632.7" y2="966.1" stroke="#b8b8b8" stroke-width="1.1"/>
<line x1="632.7" y1="776.9" x2="632.7" y2="779.4" stroke="#b8b8b8" stroke-width="1.1"/>
<line x1="640.5" y1="757.4" x2="640.5" y2="759.9" stroke="#b8b8b8" stroke-width="1.1"/>
<line x1="640.5" y1="963.6" x2="640.5" y2="966.1" stroke="#b8b8b8" stroke-width="1.1"/>
<line x1="640.5" y1="776.9" x2="640.5" y2="779.4" stroke="#b8b8b8" stroke-width="1.1"/>
<line x1="648.3" y1="757.4" x2="648.3" y2="759.9" stroke="#b8b8b8" stroke-width="1.1"/>
<line x1="648.3" y1="963.6" x2="648.3" y2="966.1" stroke="#b8b8b8" stroke-width="1.1"/>
<line x1="648.3" y1="776.9" x2="648.3" y2="779.4" stroke="#b8b8b8" stroke-width="1.1"/>
<line x1="656.1" y1="757.4" x2="656.1" y2="759.9" stroke="#b8b8b8" stroke-width="1.1"/>
<line x1="656.1" y1="963.6" x2="656.1" y2="966.1" stroke="#b8b8b8" stroke-width="1.1"/>
<line x1="656.1" y1="776.9" x2="656.1" y2="779.4" stroke="#b8b8b8" stroke-width="1.1"/>
<line x1="663.9" y1="757.4" x2="663.9" y2="759.9" stroke="#b8b8b8" stroke-width="1.1"/>
<line x1="663.9" y1="963.6" x2="663.9" y2="966.1" stroke="#b8b8b8" stroke-width="1.1"/>
<line x1="663.9" y1="776.9" x2="663.9" y2="779.4" stroke="#b8b8b8" stroke-width="1.1"/>
<line x1="671.8" y1="757.4" x2="671.8" y2="759.9" stroke="#b8b8b8" stroke-width="1.1"/>
<line x1="671.8" y1="963.6" x2="671.8" y2="966.1" stroke="#b8b8b8" stroke-width="1.1"/>
<line x1="671.8" y1="776.9" x2="671.8" y2="779.4" stroke="#b8b8b8" stroke-width="1.1"/>
<line x1="679.6" y1="757.4" x2="679.6" y2="759.9" stroke="#b8b8b8" stroke-width="1.1"/>
<line x1="679.6" y1="963.6" x2="679.6" y2="966.1" stroke="#b8b8b8" stroke-width="1.1"/>
<line x1="679.6" y1="776.9" x2="679.6" y2="779.4" stroke="#b8b8b8" stroke-width="1.1"/>
<line x1="687.4" y1="757.4" x2="687.4" y2="759.9" stroke="#b8b8b8" stroke-width="1.1"/>
<line x1="687.4" y1="963.6" x2="687.4" y2="966.1" stroke="#b8b8b8" stroke-width="1.1"/>
<line x1="687.4" y1="776.9" x2="687.4" y2="779.4" stroke="#b8b8b8" stroke-width="1.1"/>
<line x1="695.2" y1="757.4" x2="695.2" y2="759.9" stroke="#b8b8b8" stroke-width="1.1"/>
<line x1="695.2" y1="963.6" x2="695.2" y2="966.1" stroke="#b8b8b8" stroke-width="1.1"/>
<line x1="695.2" y1="776.9" x2="695.2" y2="779.4" stroke="#b8b8b8" stroke-width="1.1"/>
<line x1="703.0" y1="757.4" x2="703.0" y2="759.9" stroke="#b8b8b8" stroke-width="1.1"/>
<line x1="703.0" y1="963.6" x2="703.0" y2="966.1" stroke="#b8b8b8" stroke-width="1.1"/>
<line x1="703.0" y1="776.9" x2="703.0" y2="779.4" stroke="#b8b8b8" stroke-width="1.1"/>
<line x1="710.9" y1="757.4" x2="710.9" y2="759.9" stroke="#b8b8b8" stroke-width="1.1"/>
<line x1="710.9" y1="963.6" x2="710.9" y2="966.1" stroke="#b8b8b8" stroke-width="1.1"/>
<line x1="710.9" y1="776.9" x2="710.9" y2="779.4" stroke="#b8b8b8" stroke-width="1.1"/>
<line x1="718.7" y1="757.4" x2="718.7" y2="759.9" stroke="#b8b8b8" stroke-width="1.1"/>
<line x1="718.7" y1="963.6" x2="718.7" y2="966.1" stroke="#b8b8b8" stroke-width="1.1"/>
<line x1="718.7" y1="776.9" x2="718.7" y2="779.4" stroke="#b8b8b8" stroke-width="1.1"/>
<line x1="726.5" y1="757.4" x2="726.5" y2="759.9" stroke="#b8b8b8" stroke-width="1.1"/>
<line x1="726.5" y1="963.6" x2="726.5" y2="966.1" stroke="#b8b8b8" stroke-width="1.1"/>
<line x1="726.5" y1="776.9" x2="726.5" y2="779.4" stroke="#b8b8b8" stroke-width="1.1"/>
<line x1="734.3" y1="757.4" x2="734.3" y2="759.9" stroke="#b8b8b8" stroke-width="1.1"/>
<line x1="734.3" y1="963.6" x2="734.3" y2="966.1" stroke="#b8b8b8" stroke-width="1.1"/>
<line x1="734.3" y1="776.9" x2="734.3" y2="779.4" stroke="#b8b8b8" stroke-width="1.1"/>
<line x1="742.2" y1="757.4" x2="742.2" y2="759.9" stroke="#b8b8b8" stroke-width="1.1"/>
<line x1="742.2" y1="963.6" x2="742.2" y2="966.1" stroke="#b8b8b8" stroke-width="1.1"/>
<line x1="742.2" y1="776.9" x2="742.2" y2="779.4" stroke="#b8b8b8" stroke-width="1.1"/>
<line x1="750.0" y1="757.4" x2="750.0" y2="759.9" stroke="#b8b8b8" stroke-width="1.1"/>
<line x1="750.0" y1="963.6" x2="750.0" y2="966.1" stroke="#b8b8b8" stroke-width="1.1"/>
<line x1="750.0" y1="776.9" x2="750.0" y2="779.4" stroke="#b8b8b8" stroke-width="1.1"/>
<line x1="757.8" y1="757.4" x2="757.8" y2="759.9" stroke="#b8b8b8" stroke-width="1.1"/>
<line x1="757.8" y1="963.6" x2="757.8" y2="966.1" stroke="#b8b8b8" stroke-width="1.1"/>
<line x1="757.8" y1="776.9" x2="757.8" y2="779.4" stroke="#b8b8b8" stroke-width="1.1"/>
<line x1="765.6" y1="757.4" x2="765.6" y2="759.9" stroke="#b8b8b8" stroke-width="1.1"/>
<line x1="765.6" y1="963.6" x2="765.6" y2="966.1" stroke="#b8b8b8" stroke-width="1.1"/>
<line x1="765.6" y1="776.9" x2="765.6" y2="779.4" stroke="#b8b8b8" stroke-width="1.1"/>
<line x1="773.4" y1="757.4" x2="773.4" y2="759.9" stroke="#b8b8b8" stroke-width="1.1"/>
<line x1="773.4" y1="963.6" x2="773.4" y2="966.1" stroke="#b8b8b8" stroke-width="1.1"/>
<line x1="773.4" y1="776.9" x2="773.4" y2="779.4" stroke="#b8b8b8" stroke-width="1.1"/>
<line x1="781.3" y1="757.4" x2="781.3" y2="759.9" stroke="#b8b8b8" stroke-width="1.1"/>
<line x1="781.3" y1="963.6" x2="781.3" y2="966.1" stroke="#b8b8b8" stroke-width="1.1"/>
<line x1="781.3" y1="776.9" x2="781.3" y2="779.4" stroke="#b8b8b8" stroke-width="1.1"/>
<line x1="789.1" y1="757.4" x2="789.1" y2="759.9" stroke="#b8b8b8" stroke-width="1.1"/>
<line x1="789.1" y1="963.6" x2="789.1" y2="966.1" stroke="#b8b8b8" stroke-width="1.1"/>
<line x1="789.1" y1="776.9" x2="789.1" y2="779.4" stroke="#b8b8b8" stroke-width="1.1"/>
<line x1="796.9" y1="757.4" x2="796.9" y2="759.9" stroke="#b8b8b8" stroke-width="1.1"/>
<line x1="796.9" y1="963.6" x2="796.9" y2="966.1" stroke="#b8b8b8" stroke-width="1.1"/>
<line x1="796.9" y1="776.9" x2="796.9" y2="779.4" stroke="#b8b8b8" stroke-width="1.1"/>
<line x1="804.7" y1="757.4" x2="804.7" y2="759.9" stroke="#b8b8b8" stroke-width="1.1"/>
<line x1="804.7" y1="963.6" x2="804.7" y2="966.1" stroke="#b8b8b8" stroke-width="1.1"/>
<line x1="804.7" y1="776.9" x2="804.7" y2="779.4" stroke="#b8b8b8" stroke-width="1.1"/>
<line x1="812.6" y1="757.4" x2="812.6" y2="759.9" stroke="#b8b8b8" stroke-width="1.1"/>
<line x1="812.6" y1="963.6" x2="812.6" y2="966.1" stroke="#b8b8b8" stroke-width="1.1"/>
<line x1="812.6" y1="776.9" x2="812.6" y2="779.4" stroke="#b8b8b8" stroke-width="1.1"/>
<line x1="820.4" y1="757.4" x2="820.4" y2="759.9" stroke="#b8b8b8" stroke-width="1.1"/>
<line x1="820.4" y1="963.6" x2="820.4" y2="966.1" stroke="#b8b8b8" stroke-width="1.1"/>
<line x1="820.4" y1="776.9" x2="820.4" y2="779.4" stroke="#b8b8b8" stroke-width="1.1"/>
<line x1="828.2" y1="757.4" x2="828.2" y2="759.9" stroke="#b8b8b8" stroke-width="1.1"/>
<line x1="828.2" y1="963.6" x2="828.2" y2="966.1" stroke="#b8b8b8" stroke-width="1.1"/>
<line x1="828.2" y1="776.9" x2="828.2" y2="779.4" stroke="#b8b8b8" stroke-width="1.1"/>
<line x1="836.0" y1="757.4" x2="836.0" y2="759.9" stroke="#b8b8b8" stroke-width="1.1"/>
<line x1="836.0" y1="963.6" x2="836.0" y2="966.1" stroke="#b8b8b8" stroke-width="1.1"/>
<line x1="836.0" y1="776.9" x2="836.0" y2="779.4" stroke="#b8b8b8" stroke-width="1.1"/>
<line x1="843.8" y1="757.4" x2="843.8" y2="759.9" stroke="#b8b8b8" stroke-width="1.1"/>
<line x1="843.8" y1="963.6" x2="843.8" y2="966.1" stroke="#b8b8b8" stroke-width="1.1"/>
<line x1="843.8" y1="776.9" x2="843.8" y2="779.4" stroke="#b8b8b8" stroke-width="1.1"/>
<line x1="851.7" y1="757.4" x2="851.7" y2="759.9" stroke="#b8b8b8" stroke-width="1.1"/>
<line x1="851.7" y1="963.6" x2="851.7" y2="966.1" stroke="#b8b8b8" stroke-width="1.1"/>
<line x1="851.7" y1="776.9" x2="851.7" y2="779.4" stroke="#b8b8b8" stroke-width="1.1"/>
<line x1="859.5" y1="757.4" x2="859.5" y2="759.9" stroke="#b8b8b8" stroke-width="1.1"/>
<line x1="859.5" y1="963.6" x2="859.5" y2="966.1" stroke="#b8b8b8" stroke-width="1.1"/>
<line x1="859.5" y1="776.9" x2="859.5" y2="779.4" stroke="#b8b8b8" stroke-width="1.1"/>
<line x1="867.3" y1="757.4" x2="867.3" y2="759.9" stroke="#b8b8b8" stroke-width="1.1"/>
<line x1="867.3" y1="963.6" x2="867.3" y2="966.1" stroke="#b8b8b8" stroke-width="1.1"/>
<line x1="867.3" y1="776.9" x2="867.3" y2="779.4" stroke="#b8b8b8" stroke-width="1.1"/>
<line x1="875.1" y1="757.4" x2="875.1" y2="759.9" stroke="#b8b8b8" stroke-width="1.1"/>
<line x1="875.1" y1="963.6" x2="875.1" y2="966.1" stroke="#b8b8b8" stroke-width="1.1"/>
<line x1="875.1" y1="776.9" x2="875.1" y2="779.4" stroke="#b8b8b8" stroke-width="1.1"/>
<line x1="882.9" y1="757.4" x2="882.9" y2="759.9" stroke="#b8b8b8" stroke-width="1.1"/>
<line x1="882.9" y1="963.6" x2="882.9" y2="966.1" stroke="#b8b8b8" stroke-width="1.1"/>
<line x1="882.9" y1="776.9" x2="882.9" y2="779.4" stroke="#b8b8b8" stroke-width="1.1"/>
<line x1="890.8" y1="757.4" x2="890.8" y2="759.9" stroke="#b8b8b8" stroke-width="1.1"/>
<line x1="890.8" y1="963.6" x2="890.8" y2="966.1" stroke="#b8b8b8" stroke-width="1.1"/>
<line x1="890.8" y1="776.9" x2="890.8" y2="779.4" stroke="#b8b8b8" stroke-width="1.1"/>
<line x1="898.6" y1="757.4" x2="898.6" y2="759.9" stroke="#b8b8b8" stroke-width="1.1"/>
<line x1="898.6" y1="963.6" x2="898.6" y2="966.1" stroke="#b8b8b8" stroke-width="1.1"/>
<line x1="898.6" y1="776.9" x2="898.6" y2="779.4" stroke="#b8b8b8" stroke-width="1.1"/>
<line x1="906.4" y1="757.4" x2="906.4" y2="759.9" stroke="#b8b8b8" stroke-width="1.1"/>
<line x1="906.4" y1="963.6" x2="906.4" y2="966.1" stroke="#b8b8b8" stroke-width="1.1"/>
<line x1="906.4" y1="776.9" x2="906.4" y2="779.4" stroke="#b8b8b8" stroke-width="1.1"/>
<line x1="914.2" y1="757.4" x2="914.2" y2="759.9" stroke="#b8b8b8" stroke-width="1.1"/>
<line x1="914.2" y1="963.6" x2="914.2" y2="966.1" stroke="#b8b8b8" stroke-width="1.1"/>
<line x1="914.2" y1="776.9" x2="914.2" y2="779.4" stroke="#b8b8b8" stroke-width="1.1"/>
<line x1="922.1" y1="757.4" x2="922.1" y2="759.9" stroke="#b8b8b8" stroke-width="1.1"/>
<line x1="922.1" y1="963.6" x2="922.1" y2="966.1" stroke="#b8b8b8" stroke-width="1.1"/>
<line x1="922.1" y1="776.9" x2="922.1" y2="779.4" stroke="#b8b8b8" stroke-width="1.1"/>
<line x1="929.9" y1="757.4" x2="929.9" y2="759.9" stroke="#b8b8b8" stroke-width="1.1"/>
<line x1="929.9" y1="963.6" x2="929.9" y2="966.1" stroke="#b8b8b8" stroke-width="1.1"/>
<line x1="929.9" y1="776.9" x2="929.9" y2="779.4" stroke="#b8b8b8" stroke-width="1.1"/>
<line x1="937.7" y1="757.4" x2="937.7" y2="759.9" stroke="#b8b8b8" stroke-width="1.1"/>
<line x1="937.7" y1="963.6" x2="937.7" y2="966.1" stroke="#b8b8b8" stroke-width="1.1"/>
<line x1="937.7" y1="776.9" x2="937.7" y2="779.4" stroke="#b8b8b8" stroke-width="1.1"/>
<line x1="945.5" y1="757.4" x2="945.5" y2="759.9" stroke="#b8b8b8" stroke-width="1.1"/>
<line x1="945.5" y1="963.6" x2="945.5" y2="966.1" stroke="#b8b8b8" stroke-width="1.1"/>
<line x1="945.5" y1="776.9" x2="945.5" y2="779.4" stroke="#b8b8b8" stroke-width="1.1"/>
<line x1="953.3" y1="757.4" x2="953.3" y2="759.9" stroke="#b8b8b8" stroke-width="1.1"/>
<line x1="953.3" y1="963.6" x2="953.3" y2="966.1" stroke="#b8b8b8" stroke-width="1.1"/>
<line x1="953.3" y1="776.9" x2="953.3" y2="779.4" stroke="#b8b8b8" stroke-width="1.1"/>
<line x1="961.2" y1="757.4" x2="961.2" y2="759.9" stroke="#b8b8b8" stroke-width="1.1"/>
<line x1="961.2" y1="963.6" x2="961.2" y2="966.1" stroke="#b8b8b8" stroke-width="1.1"/>
<line x1="961.2" y1="776.9" x2="961.2" y2="779.4" stroke="#b8b8b8" stroke-width="1.1"/>
<line x1="969.0" y1="757.4" x2="969.0" y2="759.9" stroke="#b8b8b8" stroke-width="1.1"/>
<line x1="969.0" y1="963.6" x2="969.0" y2="966.1" stroke="#b8b8b8" stroke-width="1.1"/>
<line x1="969.0" y1="776.9" x2="969.0" y2="779.4" stroke="#b8b8b8" stroke-width="1.1"/>
<line x1="976.8" y1="757.4" x2="976.8" y2="759.9" stroke="#b8b8b8" stroke-width="1.1"/>
<line x1="976.8" y1="963.6" x2="976.8" y2="966.1" stroke="#b8b8b8" stroke-width="1.1"/>
<line x1="976.8" y1="776.9" x2="976.8" y2="779.4" stroke="#b8b8b8" stroke-width="1.1"/>
<line x1="984.6" y1="757.4" x2="984.6" y2="759.9" stroke="#b8b8b8" stroke-width="1.1"/>
<line x1="984.6" y1="963.6" x2="984.6" y2="966.1" stroke="#b8b8b8" stroke-width="1.1"/>
<line x1="984.6" y1="776.9" x2="984.6" y2="779.4" stroke="#b8b8b8" stroke-width="1.1"/>
<line x1="992.4" y1="757.4" x2="992.4" y2="759.9" stroke="#b8b8b8" stroke-width="1.1"/>
<line x1="992.4" y1="963.6" x2="992.4" y2="966.1" stroke="#b8b8b8" stroke-width="1.1"/>
<line x1="992.4" y1="776.9" x2="992.4" y2="779.4" stroke="#b8b8b8" stroke-width="1.1"/>
<line x1="1000.3" y1="757.4" x2="1000.3" y2="759.9" stroke="#b8b8b8" stroke-width="1.1"/>
<line x1="1000.3" y1="963.6" x2="1000.3" y2="966.1" stroke="#b8b8b8" stroke-width="1.1"/>
<line x1="1000.3" y1="776.9" x2="1000.3" y2="779.4" stroke="#b8b8b8" stroke-width="1.1"/>
<line x1="1008.1" y1="757.4" x2="1008.1" y2="759.9" stroke="#b8b8b8" stroke-width="1.1"/>
<line x1="1008.1" y1="963.6" x2="1008.1" y2="966.1" stroke="#b8b8b8" stroke-width="1.1"/>
<line x1="1008.1" y1="776.9" x2="1008.1" y2="779.4" stroke="#b8b8b8" stroke-width="1.1"/>
<line x1="1015.9" y1="757.4" x2="1015.9" y2="759.9" stroke="#b8b8b8" stroke-width="1.1"/>
<line x1="1015.9" y1="963.6" x2="1015.9" y2="966.1" stroke="#b8b8b8" stroke-width="1.1"/>
<line x1="1015.9" y1="776.9" x2="1015.9" y2="779.4" stroke="#b8b8b8" stroke-width="1.1"/>
<line x1="1023.7" y1="757.4" x2="1023.7" y2="759.9" stroke="#b8b8b8" stroke-width="1.1"/>
<line x1="1023.7" y1="963.6" x2="1023.7" y2="966.1" stroke="#b8b8b8" stroke-width="1.1"/>
<line x1="1023.7" y1="776.9" x2="1023.7" y2="779.4" stroke="#b8b8b8" stroke-width="1.1"/>
<line x1="1031.6" y1="757.4" x2="1031.6" y2="759.9" stroke="#b8b8b8" stroke-width="1.1"/>
<line x1="1031.6" y1="963.6" x2="1031.6" y2="966.1" stroke="#b8b8b8" stroke-width="1.1"/>
<line x1="1031.6" y1="776.9" x2="1031.6" y2="779.4" stroke="#b8b8b8" stroke-width="1.1"/>
<line x1="1039.4" y1="757.4" x2="1039.4" y2="759.9" stroke="#b8b8b8" stroke-width="1.1"/>
<line x1="1039.4" y1="963.6" x2="1039.4" y2="966.1" stroke="#b8b8b8" stroke-width="1.1"/>
<line x1="1039.4" y1="776.9" x2="1039.4" y2="779.4" stroke="#b8b8b8" stroke-width="1.1"/>
<line x1="1047.2" y1="757.4" x2="1047.2" y2="759.9" stroke="#b8b8b8" stroke-width="1.1"/>
<line x1="1047.2" y1="963.6" x2="1047.2" y2="966.1" stroke="#b8b8b8" stroke-width="1.1"/>
<line x1="1047.2" y1="776.9" x2="1047.2" y2="779.4" stroke="#b8b8b8" stroke-width="1.1"/>
<line x1="1055.0" y1="757.4" x2="1055.0" y2="759.9" stroke="#b8b8b8" stroke-width="1.1"/>
<line x1="1055.0" y1="963.6" x2="1055.0" y2="966.1" stroke="#b8b8b8" stroke-width="1.1"/>
<line x1="1055.0" y1="776.9" x2="1055.0" y2="779.4" stroke="#b8b8b8" stroke-width="1.1"/>
<line x1="1062.8" y1="757.4" x2="1062.8" y2="759.9" stroke="#b8b8b8" stroke-width="1.1"/>
<line x1="1062.8" y1="963.6" x2="1062.8" y2="966.1" stroke="#b8b8b8" stroke-width="1.1"/>
<line x1="1062.8" y1="776.9" x2="1062.8" y2="779.4" stroke="#b8b8b8" stroke-width="1.1"/>
<line x1="1070.7" y1="757.4" x2="1070.7" y2="759.9" stroke="#b8b8b8" stroke-width="1.1"/>
<line x1="1070.7" y1="963.6" x2="1070.7" y2="966.1" stroke="#b8b8b8" stroke-width="1.1"/>
<line x1="1070.7" y1="776.9" x2="1070.7" y2="779.4" stroke="#b8b8b8" stroke-width="1.1"/>
<line x1="1078.5" y1="757.4" x2="1078.5" y2="759.9" stroke="#b8b8b8" stroke-width="1.1"/>
<line x1="1078.5" y1="963.6" x2="1078.5" y2="966.1" stroke="#b8b8b8" stroke-width="1.1"/>
<line x1="1078.5" y1="776.9" x2="1078.5" y2="779.4" stroke="#b8b8b8" stroke-width="1.1"/>
<line x1="1086.3" y1="757.4" x2="1086.3" y2="759.9" stroke="#b8b8b8" stroke-width="1.1"/>
<line x1="1086.3" y1="963.6" x2="1086.3" y2="966.1" stroke="#b8b8b8" stroke-width="1.1"/>
<line x1="1086.3" y1="776.9" x2="1086.3" y2="779.4" stroke="#b8b8b8" stroke-width="1.1"/>
<line x1="1094.1" y1="757.4" x2="1094.1" y2="759.9" stroke="#b8b8b8" stroke-width="1.1"/>
<line x1="1094.1" y1="963.6" x2="1094.1" y2="966.1" stroke="#b8b8b8" stroke-width="1.1"/>
<line x1="1094.1" y1="776.9" x2="1094.1" y2="779.4" stroke="#b8b8b8" stroke-width="1.1"/>
<line x1="1101.9" y1="757.4" x2="1101.9" y2="759.9" stroke="#b8b8b8" stroke-width="1.1"/>
<line x1="1101.9" y1="963.6" x2="1101.9" y2="966.1" stroke="#b8b8b8" stroke-width="1.1"/>
<line x1="1101.9" y1="776.9" x2="1101.9" y2="779.4" stroke="#b8b8b8" stroke-width="1.1"/>
<line x1="1109.8" y1="757.4" x2="1109.8" y2="759.9" stroke="#b8b8b8" stroke-width="1.1"/>
<line x1="1109.8" y1="963.6" x2="1109.8" y2="966.1" stroke="#b8b8b8" stroke-width="1.1"/>
<line x1="1109.8" y1="776.9" x2="1109.8" y2="779.4" stroke="#b8b8b8" stroke-width="1.1"/>
<line x1="1117.6" y1="757.4" x2="1117.6" y2="759.9" stroke="#b8b8b8" stroke-width="1.1"/>
<line x1="1117.6" y1="963.6" x2="1117.6" y2="966.1" stroke="#b8b8b8" stroke-width="1.1"/>
<line x1="1117.6" y1="776.9" x2="1117.6" y2="779.4" stroke="#b8b8b8" stroke-width="1.1"/>
<line x1="1125.4" y1="757.4" x2="1125.4" y2="759.9" stroke="#b8b8b8" stroke-width="1.1"/>
<line x1="1125.4" y1="963.6" x2="1125.4" y2="966.1" stroke="#b8b8b8" stroke-width="1.1"/>
<line x1="1125.4" y1="776.9" x2="1125.4" y2="779.4" stroke="#b8b8b8" stroke-width="1.1"/>
<line x1="1133.2" y1="757.4" x2="1133.2" y2="759.9" stroke="#b8b8b8" stroke-width="1.1"/>
<line x1="1133.2" y1="963.6" x2="1133.2" y2="966.1" stroke="#b8b8b8" stroke-width="1.1"/>
<line x1="1133.2" y1="776.9" x2="1133.2" y2="779.4" stroke="#b8b8b8" stroke-width="1.1"/>
<line x1="1141.1" y1="757.4" x2="1141.1" y2="759.9" stroke="#b8b8b8" stroke-width="1.1"/>
<line x1="1141.1" y1="963.6" x2="1141.1" y2="966.1" stroke="#b8b8b8" stroke-width="1.1"/>
<line x1="1141.1" y1="776.9" x2="1141.1" y2="779.4" stroke="#b8b8b8" stroke-width="1.1"/>
<line x1="1148.9" y1="757.4" x2="1148.9" y2="759.9" stroke="#b8b8b8" stroke-width="1.1"/>
<line x1="1148.9" y1="963.6" x2="1148.9" y2="966.1" stroke="#b8b8b8" stroke-width="1.1"/>
<line x1="1148.9" y1="776.9" x2="1148.9" y2="779.4" stroke="#b8b8b8" stroke-width="1.1"/>
<line x1="1156.7" y1="757.4" x2="1156.7" y2="759.9" stroke="#b8b8b8" stroke-width="1.1"/>
<line x1="1156.7" y1="963.6" x2="1156.7" y2="966.1" stroke="#b8b8b8" stroke-width="1.1"/>
<line x1="1156.7" y1="776.9" x2="1156.7" y2="779.4" stroke="#b8b8b8" stroke-width="1.1"/>
<line x1="1164.5" y1="757.4" x2="1164.5" y2="759.9" stroke="#b8b8b8" stroke-width="1.1"/>
<line x1="1164.5" y1="963.6" x2="1164.5" y2="966.1" stroke="#b8b8b8" stroke-width="1.1"/>
<line x1="1164.5" y1="776.9" x2="1164.5" y2="779.4" stroke="#b8b8b8" stroke-width="1.1"/>
<line x1="1172.3" y1="757.4" x2="1172.3" y2="759.9" stroke="#b8b8b8" stroke-width="1.1"/>
<line x1="1172.3" y1="963.6" x2="1172.3" y2="966.1" stroke="#b8b8b8" stroke-width="1.1"/>
<line x1="1172.3" y1="776.9" x2="1172.3" y2="779.4" stroke="#b8b8b8" stroke-width="1.1"/>
<line x1="1180.2" y1="757.4" x2="1180.2" y2="759.9" stroke="#b8b8b8" stroke-width="1.1"/>
<line x1="1180.2" y1="963.6" x2="1180.2" y2="966.1" stroke="#b8b8b8" stroke-width="1.1"/>
<line x1="1180.2" y1="776.9" x2="1180.2" y2="779.4" stroke="#b8b8b8" stroke-width="1.1"/>
<line x1="1188.0" y1="757.4" x2="1188.0" y2="759.9" stroke="#b8b8b8" stroke-width="1.1"/>
<line x1="1188.0" y1="963.6" x2="1188.0" y2="966.1" stroke="#b8b8b8" stroke-width="1.1"/>
<line x1="1188.0" y1="776.9" x2="1188.0" y2="779.4" stroke="#b8b8b8" stroke-width="1.1"/>
<line x1="1195.8" y1="757.4" x2="1195.8" y2="759.9" stroke="#b8b8b8" stroke-width="1.1"/>
<line x1="1195.8" y1="963.6" x2="1195.8" y2="966.1" stroke="#b8b8b8" stroke-width="1.1"/>
<line x1="1195.8" y1="776.9" x2="1195.8" y2="779.4" stroke="#b8b8b8" stroke-width="1.1"/>
<line x1="1203.6" y1="757.4" x2="1203.6" y2="759.9" stroke="#b8b8b8" stroke-width="1.1"/>
<line x1="1203.6" y1="963.6" x2="1203.6" y2="966.1" stroke="#b8b8b8" stroke-width="1.1"/>
<line x1="1203.6" y1="776.9" x2="1203.6" y2="779.4" stroke="#b8b8b8" stroke-width="1.1"/>
<line x1="1211.4" y1="757.4" x2="1211.4" y2="759.9" stroke="#b8b8b8" stroke-width="1.1"/>
<line x1="1211.4" y1="963.6" x2="1211.4" y2="966.1" stroke="#b8b8b8" stroke-width="1.1"/>
<line x1="1211.4" y1="776.9" x2="1211.4" y2="779.4" stroke="#b8b8b8" stroke-width="1.1"/>
<line x1="1219.3" y1="757.4" x2="1219.3" y2="759.9" stroke="#b8b8b8" stroke-width="1.1"/>
<line x1="1219.3" y1="963.6" x2="1219.3" y2="966.1" stroke="#b8b8b8" stroke-width="1.1"/>
<line x1="1219.3" y1="776.9" x2="1219.3" y2="779.4" stroke="#b8b8b8" stroke-width="1.1"/>
<line x1="1227.1" y1="757.4" x2="1227.1" y2="759.9" stroke="#b8b8b8" stroke-width="1.1"/>
<line x1="1227.1" y1="963.6" x2="1227.1" y2="966.1" stroke="#b8b8b8" stroke-width="1.1"/>
<line x1="1227.1" y1="776.9" x2="1227.1" y2="779.4" stroke="#b8b8b8" stroke-width="1.1"/>
<line x1="1234.9" y1="757.4" x2="1234.9" y2="759.9" stroke="#b8b8b8" stroke-width="1.1"/>
<line x1="1234.9" y1="963.6" x2="1234.9" y2="966.1" stroke="#b8b8b8" stroke-width="1.1"/>
<line x1="1234.9" y1="776.9" x2="1234.9" y2="779.4" stroke="#b8b8b8" stroke-width="1.1"/>
<line x1="1242.7" y1="757.4" x2="1242.7" y2="759.9" stroke="#b8b8b8" stroke-width="1.1"/>
<line x1="1242.7" y1="963.6" x2="1242.7" y2="966.1" stroke="#b8b8b8" stroke-width="1.1"/>
<line x1="1242.7" y1="776.9" x2="1242.7" y2="779.4" stroke="#b8b8b8" stroke-width="1.1"/>
<line x1="1250.6" y1="757.4" x2="1250.6" y2="759.9" stroke="#b8b8b8" stroke-width="1.1"/>
<line x1="1250.6" y1="963.6" x2="1250.6" y2="966.1" stroke="#b8b8b8" stroke-width="1.1"/>
<line x1="1250.6" y1="776.9" x2="1250.6" y2="779.4" stroke="#b8b8b8" stroke-width="1.1"/>
<path d="M1257.8,158.7 L1264.5,150.9 H1309.6 V166.5 H1264.5 Z" fill="#fff" stroke="#111" stroke-width="1.6" stroke-linejoin="miter"/>
<text x="1265.02" y="163.46" font-size="13.80" fill="#000" textLength="42.60" lengthAdjust="spacingAndGlyphs">36.36</text>
<path d="M1257.8,275.4 L1264.5,267.6 H1327.6 V283.2 H1264.5 Z" fill="#fff" stroke="#2a2ac0" stroke-width="1.9" stroke-linejoin="miter"/>
<text x="1265.03" y="280.55" font-size="14.93" fill="#000" textLength="60.16" lengthAdjust="spacingAndGlyphs">3461.04</text>
<path d="M1257.8,306.0 L1264.5,297.9 H1327.6 V314.1 H1264.5 Z" fill="#fff" stroke="#d4103c" stroke-width="1.9" stroke-linejoin="miter"/>
<text x="1265.03" y="311.15" font-size="14.93" fill="#000" textLength="60.25" lengthAdjust="spacingAndGlyphs">3365.70</text>
<path d="M1257.8,288.0 L1264.5,279.9 H1326.8 V296.1 H1264.5 Z" fill="#fff" stroke="#000" stroke-width="2.2" stroke-linejoin="miter"/>
<text x="1265.29" y="293.54" font-size="16.06" font-weight="bold" fill="#000" textLength="59.99" lengthAdjust="spacingAndGlyphs">3426.96</text>
<path d="M1257.2,804.6 L1264,796.4 H1319.6 V812 H1264 Z" fill="#fff" stroke="#f01818" stroke-width="1.7"/>
<path d="M1257.8,806.0 L1264.5,798.0 H1319.3 V814.0 H1264.5 Z" fill="#fff" stroke="#111" stroke-width="1.9" stroke-linejoin="miter"/>
<text x="1265.02" y="811.39" font-size="15.63" fill="#000" textLength="51.70" lengthAdjust="spacingAndGlyphs">57.172</text>
<path d="M1257.8,837.4 L1264.5,829.4 H1314.6 V845.4 H1264.5 Z" fill="#fff" stroke="#3a6ea5" stroke-width="1.6" stroke-linejoin="miter"/>
<text x="1264.95" y="842.60" font-size="15.07" fill="#000" textLength="47.09" lengthAdjust="spacingAndGlyphs">-4.537</text>
<path d="M31.5,234.5V242.5M29.5,236H31.5M31.5,239.5H33.5 M37,234V246.5M34.2,243.2L37,246.8L39.8,243.2 M35,238.5H37 M41.8,235V242M41.8,238.5H43.8M39.8,240H41.8" stroke="#111" stroke-width="1.5" fill="none"/>
<text x="49.11" y="245.80" font-size="14.9" fill="#111" textLength="184.99" lengthAdjust="spacingAndGlyphs">$SPX (Daily) 3426.96</text>
<line x1="30" y1="256.3" x2="43.5" y2="256.3" stroke="#1c1c9c" stroke-width="2.6"/>
<text x="44.87" y="260.47" font-size="12.51" fill="#1c1c9c" textLength="101.46" lengthAdjust="spacingAndGlyphs">MA(13) 3461.0</text>
<line x1="30" y1="273.6" x2="43.5" y2="273.6" stroke="#d4103c" stroke-width="2.6"/>
<text x="44.87" y="277.93" font-size="12.73" fill="#d4103c" textLength="101.70" lengthAdjust="spacingAndGlyphs">MA(34) 3365.7</text>
<line x1="29.5" y1="790.2" x2="43.8" y2="790.2" stroke="#111" stroke-width="3"/>
<text x="48.44" y="794.77" font-size="14.44" fill="#111" textLength="199.90" lengthAdjust="spacingAndGlyphs">MACD(12,26,9) 57.172</text>
<text x="247.93" y="795.60" font-size="14" fill="#f01818" textLength="75.30" lengthAdjust="spacingAndGlyphs">, 61.709</text>
<text x="321.94" y="795.60" font-size="14" fill="#3a9ad0" textLength="70.12" lengthAdjust="spacingAndGlyphs">, -4.537</text>
<line x1="1008.4" y1="239.6" x2="1261" y2="239.6" stroke="#000" stroke-width="1.15"/>
<line x1="998.4" y1="447.3" x2="1253.2" y2="447.3" stroke="#000" stroke-width="1.15"/>
<line x1="998.4" y1="499.3" x2="1253.2" y2="499.3" stroke="#000" stroke-width="1.15"/>
<line x1="998.4" y1="551.3" x2="1253.2" y2="551.3" stroke="#000" stroke-width="1.15"/>
<line x1="343" y1="747.3" x2="1258.7" y2="747.3" stroke="#000" stroke-width="1.5"/>
<line x1="444.8" y1="488" x2="490.8" y2="458.8" stroke="#ed7d31" stroke-width="1.3"/>
<line x1="449.6" y1="531.5" x2="492" y2="488.6" stroke="#ed7d31" stroke-width="1.3"/>
<rect x="146.7" y="225" width="33.5" height="41.5" fill="#fff"/>
<rect x="161.8" y="236" width="3.7" height="17.8" fill="#0033cc"/>
<rect x="147.5" y="264" width="33" height="27" fill="#fff"/>
<text x="149.51" y="283.51" font-size="21.39" font-weight="bold" fill="#000" textLength="28.63" lengthAdjust="spacingAndGlyphs">[5]</text>
<rect x="220.8" y="316.3" width="29.1" height="27.6" fill="#fff"/>
<text x="222.43" y="336.00" font-size="19.04" font-weight="bold" fill="#5c0f6e" textLength="26.08" lengthAdjust="spacingAndGlyphs">(2)</text>
<rect x="208.6" y="469.6" width="28.8" height="29.3" fill="#fff"/>
<text x="210.25" y="490.62" font-size="20.86" font-weight="bold" fill="#5c0f6e" textLength="25.75" lengthAdjust="spacingAndGlyphs">(1)</text>
<rect x="287.3" y="497.8" width="29.1" height="28.8" fill="#fff"/>
<text x="288.93" y="518.43" font-size="20.32" font-weight="bold" fill="#5c0f6e" textLength="26.08" lengthAdjust="spacingAndGlyphs">(4)</text>
<rect x="278.0" y="633.6" width="28.4" height="29.5" fill="#fff"/>
<text x="279.66" y="654.78" font-size="21.07" font-weight="bold" fill="#5c0f6e" textLength="25.31" lengthAdjust="spacingAndGlyphs">(3)</text>
<rect x="743.0" y="286.3" width="29.6" height="28.8" fill="#fff"/>
<text x="744.75" y="306.93" font-size="20.32" font-weight="bold" fill="#5c0f6e" textLength="26.37" lengthAdjust="spacingAndGlyphs">(A)</text>
<rect x="859.6" y="457.3" width="28.6" height="29.2" fill="#fff"/>
<text x="861.39" y="478.24" font-size="20.75" font-weight="bold" fill="#5c0f6e" textLength="25.29" lengthAdjust="spacingAndGlyphs">(B)</text>
<rect x="360.7" y="518.9" width="12.8" height="22.4" fill="#fff"/>
<text x="362.33" y="535.30" font-size="15.80" font-weight="bold" fill="#0f2060" textLength="8.99" lengthAdjust="spacingAndGlyphs">1</text>
<rect x="396.0" y="661.1" width="13.6" height="23.1" fill="#fff"/>
<text x="397.99" y="678.20" font-size="16.57" font-weight="bold" fill="#0f2060" textLength="9.73" lengthAdjust="spacingAndGlyphs">2</text>
<rect x="541.4" y="388.9" width="14.5" height="22.9" fill="#fff"/>
<text x="543.53" y="405.64" font-size="16.06" font-weight="bold" fill="#0f2060" textLength="10.45" lengthAdjust="spacingAndGlyphs">3</text>
<rect x="628.4" y="535.4" width="14.2" height="22.8" fill="#fff"/>
<text x="630.75" y="552.20" font-size="16.38" font-weight="bold" fill="#0f2060" textLength="9.36" lengthAdjust="spacingAndGlyphs">4</text>
<rect x="751.4" y="313.0" width="13.8" height="22.8" fill="#fff"/>
<text x="753.48" y="329.64" font-size="16.14" font-weight="bold" fill="#0f2060" textLength="9.57" lengthAdjust="spacingAndGlyphs">5</text>
<rect x="788.4" y="443.3" width="16.7" height="23.4" fill="#fff"/>
<text x="790.57" y="460.70" font-size="17.25" font-weight="bold" fill="#0f2060" textLength="12.40" lengthAdjust="spacingAndGlyphs">A</text>
<rect x="820.8" y="347.3" width="14.6" height="22.9" fill="#fff"/>
<text x="822.40" y="364.20" font-size="16.52" font-weight="bold" fill="#0f2060" textLength="11.13" lengthAdjust="spacingAndGlyphs">B</text>
<rect x="867.3" y="438.2" width="14.8" height="23.4" fill="#fff"/>
<text x="869.31" y="455.43" font-size="16.76" font-weight="bold" fill="#0f2060" textLength="10.58" lengthAdjust="spacingAndGlyphs">C</text>
<rect x="990.4" y="294.8" width="23.0" height="22.9" fill="#fff"/>
<text x="991.98" y="311.70" font-size="16.29" font-weight="bold" fill="#0f2060" textLength="19.78" lengthAdjust="spacingAndGlyphs">1?</text>
<rect x="1037.4" y="366.8" width="22.8" height="23.6" fill="#fff"/>
<text x="1039.43" y="384.40" font-size="17.29" font-weight="bold" fill="#0f2060" textLength="19.11" lengthAdjust="spacingAndGlyphs">2?</text>
<rect x="419.1" y="488.7" width="16.9" height="19.4" fill="#fff"/>
<text x="420.78" y="502.67" font-size="13.48" font-weight="bold" fill="#ed7d31" textLength="13.52" lengthAdjust="spacingAndGlyphs">(i)</text>
<rect x="427.6" y="563.4" width="20.3" height="19.4" fill="#fff"/>
<text x="429.31" y="577.37" font-size="13.48" font-weight="bold" fill="#ed7d31" textLength="16.83" lengthAdjust="spacingAndGlyphs">(ii)</text>
<rect x="428.5" y="465.3" width="24.4" height="18.3" fill="#fff"/>
<text x="430.20" y="478.42" font-size="12.30" font-weight="bold" fill="#ed7d31" textLength="20.99" lengthAdjust="spacingAndGlyphs">(iii)</text>
<rect x="464.9" y="516.8" width="23.4" height="19.2" fill="#fff"/>
<text x="466.64" y="530.61" font-size="13.26" font-weight="bold" fill="#ed7d31" textLength="19.93" lengthAdjust="spacingAndGlyphs">(iv)</text>
<rect x="474.6" y="445.1" width="18.9" height="18.5" fill="#fff"/>
<text x="476.37" y="458.37" font-size="12.51" font-weight="bold" fill="#ed7d31" textLength="15.32" lengthAdjust="spacingAndGlyphs">(v)</text>
<rect x="399.6" y="573.3" width="18.4" height="20.9" fill="#fff"/>
<text x="401.10" y="588.43" font-size="15.08" font-weight="bold" fill="#375623" textLength="15.47" lengthAdjust="spacingAndGlyphs">[i]</text>
<rect x="407.1" y="637.8" width="21.7" height="21.3" fill="#fff"/>
<text x="408.66" y="653.24" font-size="15.51" font-weight="bold" fill="#375623" textLength="18.60" lengthAdjust="spacingAndGlyphs">[ii]</text>
<rect x="470.8" y="425.0" width="27.1" height="20.7" fill="#fff"/>
<text x="472.31" y="439.98" font-size="14.87" font-weight="bold" fill="#375623" textLength="24.14" lengthAdjust="spacingAndGlyphs">[iii]</text>
<rect x="491.0" y="540.4" width="26.4" height="21.5" fill="#fff"/>
<text x="492.54" y="556.00" font-size="15.72" font-weight="bold" fill="#375623" textLength="23.39" lengthAdjust="spacingAndGlyphs">[iv]</text>
<rect x="537.8" y="410.4" width="22.4" height="20.7" fill="#fff"/>
<text x="539.33" y="425.38" font-size="14.87" font-weight="bold" fill="#375623" textLength="19.38" lengthAdjust="spacingAndGlyphs">[v]</text>
<rect x="560.5" y="503.3" width="22.5" height="21.3" fill="#fff"/>
<text x="562.02" y="518.74" font-size="15.51" font-weight="bold" fill="#375623" textLength="19.49" lengthAdjust="spacingAndGlyphs">[a]</text>
<rect x="604.6" y="414.7" width="22.5" height="21.4" fill="#fff"/>
<text x="606.16" y="430.22" font-size="15.61" font-weight="bold" fill="#375623" textLength="19.40" lengthAdjust="spacingAndGlyphs">[b]</text>
<rect x="624.9" y="513.8" width="21.2" height="21.6" fill="#fff"/>
<text x="626.49" y="529.48" font-size="15.83" font-weight="bold" fill="#375623" textLength="18.06" lengthAdjust="spacingAndGlyphs">[c]</text>
<rect x="640.0" y="405.3" width="18.7" height="21.3" fill="#fff"/>
<text x="641.48" y="420.74" font-size="15.51" font-weight="bold" fill="#375623" textLength="15.81" lengthAdjust="spacingAndGlyphs">[i]</text>
<rect x="650.1" y="471.0" width="23.0" height="21.2" fill="#fff"/>
<text x="651.60" y="486.37" font-size="15.40" font-weight="bold" fill="#375623" textLength="20.03" lengthAdjust="spacingAndGlyphs">[ii]</text>
<rect x="718.0" y="349.9" width="26.3" height="21.2" fill="#fff"/>
<text x="719.55" y="365.27" font-size="15.40" font-weight="bold" fill="#375623" textLength="23.28" lengthAdjust="spacingAndGlyphs">[iii]</text>
<rect x="731.9" y="403.4" width="26.3" height="21.5" fill="#fff"/>
<text x="733.45" y="419.00" font-size="15.72" font-weight="bold" fill="#375623" textLength="23.29" lengthAdjust="spacingAndGlyphs">[iv]</text>
<rect x="1206" y="206" width="60" height="26" fill="#fff"/>
<text x="1210.00" y="225.24" font-size="16.06" font-weight="bold" fill="#0f2060" textLength="52.87" lengthAdjust="spacingAndGlyphs">3 or 5?</text>
<rect x="326.7" y="754.4" width="35.5" height="25.5" fill="#fff"/>
<text x="331.96" y="774.16" font-size="20.21" font-weight="bold" fill="#5c0f6e" textLength="25.53" lengthAdjust="spacingAndGlyphs">(5)</text>
<rect x="327" y="782.5" width="36" height="27.5" fill="#fff"/>
<text x="329.98" y="802.67" font-size="22.99" font-weight="bold" fill="#000" textLength="30.81" lengthAdjust="spacingAndGlyphs">[A]</text>
<rect x="1008.7" y="211.0" width="96.3" height="22.9" fill="#fff"/>
<text x="1011.43" y="230.24" font-size="16.06" fill="#111" textLength="90.30" lengthAdjust="spacingAndGlyphs">100%: 3588</text>
<rect x="1001.0" y="418.3" width="101.2" height="24.6" fill="#fff"/>
<text x="1004.33" y="439.22" font-size="18.45" fill="#111" textLength="94.56" lengthAdjust="spacingAndGlyphs">38.2%: 3055</text>
<rect x="1001.0" y="471.3" width="87.3" height="24.2" fill="#fff"/>
<text x="1004.33" y="491.82" font-size="17.89" fill="#111" textLength="80.59" lengthAdjust="spacingAndGlyphs">50%: 2790</text>
<rect x="1001.0" y="524.6" width="101.2" height="23.9" fill="#fff"/>
<text x="1004.16" y="544.83" font-size="17.46" fill="#111" textLength="94.73" lengthAdjust="spacingAndGlyphs">61.8%: 2725</text>
<rect x="1143.3" y="719.9" width="95.9" height="23.8" fill="#fff"/>
<text x="1146.04" y="740.03" font-size="17.32" fill="#111" textLength="89.97" lengthAdjust="spacingAndGlyphs">100%: 2191</text>
<rect x="28.7" y="813" width="530.3" height="144.8" fill="#fff" stroke="#0f7d0f" stroke-width="2"/>
<text x="43.89" y="842.50" font-size="24.0" font-weight="bold" fill="#0033cc" textLength="331.89" lengthAdjust="spacingAndGlyphs">Cycle I II III IV V / a b c w x y</text>
<text x="43.43" y="873.50" font-size="21.2" font-weight="bold" fill="#000" textLength="495.09" lengthAdjust="spacingAndGlyphs">Primary [1] [2] [3] [4] [5] / [A] [B] [C] [W] [X] [Y]</text>
<text x="43.68" y="900.20" font-size="17.3" font-weight="bold" fill="#660a6a" textLength="452.56" lengthAdjust="spacingAndGlyphs">Intermediate (1) (2) (3) (4) (5) / (A) (B) (C) (W) (X) (Y)</text>
<text x="43.83" y="923.60" font-size="15.0" font-weight="bold" fill="#0f2060" textLength="222.24" lengthAdjust="spacingAndGlyphs">Minor 1 2 3 4 5 / A B C W X Y</text>
<text x="43.91" y="943.40" font-size="13.8" font-weight="bold" fill="#0f7d0f" textLength="318.14" lengthAdjust="spacingAndGlyphs">Minute [i] [ii] [iii] [iv] [v] / [a] [b] [c] [w] [x] [y]</text>
</svg>
</body></html>
